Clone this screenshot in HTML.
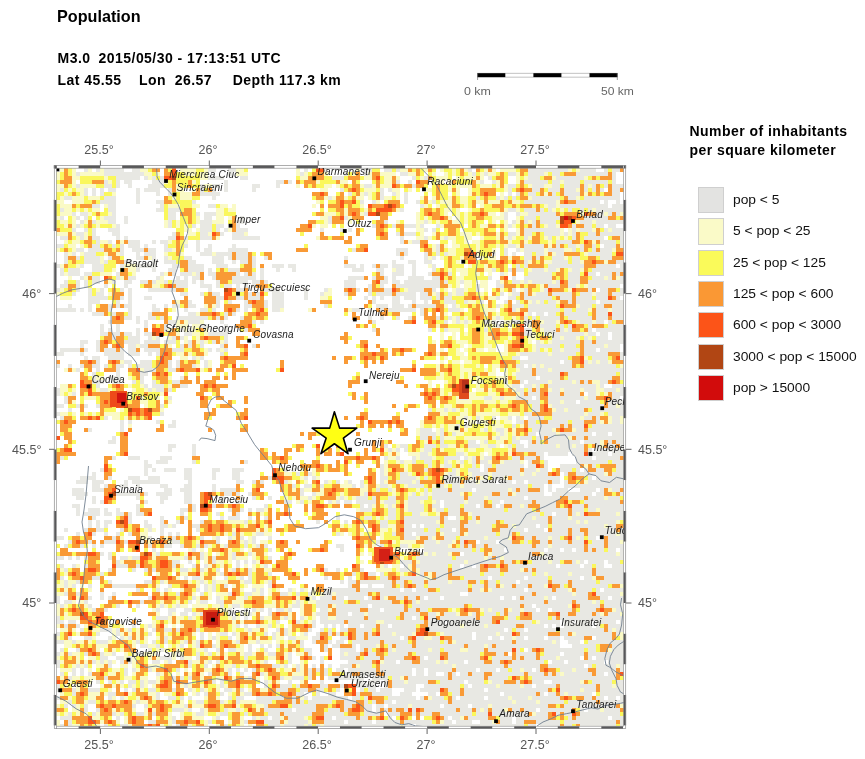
<!DOCTYPE html>
<html><head><meta charset="utf-8"><style>
html,body{margin:0;padding:0;background:#fff;}
body{width:865px;height:759px;position:relative;overflow:hidden;font-family:"Liberation Sans",Arial,sans-serif;}
.t{position:absolute;font-weight:bold;color:#000;white-space:nowrap;}
.tl{position:absolute;width:80px;text-align:center;font-size:13.4px;transform:scaleX(0.935);color:#555;white-space:nowrap;}
.tr{position:absolute;text-align:right;font-size:13.4px;transform:scaleX(0.935);transform-origin:right;color:#555;white-space:nowrap;}
.tll{position:absolute;text-align:left;font-size:13.4px;transform:scaleX(0.935);transform-origin:left;color:#555;white-space:nowrap;}
.lb{position:absolute;left:698px;width:24.3px;height:24.3px;border:0.5px solid #cfcfcf;}
.lt{position:absolute;left:732.5px;font-size:12px;transform:scaleX(1.15);transform-origin:left;color:#111;white-space:nowrap;}
.h{font-size:14px;letter-spacing:0.45px;}
.sk{position:absolute;font-size:11px;transform-origin:left;color:#666;white-space:nowrap;}
.c{position:absolute;font-style:italic;font-size:10px;line-height:12px;letter-spacing:0.2px;color:#1a1a1a;white-space:nowrap;}
svg{position:absolute;left:0;top:0;}
</style></head><body>
<div class="t m" style="left:57px;top:7px;font-size:16.2px">Population</div>
<div class="t h m" style="left:57.6px;top:50px">M3.0</div>
<div class="t h m" style="left:98.6px;top:50px">2015/05/30 - 17:13:51 UTC</div>
<div class="t h m" style="left:57.6px;top:72px">Lat 45.55</div>
<div class="t h m" style="left:139px;top:72px">Lon&nbsp; 26.57</div>
<div class="t h m" style="left:232.8px;top:72px">Depth 117.3 km</div>
<svg width="865" height="759" viewBox="0 0 865 759">
<g id="map"><rect x="56" y="168" width="568" height="558" fill="#e8e8e3"/>
<path fill="#ffffff" d="M76 168h8v4h-8zM92 168h4v4h-4zM124 168h8v4h-8zM160 168h4v4h-4zM176 168h4v4h-4zM216 168h12v4h-12zM248 168h48v4h-48zM300 168h4v4h-4zM308 168h4v4h-4zM328 168h28v4h-28zM360 168h4v4h-4zM380 168h4v4h-4zM436 168h4v4h-4zM472 168h4v4h-4zM496 168h4v4h-4zM596 168h8v4h-8zM160 172h4v4h-4zM208 172h20v4h-20zM232 172h4v4h-4zM248 172h48v4h-48zM328 172h16v4h-16zM360 172h4v4h-4zM396 172h4v4h-4zM424 172h4v4h-4zM436 172h8v4h-8zM616 172h8v4h-8zM140 176h4v4h-4zM224 176h16v4h-16zM248 176h48v4h-48zM400 176h12v4h-12zM452 176h4v4h-4zM484 176h4v4h-4zM508 176h8v4h-8zM616 176h8v4h-8zM76 180h4v4h-4zM120 180h4v4h-4zM132 180h20v4h-20zM200 180h24v4h-24zM228 180h48v4h-48zM292 180h4v4h-4zM348 180h4v4h-4zM360 180h12v4h-12zM400 180h8v4h-8zM412 180h4v4h-4zM428 180h4v4h-4zM444 180h4v4h-4zM484 180h8v4h-8zM508 180h8v4h-8zM616 180h8v4h-8zM120 184h8v4h-8zM132 184h16v4h-16zM220 184h4v4h-4zM228 184h24v4h-24zM260 184h16v4h-16zM280 184h16v4h-16zM300 184h4v4h-4zM332 184h4v4h-4zM428 184h4v4h-4zM88 188h4v4h-4zM96 188h4v4h-4zM104 188h4v4h-4zM116 188h20v4h-20zM140 188h4v4h-4zM160 188h8v4h-8zM184 188h8v4h-8zM216 188h8v4h-8zM228 188h24v4h-24zM256 188h64v4h-64zM328 188h12v4h-12zM384 188h4v4h-4zM400 188h4v4h-4zM412 188h4v4h-4zM420 188h4v4h-4zM460 188h8v4h-8zM604 188h4v4h-4zM88 192h4v4h-4zM96 192h4v4h-4zM116 192h20v4h-20zM140 192h16v4h-16zM160 192h8v4h-8zM220 192h92v4h-92zM328 192h8v4h-8zM344 192h4v4h-4zM384 192h8v4h-8zM400 192h4v4h-4zM408 192h16v4h-16zM428 192h4v4h-4zM448 192h4v4h-4zM460 192h8v4h-8zM496 192h4v4h-4zM504 192h4v4h-4zM512 192h4v4h-4zM620 192h4v4h-4zM116 196h20v4h-20zM140 196h24v4h-24zM200 196h12v4h-12zM216 196h96v4h-96zM364 196h4v4h-4zM400 196h4v4h-4zM408 196h12v4h-12zM428 196h4v4h-4zM620 196h4v4h-4zM64 200h8v4h-8zM116 200h20v4h-20zM140 200h16v4h-16zM196 200h120v4h-120zM324 200h4v4h-4zM364 200h8v4h-8zM380 200h4v4h-4zM400 200h4v4h-4zM408 200h8v4h-8zM600 200h4v4h-4zM608 200h8v4h-8zM620 200h4v4h-4zM100 204h4v4h-4zM116 204h44v4h-44zM200 204h8v4h-8zM228 204h4v4h-4zM236 204h76v4h-76zM316 204h4v4h-4zM324 204h4v4h-4zM364 204h4v4h-4zM404 204h16v4h-16zM432 204h4v4h-4zM476 204h4v4h-4zM608 204h4v4h-4zM100 208h4v4h-4zM116 208h40v4h-40zM196 208h20v4h-20zM236 208h84v4h-84zM324 208h4v4h-4zM404 208h16v4h-16zM460 208h8v4h-8zM76 212h4v4h-4zM116 212h48v4h-48zM176 212h4v4h-4zM200 212h4v4h-4zM236 212h76v4h-76zM392 212h24v4h-24zM448 212h4v4h-4zM496 212h4v4h-4zM508 212h8v4h-8zM64 216h4v4h-4zM80 216h4v4h-4zM92 216h4v4h-4zM116 216h8v4h-8zM128 216h36v4h-36zM176 216h4v4h-4zM200 216h4v4h-4zM212 216h4v4h-4zM224 216h4v4h-4zM236 216h4v4h-4zM244 216h76v4h-76zM364 216h16v4h-16zM388 216h28v4h-28zM452 216h4v4h-4zM508 216h8v4h-8zM76 220h4v4h-4zM116 220h8v4h-8zM128 220h36v4h-36zM224 220h4v4h-4zM244 220h64v4h-64zM344 220h4v4h-4zM352 220h4v4h-4zM360 220h12v4h-12zM388 220h8v4h-8zM404 220h12v4h-12zM484 220h4v4h-4zM496 220h4v4h-4zM508 220h4v4h-4zM120 224h44v4h-44zM196 224h4v4h-4zM224 224h4v4h-4zM240 224h60v4h-60zM316 224h4v4h-4zM328 224h4v4h-4zM336 224h4v4h-4zM344 224h28v4h-28zM424 224h12v4h-12zM464 224h4v4h-4zM604 224h4v4h-4zM616 224h8v4h-8zM76 228h8v4h-8zM96 228h12v4h-12zM120 228h56v4h-56zM192 228h4v4h-4zM220 228h4v4h-4zM248 228h48v4h-48zM312 228h8v4h-8zM324 228h16v4h-16zM344 228h4v4h-4zM352 228h4v4h-4zM364 228h12v4h-12zM388 228h8v4h-8zM404 228h12v4h-12zM428 228h4v4h-4zM440 228h4v4h-4zM460 228h4v4h-4zM496 228h4v4h-4zM508 228h8v4h-8zM564 228h4v4h-4zM96 232h16v4h-16zM120 232h52v4h-52zM184 232h4v4h-4zM224 232h8v4h-8zM248 232h52v4h-52zM304 232h16v4h-16zM324 232h16v4h-16zM344 232h12v4h-12zM360 232h16v4h-16zM388 232h8v4h-8zM424 232h8v4h-8zM56 236h4v4h-4zM100 236h16v4h-16zM120 236h4v4h-4zM128 236h40v4h-40zM220 236h12v4h-12zM260 236h56v4h-56zM344 236h4v4h-4zM352 236h24v4h-24zM388 236h12v4h-12zM404 236h12v4h-12zM472 236h8v4h-8zM604 236h4v4h-4zM56 240h8v4h-8zM112 240h4v4h-4zM140 240h12v4h-12zM156 240h4v4h-4zM188 240h8v4h-8zM200 240h144v4h-144zM352 240h48v4h-48zM428 240h12v4h-12zM448 240h4v4h-4zM468 240h4v4h-4zM76 244h4v4h-4zM124 244h4v4h-4zM140 244h4v4h-4zM148 244h16v4h-16zM188 244h8v4h-8zM200 244h8v4h-8zM212 244h20v4h-20zM236 244h68v4h-68zM308 244h48v4h-48zM368 244h52v4h-52zM448 244h4v4h-4zM600 244h4v4h-4zM84 248h4v4h-4zM124 248h8v4h-8zM156 248h8v4h-8zM184 248h12v4h-12zM200 248h4v4h-4zM212 248h16v4h-16zM248 248h48v4h-48zM308 248h40v4h-40zM368 248h28v4h-28zM408 248h12v4h-12zM496 248h4v4h-4zM508 248h8v4h-8zM56 252h8v4h-8zM76 252h4v4h-4zM124 252h12v4h-12zM140 252h4v4h-4zM156 252h8v4h-8zM184 252h16v4h-16zM256 252h4v4h-4zM272 252h124v4h-124zM408 252h16v4h-16zM496 252h4v4h-4zM508 252h4v4h-4zM516 252h8v4h-8zM56 256h8v4h-8zM104 256h4v4h-4zM124 256h12v4h-12zM156 256h8v4h-8zM192 256h20v4h-20zM224 256h4v4h-4zM256 256h8v4h-8zM272 256h72v4h-72zM348 256h52v4h-52zM404 256h20v4h-20zM436 256h4v4h-4zM476 256h4v4h-4zM496 256h4v4h-4zM56 260h8v4h-8zM132 260h20v4h-20zM156 260h8v4h-8zM196 260h16v4h-16zM224 260h8v4h-8zM236 260h4v4h-4zM256 260h88v4h-88zM348 260h44v4h-44zM396 260h12v4h-12zM416 260h8v4h-8zM432 260h12v4h-12zM460 260h4v4h-4zM84 264h8v4h-8zM116 264h4v4h-4zM156 264h16v4h-16zM204 264h12v4h-12zM228 264h12v4h-12zM256 264h4v4h-4zM264 264h8v4h-8zM284 264h4v4h-4zM296 264h48v4h-48zM356 264h4v4h-4zM364 264h8v4h-8zM388 264h4v4h-4zM404 264h8v4h-8zM416 264h12v4h-12zM436 264h8v4h-8zM464 264h4v4h-4zM508 264h4v4h-4zM616 264h4v4h-4zM56 268h4v4h-4zM80 268h12v4h-12zM116 268h4v4h-4zM140 268h12v4h-12zM156 268h12v4h-12zM176 268h4v4h-4zM204 268h4v4h-4zM212 268h4v4h-4zM256 268h4v4h-4zM264 268h12v4h-12zM280 268h12v4h-12zM296 268h56v4h-56zM364 268h12v4h-12zM384 268h8v4h-8zM404 268h8v4h-8zM416 268h16v4h-16zM56 272h4v4h-4zM80 272h4v4h-4zM112 272h4v4h-4zM136 272h24v4h-24zM176 272h4v4h-4zM204 272h4v4h-4zM240 272h4v4h-4zM256 272h4v4h-4zM264 272h108v4h-108zM384 272h8v4h-8zM404 272h8v4h-8zM416 272h12v4h-12zM456 272h4v4h-4zM484 272h4v4h-4zM492 272h8v4h-8zM508 272h4v4h-4zM516 272h8v4h-8zM596 272h4v4h-4zM56 276h12v4h-12zM72 276h8v4h-8zM100 276h4v4h-4zM136 276h20v4h-20zM164 276h12v4h-12zM180 276h4v4h-4zM188 276h4v4h-4zM204 276h8v4h-8zM256 276h4v4h-4zM264 276h84v4h-84zM368 276h4v4h-4zM388 276h4v4h-4zM396 276h12v4h-12zM424 276h8v4h-8zM492 276h8v4h-8zM508 276h4v4h-4zM516 276h8v4h-8zM56 280h8v4h-8zM80 280h4v4h-4zM100 280h4v4h-4zM116 280h8v4h-8zM132 280h8v4h-8zM188 280h4v4h-4zM196 280h4v4h-4zM204 280h12v4h-12zM248 280h4v4h-4zM268 280h76v4h-76zM356 280h16v4h-16zM388 280h4v4h-4zM400 280h4v4h-4zM476 280h4v4h-4zM488 280h8v4h-8zM56 284h4v4h-4zM80 284h4v4h-4zM92 284h12v4h-12zM108 284h4v4h-4zM116 284h8v4h-8zM128 284h12v4h-12zM188 284h12v4h-12zM212 284h4v4h-4zM232 284h4v4h-4zM240 284h4v4h-4zM248 284h4v4h-4zM272 284h72v4h-72zM356 284h12v4h-12zM384 284h8v4h-8zM460 284h4v4h-4zM488 284h8v4h-8zM620 284h4v4h-4zM80 288h8v4h-8zM104 288h4v4h-4zM124 288h4v4h-4zM132 288h16v4h-16zM188 288h20v4h-20zM212 288h12v4h-12zM248 288h12v4h-12zM280 288h24v4h-24zM308 288h16v4h-16zM332 288h12v4h-12zM360 288h4v4h-4zM436 288h4v4h-4zM448 288h4v4h-4zM480 288h4v4h-4zM488 288h4v4h-4zM516 288h4v4h-4zM596 288h4v4h-4zM76 292h12v4h-12zM104 292h4v4h-4zM124 292h4v4h-4zM132 292h48v4h-48zM188 292h12v4h-12zM220 292h4v4h-4zM268 292h4v4h-4zM284 292h20v4h-20zM308 292h12v4h-12zM332 292h12v4h-12zM356 292h12v4h-12zM416 292h4v4h-4zM488 292h4v4h-4zM504 292h4v4h-4zM56 296h4v4h-4zM72 296h16v4h-16zM124 296h4v4h-4zM132 296h12v4h-12zM152 296h32v4h-32zM188 296h16v4h-16zM264 296h8v4h-8zM284 296h20v4h-20zM308 296h12v4h-12zM332 296h16v4h-16zM352 296h12v4h-12zM368 296h4v4h-4zM376 296h4v4h-4zM384 296h8v4h-8zM400 296h4v4h-4zM416 296h4v4h-4zM500 296h8v4h-8zM620 296h4v4h-4zM56 300h32v4h-32zM100 300h12v4h-12zM120 300h8v4h-8zM132 300h40v4h-40zM192 300h12v4h-12zM220 300h4v4h-4zM232 300h12v4h-12zM268 300h4v4h-4zM284 300h36v4h-36zM332 300h36v4h-36zM376 300h16v4h-16zM400 300h12v4h-12zM416 300h8v4h-8zM428 300h4v4h-4zM484 300h4v4h-4zM496 300h8v4h-8zM512 300h4v4h-4zM596 300h4v4h-4zM56 304h12v4h-12zM72 304h16v4h-16zM92 304h4v4h-4zM132 304h20v4h-20zM156 304h8v4h-8zM168 304h4v4h-4zM196 304h8v4h-8zM220 304h4v4h-4zM240 304h4v4h-4zM268 304h4v4h-4zM284 304h40v4h-40zM332 304h32v4h-32zM372 304h4v4h-4zM388 304h4v4h-4zM404 304h4v4h-4zM448 304h4v4h-4zM76 308h4v4h-4zM84 308h4v4h-4zM92 308h4v4h-4zM112 308h16v4h-16zM132 308h20v4h-20zM160 308h4v4h-4zM176 308h8v4h-8zM188 308h12v4h-12zM216 308h8v4h-8zM240 308h4v4h-4zM248 308h4v4h-4zM268 308h4v4h-4zM284 308h24v4h-24zM316 308h28v4h-28zM360 308h8v4h-8zM372 308h4v4h-4zM416 308h4v4h-4zM464 308h4v4h-4zM496 308h4v4h-4zM56 312h36v4h-36zM132 312h16v4h-16zM168 312h20v4h-20zM236 312h8v4h-8zM268 312h76v4h-76zM348 312h4v4h-4zM356 312h24v4h-24zM400 312h12v4h-12zM416 312h4v4h-4zM428 312h4v4h-4zM436 312h4v4h-4zM448 312h4v4h-4zM532 312h4v4h-4zM544 312h4v4h-4zM56 316h56v4h-56zM132 316h4v4h-4zM140 316h8v4h-8zM172 316h4v4h-4zM228 316h12v4h-12zM268 316h84v4h-84zM360 316h8v4h-8zM372 316h8v4h-8zM384 316h8v4h-8zM400 316h8v4h-8zM416 316h8v4h-8zM56 320h52v4h-52zM124 320h12v4h-12zM140 320h4v4h-4zM148 320h16v4h-16zM204 320h16v4h-16zM224 320h16v4h-16zM256 320h4v4h-4zM264 320h104v4h-104zM376 320h28v4h-28zM416 320h8v4h-8zM448 320h4v4h-4zM496 320h8v4h-8zM604 320h4v4h-4zM56 324h44v4h-44zM104 324h12v4h-12zM120 324h24v4h-24zM148 324h4v4h-4zM168 324h8v4h-8zM188 324h4v4h-4zM208 324h16v4h-16zM228 324h8v4h-8zM256 324h100v4h-100zM368 324h4v4h-4zM376 324h52v4h-52zM508 324h4v4h-4zM524 324h4v4h-4zM56 328h44v4h-44zM104 328h4v4h-4zM112 328h4v4h-4zM120 328h16v4h-16zM140 328h4v4h-4zM148 328h4v4h-4zM208 328h16v4h-16zM228 328h12v4h-12zM260 328h112v4h-112zM380 328h48v4h-48zM436 328h4v4h-4zM464 328h4v4h-4zM592 328h4v4h-4zM56 332h44v4h-44zM132 332h4v4h-4zM140 332h4v4h-4zM180 332h4v4h-4zM228 332h24v4h-24zM260 332h84v4h-84zM348 332h28v4h-28zM380 332h60v4h-60zM444 332h8v4h-8zM456 332h4v4h-4zM596 332h4v4h-4zM608 332h4v4h-4zM56 336h44v4h-44zM140 336h8v4h-8zM160 336h8v4h-8zM188 336h4v4h-4zM228 336h8v4h-8zM248 336h92v4h-92zM352 336h76v4h-76zM432 336h8v4h-8zM444 336h4v4h-4zM456 336h4v4h-4zM608 336h4v4h-4zM56 340h24v4h-24zM88 340h8v4h-8zM140 340h4v4h-4zM160 340h4v4h-4zM180 340h4v4h-4zM228 340h8v4h-8zM240 340h104v4h-104zM348 340h12v4h-12zM368 340h60v4h-60zM436 340h4v4h-4zM532 340h4v4h-4zM56 344h24v4h-24zM84 344h12v4h-12zM108 344h4v4h-4zM124 344h4v4h-4zM172 344h4v4h-4zM204 344h16v4h-16zM228 344h8v4h-8zM248 344h4v4h-4zM260 344h96v4h-96zM368 344h8v4h-8zM380 344h48v4h-48zM436 344h4v4h-4zM464 344h4v4h-4zM496 344h8v4h-8zM620 344h4v4h-4zM56 348h4v4h-4zM88 348h8v4h-8zM124 348h4v4h-4zM140 348h4v4h-4zM212 348h4v4h-4zM228 348h12v4h-12zM248 348h112v4h-112zM368 348h12v4h-12zM388 348h4v4h-4zM416 348h12v4h-12zM436 348h4v4h-4zM444 348h4v4h-4zM460 348h4v4h-4zM484 348h4v4h-4zM496 348h8v4h-8zM596 348h4v4h-4zM620 348h4v4h-4zM64 352h16v4h-16zM84 352h20v4h-20zM124 352h4v4h-4zM140 352h8v4h-8zM152 352h4v4h-4zM208 352h12v4h-12zM228 352h12v4h-12zM248 352h112v4h-112zM388 352h4v4h-4zM404 352h20v4h-20zM464 352h4v4h-4zM56 356h28v4h-28zM88 356h4v4h-4zM100 356h8v4h-8zM124 356h32v4h-32zM172 356h8v4h-8zM188 356h4v4h-4zM204 356h16v4h-16zM248 356h84v4h-84zM336 356h8v4h-8zM356 356h4v4h-4zM388 356h32v4h-32zM436 356h4v4h-4zM448 356h4v4h-4zM520 356h8v4h-8zM60 360h20v4h-20zM100 360h8v4h-8zM132 360h8v4h-8zM172 360h4v4h-4zM200 360h4v4h-4zM212 360h8v4h-8zM236 360h44v4h-44zM284 360h60v4h-60zM348 360h12v4h-12zM368 360h4v4h-4zM376 360h4v4h-4zM384 360h28v4h-28zM416 360h24v4h-24zM444 360h4v4h-4zM460 360h4v4h-4zM560 360h4v4h-4zM60 364h8v4h-8zM72 364h8v4h-8zM100 364h4v4h-4zM124 364h4v4h-4zM172 364h4v4h-4zM200 364h4v4h-4zM212 364h8v4h-8zM236 364h4v4h-4zM244 364h36v4h-36zM284 364h80v4h-80zM368 364h44v4h-44zM416 364h8v4h-8zM484 364h4v4h-4zM524 364h4v4h-4zM56 368h8v4h-8zM80 368h4v4h-4zM92 368h4v4h-4zM100 368h4v4h-4zM120 368h8v4h-8zM212 368h4v4h-4zM224 368h8v4h-8zM248 368h28v4h-28zM284 368h116v4h-116zM416 368h4v4h-4zM496 368h4v4h-4zM56 372h24v4h-24zM88 372h4v4h-4zM104 372h12v4h-12zM120 372h8v4h-8zM148 372h4v4h-4zM172 372h12v4h-12zM188 372h8v4h-8zM200 372h16v4h-16zM220 372h4v4h-4zM228 372h4v4h-4zM236 372h120v4h-120zM360 372h60v4h-60zM496 372h8v4h-8zM56 376h24v4h-24zM104 376h4v4h-4zM120 376h8v4h-8zM144 376h8v4h-8zM172 376h8v4h-8zM188 376h8v4h-8zM200 376h12v4h-12zM220 376h4v4h-4zM228 376h4v4h-4zM236 376h116v4h-116zM360 376h40v4h-40zM404 376h20v4h-20zM536 376h4v4h-4zM56 380h24v4h-24zM104 380h8v4h-8zM120 380h12v4h-12zM144 380h8v4h-8zM192 380h4v4h-4zM200 380h4v4h-4zM216 380h132v4h-132zM360 380h36v4h-36zM404 380h24v4h-24zM432 380h12v4h-12zM472 380h4v4h-4zM524 380h4v4h-4zM56 384h4v4h-4zM76 384h4v4h-4zM100 384h8v4h-8zM148 384h4v4h-4zM188 384h12v4h-12zM228 384h120v4h-120zM352 384h52v4h-52zM408 384h8v4h-8zM432 384h4v4h-4zM440 384h4v4h-4zM520 384h4v4h-4zM604 384h8v4h-8zM76 388h4v4h-4zM124 388h8v4h-8zM176 388h24v4h-24zM220 388h204v4h-204zM472 388h4v4h-4zM76 392h4v4h-4zM168 392h28v4h-28zM204 392h8v4h-8zM220 392h128v4h-128zM356 392h8v4h-8zM368 392h52v4h-52zM584 392h4v4h-4zM56 396h8v4h-8zM76 396h4v4h-4zM112 396h4v4h-4zM160 396h4v4h-4zM172 396h28v4h-28zM212 396h4v4h-4zM224 396h20v4h-20zM248 396h104v4h-104zM356 396h4v4h-4zM368 396h56v4h-56zM532 396h4v4h-4zM620 396h4v4h-4zM56 400h8v4h-8zM76 400h4v4h-4zM84 400h12v4h-12zM160 400h4v4h-4zM172 400h28v4h-28zM208 400h20v4h-20zM236 400h8v4h-8zM248 400h116v4h-116zM368 400h56v4h-56zM436 400h4v4h-4zM576 400h4v4h-4zM64 404h4v4h-4zM88 404h8v4h-8zM140 404h4v4h-4zM168 404h32v4h-32zM208 404h8v4h-8zM232 404h160v4h-160zM396 404h8v4h-8zM420 404h8v4h-8zM436 404h4v4h-4zM56 408h12v4h-12zM72 408h8v4h-8zM84 408h16v4h-16zM116 408h4v4h-4zM164 408h48v4h-48zM216 408h28v4h-28zM248 408h116v4h-116zM368 408h36v4h-36zM408 408h20v4h-20zM76 412h4v4h-4zM164 412h40v4h-40zM216 412h20v4h-20zM248 412h112v4h-112zM368 412h28v4h-28zM400 412h28v4h-28zM56 416h4v4h-4zM76 416h4v4h-4zM108 416h4v4h-4zM152 416h52v4h-52zM212 416h24v4h-24zM248 416h96v4h-96zM348 416h8v4h-8zM368 416h24v4h-24zM400 416h24v4h-24zM496 416h4v4h-4zM512 416h4v4h-4zM524 416h4v4h-4zM76 420h44v4h-44zM124 420h4v4h-4zM132 420h24v4h-24zM164 420h8v4h-8zM176 420h184v4h-184zM364 420h4v4h-4zM404 420h16v4h-16zM464 420h4v4h-4zM476 420h4v4h-4zM512 420h4v4h-4zM56 424h4v4h-4zM72 424h48v4h-48zM124 424h4v4h-4zM132 424h28v4h-28zM164 424h4v4h-4zM176 424h64v4h-64zM248 424h108v4h-108zM364 424h4v4h-4zM376 424h4v4h-4zM384 424h4v4h-4zM392 424h4v4h-4zM404 424h16v4h-16zM56 428h4v4h-4zM72 428h12v4h-12zM92 428h28v4h-28zM124 428h4v4h-4zM132 428h24v4h-24zM164 428h44v4h-44zM212 428h28v4h-28zM248 428h120v4h-120zM372 428h16v4h-16zM392 428h8v4h-8zM408 428h8v4h-8zM432 428h4v4h-4zM56 432h4v4h-4zM72 432h44v4h-44zM128 432h172v4h-172zM304 432h4v4h-4zM320 432h36v4h-36zM360 432h40v4h-40zM408 432h8v4h-8zM536 432h4v4h-4zM592 432h4v4h-4zM608 432h4v4h-4zM60 436h4v4h-4zM72 436h40v4h-40zM116 436h4v4h-4zM128 436h180v4h-180zM312 436h104v4h-104zM56 440h12v4h-12zM76 440h32v4h-32zM116 440h4v4h-4zM128 440h244v4h-244zM376 440h4v4h-4zM392 440h24v4h-24zM476 440h4v4h-4zM520 440h8v4h-8zM580 440h4v4h-4zM56 444h8v4h-8zM72 444h48v4h-48zM128 444h40v4h-40zM176 444h16v4h-16zM196 444h96v4h-96zM304 444h8v4h-8zM320 444h16v4h-16zM340 444h32v4h-32zM376 444h4v4h-4zM388 444h4v4h-4zM500 444h4v4h-4zM524 444h4v4h-4zM72 448h48v4h-48zM128 448h40v4h-40zM172 448h20v4h-20zM196 448h64v4h-64zM268 448h16v4h-16zM292 448h4v4h-4zM304 448h12v4h-12zM320 448h4v4h-4zM332 448h4v4h-4zM340 448h24v4h-24zM368 448h4v4h-4zM400 448h4v4h-4zM592 448h4v4h-4zM76 452h40v4h-40zM128 452h64v4h-64zM196 452h64v4h-64zM268 452h4v4h-4zM276 452h8v4h-8zM288 452h28v4h-28zM320 452h4v4h-4zM332 452h4v4h-4zM344 452h12v4h-12zM360 452h4v4h-4zM368 452h12v4h-12zM400 452h8v4h-8zM484 452h4v4h-4zM544 452h4v4h-4zM568 452h4v4h-4zM608 452h4v4h-4zM68 456h36v4h-36zM116 456h12v4h-12zM140 456h20v4h-20zM172 456h20v4h-20zM200 456h60v4h-60zM292 456h24v4h-24zM320 456h24v4h-24zM380 456h4v4h-4zM400 456h12v4h-12zM460 456h4v4h-4zM544 456h32v4h-32zM592 456h4v4h-4zM60 460h44v4h-44zM108 460h36v4h-36zM148 460h8v4h-8zM168 460h24v4h-24zM200 460h40v4h-40zM248 460h24v4h-24zM288 460h12v4h-12zM304 460h8v4h-8zM320 460h16v4h-16zM340 460h4v4h-4zM352 460h4v4h-4zM364 460h8v4h-8zM380 460h4v4h-4zM524 460h4v4h-4zM548 460h28v4h-28zM56 464h48v4h-48zM112 464h32v4h-32zM152 464h148v4h-148zM332 464h4v4h-4zM348 464h8v4h-8zM360 464h16v4h-16zM480 464h4v4h-4zM524 464h4v4h-4zM548 464h12v4h-12zM56 468h44v4h-44zM116 468h28v4h-28zM148 468h4v4h-4zM156 468h8v4h-8zM176 468h8v4h-8zM192 468h20v4h-20zM220 468h12v4h-12zM244 468h28v4h-28zM288 468h4v4h-4zM296 468h4v4h-4zM308 468h4v4h-4zM348 468h20v4h-20zM376 468h4v4h-4zM480 468h4v4h-4zM548 468h4v4h-4zM580 468h4v4h-4zM56 472h36v4h-36zM96 472h8v4h-8zM112 472h32v4h-32zM148 472h36v4h-36zM192 472h20v4h-20zM216 472h16v4h-16zM240 472h20v4h-20zM264 472h8v4h-8zM320 472h24v4h-24zM352 472h16v4h-16zM376 472h4v4h-4zM560 472h4v4h-4zM56 476h24v4h-24zM96 476h8v4h-8zM112 476h16v4h-16zM140 476h8v4h-8zM160 476h24v4h-24zM192 476h20v4h-20zM216 476h16v4h-16zM240 476h20v4h-20zM308 476h4v4h-4zM320 476h44v4h-44zM376 476h4v4h-4zM560 476h4v4h-4zM592 476h4v4h-4zM56 480h20v4h-20zM88 480h4v4h-4zM104 480h8v4h-8zM116 480h8v4h-8zM128 480h4v4h-4zM160 480h28v4h-28zM192 480h44v4h-44zM244 480h8v4h-8zM264 480h8v4h-8zM292 480h4v4h-4zM308 480h4v4h-4zM320 480h4v4h-4zM340 480h4v4h-4zM352 480h8v4h-8zM376 480h4v4h-4zM496 480h4v4h-4zM512 480h4v4h-4zM524 480h4v4h-4zM560 480h4v4h-4zM56 484h36v4h-36zM100 484h4v4h-4zM116 484h4v4h-4zM128 484h8v4h-8zM140 484h20v4h-20zM168 484h16v4h-16zM192 484h20v4h-20zM216 484h20v4h-20zM240 484h12v4h-12zM264 484h16v4h-16zM300 484h4v4h-4zM356 484h4v4h-4zM544 484h4v4h-4zM552 484h12v4h-12zM56 488h16v4h-16zM84 488h8v4h-8zM116 488h48v4h-48zM172 488h8v4h-8zM192 488h20v4h-20zM216 488h4v4h-4zM244 488h8v4h-8zM260 488h20v4h-20zM472 488h4v4h-4zM544 488h4v4h-4zM552 488h4v4h-4zM568 488h12v4h-12zM596 488h4v4h-4zM56 492h16v4h-16zM88 492h16v4h-16zM148 492h8v4h-8zM172 492h12v4h-12zM192 492h8v4h-8zM240 492h8v4h-8zM268 492h16v4h-16zM304 492h8v4h-8zM544 492h8v4h-8zM592 492h4v4h-4zM56 496h20v4h-20zM84 496h8v4h-8zM96 496h8v4h-8zM116 496h20v4h-20zM144 496h16v4h-16zM168 496h16v4h-16zM192 496h8v4h-8zM212 496h8v4h-8zM224 496h12v4h-12zM244 496h8v4h-8zM264 496h4v4h-4zM272 496h8v4h-8zM524 496h4v4h-4zM56 500h36v4h-36zM96 500h4v4h-4zM116 500h24v4h-24zM148 500h12v4h-12zM164 500h20v4h-20zM192 500h8v4h-8zM212 500h8v4h-8zM224 500h12v4h-12zM240 500h36v4h-36zM292 500h4v4h-4zM324 500h4v4h-4zM340 500h4v4h-4zM352 500h4v4h-4zM440 500h4v4h-4zM500 500h4v4h-4zM56 504h16v4h-16zM80 504h56v4h-56zM144 504h44v4h-44zM196 504h4v4h-4zM244 504h20v4h-20zM272 504h12v4h-12zM292 504h12v4h-12zM308 504h4v4h-4zM340 504h4v4h-4zM364 504h4v4h-4zM440 504h4v4h-4zM476 504h4v4h-4zM496 504h4v4h-4zM56 508h20v4h-20zM80 508h8v4h-8zM100 508h4v4h-4zM108 508h8v4h-8zM120 508h16v4h-16zM152 508h28v4h-28zM196 508h4v4h-4zM212 508h16v4h-16zM244 508h4v4h-4zM252 508h4v4h-4zM272 508h4v4h-4zM280 508h4v4h-4zM288 508h16v4h-16zM308 508h4v4h-4zM324 508h32v4h-32zM56 512h20v4h-20zM80 512h4v4h-4zM100 512h4v4h-4zM112 512h4v4h-4zM132 512h4v4h-4zM152 512h28v4h-28zM184 512h4v4h-4zM192 512h8v4h-8zM212 512h4v4h-4zM224 512h8v4h-8zM240 512h8v4h-8zM272 512h4v4h-4zM292 512h12v4h-12zM308 512h4v4h-4zM328 512h8v4h-8zM340 512h16v4h-16zM552 512h4v4h-4zM56 516h32v4h-32zM96 516h20v4h-20zM132 516h28v4h-28zM164 516h12v4h-12zM192 516h16v4h-16zM212 516h8v4h-8zM224 516h4v4h-4zM240 516h8v4h-8zM252 516h4v4h-4zM260 516h4v4h-4zM272 516h4v4h-4zM280 516h28v4h-28zM324 516h12v4h-12zM340 516h16v4h-16zM448 516h8v4h-8zM56 520h32v4h-32zM92 520h4v4h-4zM100 520h4v4h-4zM112 520h4v4h-4zM132 520h12v4h-12zM148 520h12v4h-12zM168 520h8v4h-8zM184 520h4v4h-4zM192 520h8v4h-8zM272 520h24v4h-24zM300 520h16v4h-16zM320 520h4v4h-4zM328 520h4v4h-4zM340 520h4v4h-4zM348 520h4v4h-4zM56 524h32v4h-32zM92 524h4v4h-4zM100 524h4v4h-4zM108 524h8v4h-8zM140 524h4v4h-4zM152 524h8v4h-8zM176 524h12v4h-12zM272 524h12v4h-12zM304 524h24v4h-24zM364 524h4v4h-4zM412 524h4v4h-4zM420 524h4v4h-4zM536 524h4v4h-4zM56 528h8v4h-8zM68 528h16v4h-16zM108 528h12v4h-12zM156 528h4v4h-4zM164 528h24v4h-24zM192 528h4v4h-4zM272 528h4v4h-4zM296 528h36v4h-36zM364 528h4v4h-4zM452 528h4v4h-4zM524 528h4v4h-4zM544 528h4v4h-4zM56 532h20v4h-20zM80 532h4v4h-4zM96 532h8v4h-8zM108 532h8v4h-8zM124 532h4v4h-4zM148 532h12v4h-12zM164 532h4v4h-4zM172 532h4v4h-4zM180 532h8v4h-8zM192 532h8v4h-8zM272 532h8v4h-8zM284 532h48v4h-48zM344 532h4v4h-4zM412 532h4v4h-4zM64 536h4v4h-4zM92 536h12v4h-12zM124 536h12v4h-12zM152 536h8v4h-8zM204 536h8v4h-8zM220 536h8v4h-8zM244 536h4v4h-4zM256 536h12v4h-12zM272 536h80v4h-80zM376 536h4v4h-4zM596 536h4v4h-4zM56 540h12v4h-12zM96 540h4v4h-4zM220 540h8v4h-8zM256 540h4v4h-4zM272 540h4v4h-4zM288 540h8v4h-8zM300 540h24v4h-24zM332 540h24v4h-24zM476 540h4v4h-4zM496 540h4v4h-4zM60 544h4v4h-4zM88 544h4v4h-4zM96 544h4v4h-4zM104 544h12v4h-12zM124 544h4v4h-4zM140 544h4v4h-4zM172 544h8v4h-8zM268 544h8v4h-8zM288 544h32v4h-32zM328 544h8v4h-8zM344 544h12v4h-12zM376 544h4v4h-4zM56 548h4v4h-4zM68 548h24v4h-24zM96 548h20v4h-20zM124 548h4v4h-4zM140 548h4v4h-4zM148 548h4v4h-4zM156 548h4v4h-4zM164 548h24v4h-24zM196 548h4v4h-4zM204 548h4v4h-4zM244 548h4v4h-4zM272 548h4v4h-4zM284 548h4v4h-4zM292 548h16v4h-16zM328 548h12v4h-12zM344 548h12v4h-12zM364 548h4v4h-4zM400 548h8v4h-8zM420 548h4v4h-4zM504 548h4v4h-4zM544 548h4v4h-4zM560 548h4v4h-4zM572 548h4v4h-4zM616 548h4v4h-4zM104 552h4v4h-4zM116 552h24v4h-24zM212 552h4v4h-4zM268 552h16v4h-16zM296 552h60v4h-60zM364 552h4v4h-4zM460 552h4v4h-4zM64 556h4v4h-4zM72 556h4v4h-4zM80 556h4v4h-4zM100 556h8v4h-8zM116 556h4v4h-4zM248 556h4v4h-4zM272 556h8v4h-8zM292 556h64v4h-64zM360 556h12v4h-12zM56 560h28v4h-28zM100 560h12v4h-12zM180 560h8v4h-8zM192 560h4v4h-4zM200 560h4v4h-4zM232 560h4v4h-4zM240 560h4v4h-4zM248 560h4v4h-4zM272 560h4v4h-4zM288 560h68v4h-68zM364 560h4v4h-4zM584 560h4v4h-4zM604 560h4v4h-4zM64 564h8v4h-8zM80 564h4v4h-4zM100 564h12v4h-12zM184 564h8v4h-8zM200 564h4v4h-4zM232 564h4v4h-4zM240 564h4v4h-4zM248 564h4v4h-4zM268 564h4v4h-4zM288 564h28v4h-28zM324 564h28v4h-28zM360 564h16v4h-16zM388 564h4v4h-4zM400 564h4v4h-4zM460 564h4v4h-4zM472 564h4v4h-4zM556 564h4v4h-4zM580 564h4v4h-4zM604 564h8v4h-8zM80 568h4v4h-4zM100 568h8v4h-8zM116 568h12v4h-12zM136 568h8v4h-8zM220 568h4v4h-4zM292 568h12v4h-12zM308 568h4v4h-4zM328 568h8v4h-8zM340 568h4v4h-4zM348 568h4v4h-4zM364 568h12v4h-12zM116 572h28v4h-28zM152 572h4v4h-4zM172 572h4v4h-4zM272 572h12v4h-12zM300 572h4v4h-4zM308 572h12v4h-12zM376 572h4v4h-4zM64 576h4v4h-4zM104 576h48v4h-48zM180 576h4v4h-4zM188 576h4v4h-4zM216 576h8v4h-8zM244 576h4v4h-4zM280 576h8v4h-8zM300 576h24v4h-24zM328 576h4v4h-4zM344 576h4v4h-4zM352 576h4v4h-4zM488 576h4v4h-4zM524 576h4v4h-4zM580 576h4v4h-4zM92 580h8v4h-8zM112 580h32v4h-32zM276 580h16v4h-16zM296 580h44v4h-44zM344 580h4v4h-4zM516 580h4v4h-4zM76 584h4v4h-4zM84 584h4v4h-4zM92 584h8v4h-8zM160 584h8v4h-8zM200 584h4v4h-4zM228 584h4v4h-4zM248 584h4v4h-4zM264 584h4v4h-4zM284 584h16v4h-16zM308 584h8v4h-8zM324 584h24v4h-24zM360 584h8v4h-8zM372 584h12v4h-12zM76 588h4v4h-4zM92 588h8v4h-8zM104 588h32v4h-32zM144 588h8v4h-8zM160 588h4v4h-4zM172 588h8v4h-8zM200 588h4v4h-4zM228 588h4v4h-4zM244 588h8v4h-8zM264 588h4v4h-4zM280 588h8v4h-8zM296 588h4v4h-4zM308 588h4v4h-4zM400 588h4v4h-4zM412 588h4v4h-4zM524 588h4v4h-4zM600 588h4v4h-4zM88 592h12v4h-12zM104 592h8v4h-8zM116 592h12v4h-12zM148 592h4v4h-4zM196 592h4v4h-4zM212 592h4v4h-4zM264 592h4v4h-4zM460 592h8v4h-8zM60 596h8v4h-8zM92 596h8v4h-8zM104 596h4v4h-4zM116 596h32v4h-32zM212 596h4v4h-4zM316 596h4v4h-4zM344 596h4v4h-4zM364 596h4v4h-4zM424 596h4v4h-4zM440 596h4v4h-4zM500 596h4v4h-4zM512 596h4v4h-4zM552 596h4v4h-4zM608 596h4v4h-4zM60 600h4v4h-4zM76 600h4v4h-4zM88 600h20v4h-20zM192 600h4v4h-4zM208 600h8v4h-8zM92 604h8v4h-8zM120 604h8v4h-8zM132 604h4v4h-4zM140 604h8v4h-8zM188 604h4v4h-4zM368 604h4v4h-4zM532 604h4v4h-4zM108 608h24v4h-24zM136 608h16v4h-16zM160 608h8v4h-8zM176 608h8v4h-8zM232 608h12v4h-12zM248 608h4v4h-4zM264 608h4v4h-4zM272 608h4v4h-4zM292 608h8v4h-8zM316 608h4v4h-4zM380 608h4v4h-4zM536 608h4v4h-4zM548 608h4v4h-4zM104 612h44v4h-44zM160 612h8v4h-8zM176 612h4v4h-4zM188 612h4v4h-4zM204 612h4v4h-4zM232 612h4v4h-4zM260 612h8v4h-8zM296 612h4v4h-4zM348 612h4v4h-4zM112 616h40v4h-40zM240 616h4v4h-4zM248 616h4v4h-4zM296 616h4v4h-4zM316 616h4v4h-4zM412 616h4v4h-4zM64 620h4v4h-4zM76 620h4v4h-4zM108 620h8v4h-8zM120 620h12v4h-12zM136 620h16v4h-16zM280 620h8v4h-8zM316 620h4v4h-4zM444 620h4v4h-4zM560 620h4v4h-4zM572 620h4v4h-4zM592 620h4v4h-4zM616 620h4v4h-4zM80 624h4v4h-4zM124 624h8v4h-8zM136 624h4v4h-4zM168 624h4v4h-4zM176 624h4v4h-4zM240 624h4v4h-4zM248 624h8v4h-8zM284 624h4v4h-4zM316 624h8v4h-8zM328 624h4v4h-4zM336 624h4v4h-4zM344 624h4v4h-4zM360 624h4v4h-4zM388 624h4v4h-4zM544 624h4v4h-4zM552 624h4v4h-4zM560 624h4v4h-4zM592 624h4v4h-4zM56 628h4v4h-4zM76 628h4v4h-4zM148 628h4v4h-4zM268 628h8v4h-8zM312 628h8v4h-8zM336 628h4v4h-4zM504 628h4v4h-4zM524 628h4v4h-4zM100 632h12v4h-12zM152 632h4v4h-4zM196 632h4v4h-4zM204 632h4v4h-4zM212 632h4v4h-4zM228 632h4v4h-4zM268 632h4v4h-4zM296 632h4v4h-4zM308 632h8v4h-8zM472 632h4v4h-4zM72 636h12v4h-12zM96 636h12v4h-12zM116 636h4v4h-4zM148 636h8v4h-8zM196 636h4v4h-4zM204 636h4v4h-4zM232 636h4v4h-4zM284 636h4v4h-4zM308 636h4v4h-4zM332 636h8v4h-8zM400 636h4v4h-4zM472 636h4v4h-4zM488 636h4v4h-4zM500 636h4v4h-4zM524 636h4v4h-4zM544 636h4v4h-4zM560 636h4v4h-4zM592 636h4v4h-4zM148 640h4v4h-4zM212 640h4v4h-4zM272 640h4v4h-4zM304 640h8v4h-8zM332 640h4v4h-4zM344 640h4v4h-4zM560 640h8v4h-8zM580 640h4v4h-4zM56 644h8v4h-8zM136 644h4v4h-4zM164 644h4v4h-4zM184 644h4v4h-4zM244 644h4v4h-4zM252 644h8v4h-8zM264 644h4v4h-4zM272 644h4v4h-4zM304 644h16v4h-16zM328 644h4v4h-4zM356 644h4v4h-4zM560 644h12v4h-12zM56 648h4v4h-4zM68 648h8v4h-8zM100 648h4v4h-4zM136 648h12v4h-12zM208 648h8v4h-8zM224 648h4v4h-4zM244 648h4v4h-4zM252 648h4v4h-4zM268 648h8v4h-8zM312 648h8v4h-8zM332 648h8v4h-8zM356 648h4v4h-4zM524 648h4v4h-4zM116 652h8v4h-8zM156 652h16v4h-16zM292 652h4v4h-4zM312 652h16v4h-16zM332 652h8v4h-8zM508 652h4v4h-4zM560 652h4v4h-4zM84 656h4v4h-4zM108 656h8v4h-8zM176 656h4v4h-4zM192 656h4v4h-4zM292 656h8v4h-8zM316 656h4v4h-4zM332 656h8v4h-8zM424 656h4v4h-4zM580 656h4v4h-4zM592 656h4v4h-4zM116 660h4v4h-4zM148 660h4v4h-4zM160 660h4v4h-4zM172 660h4v4h-4zM212 660h4v4h-4zM268 660h8v4h-8zM292 660h8v4h-8zM308 660h12v4h-12zM324 660h24v4h-24zM396 660h4v4h-4zM464 660h4v4h-4zM548 660h4v4h-4zM564 660h4v4h-4zM604 660h4v4h-4zM92 664h4v4h-4zM112 664h8v4h-8zM128 664h4v4h-4zM208 664h4v4h-4zM288 664h4v4h-4zM308 664h4v4h-4zM316 664h4v4h-4zM324 664h4v4h-4zM332 664h8v4h-8zM584 664h4v4h-4zM56 668h4v4h-4zM76 668h4v4h-4zM84 668h4v4h-4zM92 668h4v4h-4zM128 668h4v4h-4zM180 668h4v4h-4zM188 668h4v4h-4zM232 668h4v4h-4zM240 668h4v4h-4zM248 668h4v4h-4zM332 668h4v4h-4zM344 668h4v4h-4zM412 668h4v4h-4zM424 668h4v4h-4zM476 668h4v4h-4zM496 668h4v4h-4zM532 668h4v4h-4zM56 672h4v4h-4zM68 672h4v4h-4zM76 672h4v4h-4zM84 672h4v4h-4zM128 672h4v4h-4zM148 672h8v4h-8zM172 672h4v4h-4zM180 672h4v4h-4zM204 672h4v4h-4zM232 672h4v4h-4zM244 672h8v4h-8zM412 672h4v4h-4zM424 672h4v4h-4zM436 672h8v4h-8zM456 672h4v4h-4zM604 672h4v4h-4zM148 676h8v4h-8zM260 676h4v4h-4zM316 676h4v4h-4zM324 676h4v4h-4zM364 676h8v4h-8zM92 680h4v4h-4zM104 680h4v4h-4zM124 680h4v4h-4zM188 680h4v4h-4zM216 680h4v4h-4zM260 680h4v4h-4zM280 680h8v4h-8zM292 680h8v4h-8zM308 680h12v4h-12zM324 680h32v4h-32zM364 680h4v4h-4zM380 680h4v4h-4zM464 680h4v4h-4zM544 680h8v4h-8zM72 684h4v4h-4zM88 684h12v4h-12zM148 684h4v4h-4zM172 684h4v4h-4zM256 684h8v4h-8zM376 684h8v4h-8zM416 684h8v4h-8zM468 684h4v4h-4zM532 684h4v4h-4zM112 688h4v4h-4zM120 688h4v4h-4zM128 688h4v4h-4zM184 688h4v4h-4zM220 688h4v4h-4zM244 688h4v4h-4zM340 688h4v4h-4zM356 688h4v4h-4zM376 688h4v4h-4zM392 688h12v4h-12zM416 688h4v4h-4zM484 688h4v4h-4zM56 692h4v4h-4zM160 692h4v4h-4zM188 692h4v4h-4zM200 692h4v4h-4zM224 692h4v4h-4zM304 692h8v4h-8zM320 692h8v4h-8zM336 692h8v4h-8zM392 692h8v4h-8zM412 692h16v4h-16zM436 692h4v4h-4zM500 692h4v4h-4zM544 692h4v4h-4zM592 692h4v4h-4zM104 696h4v4h-4zM116 696h4v4h-4zM160 696h8v4h-8zM184 696h4v4h-4zM192 696h12v4h-12zM220 696h8v4h-8zM244 696h12v4h-12zM308 696h4v4h-4zM348 696h4v4h-4zM416 696h4v4h-4zM456 696h4v4h-4zM484 696h4v4h-4zM604 696h4v4h-4zM616 696h4v4h-4zM56 700h4v4h-4zM184 700h4v4h-4zM392 700h4v4h-4zM68 704h4v4h-4zM88 704h8v4h-8zM136 704h8v4h-8zM372 704h4v4h-4zM384 704h4v4h-4zM440 704h4v4h-4zM468 704h4v4h-4zM584 704h4v4h-4zM68 708h4v4h-4zM88 708h8v4h-8zM136 708h8v4h-8zM192 708h8v4h-8zM292 708h4v4h-4zM372 708h4v4h-4zM536 708h4v4h-4zM584 708h4v4h-4zM172 712h8v4h-8zM384 712h4v4h-4zM56 716h4v4h-4zM112 716h4v4h-4zM120 716h4v4h-4zM152 716h4v4h-4zM176 716h4v4h-4zM204 716h8v4h-8zM220 716h8v4h-8zM244 716h8v4h-8zM268 716h4v4h-4zM332 716h4v4h-4zM392 716h4v4h-4zM412 716h4v4h-4zM420 716h4v4h-4zM448 716h4v4h-4zM512 716h4v4h-4zM608 716h4v4h-4zM60 720h4v4h-4zM120 720h4v4h-4zM144 720h4v4h-4zM224 720h4v4h-4zM344 720h4v4h-4zM372 720h4v4h-4zM452 720h4v4h-4zM472 720h8v4h-8zM512 720h4v4h-4zM100 724h4v2h-4zM172 724h4v2h-4zM208 724h8v2h-8zM244 724h4v2h-4zM252 724h4v2h-4zM412 724h4v2h-4zM536 724h4v2h-4z"/>
<path fill="#fafac6" d="M60 168h4v4h-4zM72 168h4v4h-4zM88 168h4v4h-4zM100 168h4v4h-4zM140 168h8v4h-8zM180 168h16v4h-16zM204 168h4v4h-4zM236 168h8v4h-8zM296 168h4v4h-4zM356 168h4v4h-4zM400 168h8v4h-8zM424 168h4v4h-4zM440 168h4v4h-4zM452 168h4v4h-4zM464 168h4v4h-4zM484 168h4v4h-4zM492 168h4v4h-4zM500 168h16v4h-16zM568 168h4v4h-4zM576 168h4v4h-4zM56 172h4v4h-4zM72 172h4v4h-4zM80 172h24v4h-24zM144 172h8v4h-8zM156 172h4v4h-4zM184 172h12v4h-12zM200 172h8v4h-8zM236 172h12v4h-12zM296 172h4v4h-4zM304 172h4v4h-4zM324 172h4v4h-4zM352 172h4v4h-4zM368 172h4v4h-4zM380 172h16v4h-16zM408 172h8v4h-8zM432 172h4v4h-4zM444 172h4v4h-4zM452 172h4v4h-4zM468 172h4v4h-4zM480 172h4v4h-4zM488 172h8v4h-8zM516 172h4v4h-4zM544 172h4v4h-4zM56 176h4v4h-4zM72 176h8v4h-8zM104 176h4v4h-4zM148 176h4v4h-4zM200 176h8v4h-8zM300 176h8v4h-8zM364 176h8v4h-8zM384 176h8v4h-8zM396 176h4v4h-4zM420 176h4v4h-4zM436 176h12v4h-12zM456 176h4v4h-4zM464 176h12v4h-12zM480 176h4v4h-4zM516 176h4v4h-4zM524 176h4v4h-4zM552 176h4v4h-4zM584 176h4v4h-4zM72 180h4v4h-4zM108 180h4v4h-4zM164 180h4v4h-4zM192 180h4v4h-4zM316 180h4v4h-4zM340 180h8v4h-8zM384 180h8v4h-8zM436 180h8v4h-8zM448 180h4v4h-4zM476 180h4v4h-4zM496 180h4v4h-4zM516 180h4v4h-4zM560 180h4v4h-4zM56 184h8v4h-8zM72 184h4v4h-4zM80 184h16v4h-16zM176 184h4v4h-4zM204 184h8v4h-8zM296 184h4v4h-4zM324 184h8v4h-8zM336 184h4v4h-4zM360 184h4v4h-4zM372 184h4v4h-4zM380 184h12v4h-12zM448 184h4v4h-4zM456 184h16v4h-16zM480 184h12v4h-12zM496 184h4v4h-4zM504 184h4v4h-4zM528 184h4v4h-4zM544 184h8v4h-8zM588 184h4v4h-4zM56 188h4v4h-4zM68 188h4v4h-4zM76 188h8v4h-8zM176 188h8v4h-8zM192 188h4v4h-4zM320 188h8v4h-8zM364 188h12v4h-12zM392 188h8v4h-8zM408 188h4v4h-4zM424 188h8v4h-8zM448 188h4v4h-4zM456 188h4v4h-4zM468 188h4v4h-4zM504 188h4v4h-4zM576 188h4v4h-4zM64 192h4v4h-4zM80 192h4v4h-4zM112 192h4v4h-4zM180 192h12v4h-12zM360 192h4v4h-4zM368 192h4v4h-4zM396 192h4v4h-4zM456 192h4v4h-4zM468 192h4v4h-4zM500 192h4v4h-4zM544 192h4v4h-4zM584 192h4v4h-4zM60 196h4v4h-4zM72 196h12v4h-12zM88 196h12v4h-12zM172 196h4v4h-4zM180 196h12v4h-12zM324 196h4v4h-4zM332 196h4v4h-4zM344 196h4v4h-4zM356 196h8v4h-8zM368 196h4v4h-4zM384 196h8v4h-8zM396 196h4v4h-4zM420 196h4v4h-4zM432 196h4v4h-4zM448 196h4v4h-4zM460 196h8v4h-8zM500 196h4v4h-4zM528 196h4v4h-4zM576 196h4v4h-4zM56 200h8v4h-8zM72 200h12v4h-12zM316 200h4v4h-4zM376 200h4v4h-4zM428 200h4v4h-4zM440 200h12v4h-12zM460 200h8v4h-8zM476 200h8v4h-8zM488 200h12v4h-12zM512 200h8v4h-8zM556 200h4v4h-4zM60 204h12v4h-12zM104 204h4v4h-4zM168 204h12v4h-12zM192 204h8v4h-8zM220 204h8v4h-8zM232 204h4v4h-4zM312 204h4v4h-4zM360 204h4v4h-4zM424 204h4v4h-4zM436 204h4v4h-4zM448 204h4v4h-4zM464 204h4v4h-4zM480 204h4v4h-4zM544 204h4v4h-4zM556 204h4v4h-4zM64 208h8v4h-8zM76 208h4v4h-4zM84 208h4v4h-4zM92 208h8v4h-8zM216 208h8v4h-8zM228 208h8v4h-8zM344 208h4v4h-4zM364 208h4v4h-4zM396 208h4v4h-4zM444 208h8v4h-8zM456 208h4v4h-4zM468 208h4v4h-4zM504 208h4v4h-4zM516 208h4v4h-4zM552 208h4v4h-4zM560 208h4v4h-4zM592 208h4v4h-4zM60 212h12v4h-12zM88 212h4v4h-4zM108 212h4v4h-4zM216 212h8v4h-8zM324 212h12v4h-12zM344 212h4v4h-4zM360 212h4v4h-4zM416 212h4v4h-4zM444 212h4v4h-4zM456 212h4v4h-4zM464 212h4v4h-4zM488 212h8v4h-8zM500 212h4v4h-4zM520 212h8v4h-8zM580 212h4v4h-4zM604 212h4v4h-4zM620 212h4v4h-4zM56 216h4v4h-4zM72 216h4v4h-4zM100 216h4v4h-4zM196 216h4v4h-4zM216 216h8v4h-8zM228 216h4v4h-4zM320 216h8v4h-8zM348 216h4v4h-4zM416 216h4v4h-4zM424 216h4v4h-4zM448 216h4v4h-4zM456 216h4v4h-4zM464 216h4v4h-4zM492 216h12v4h-12zM516 216h4v4h-4zM60 220h8v4h-8zM72 220h4v4h-4zM84 220h4v4h-4zM96 220h12v4h-12zM164 220h4v4h-4zM176 220h4v4h-4zM196 220h4v4h-4zM212 220h12v4h-12zM324 220h4v4h-4zM348 220h4v4h-4zM396 220h4v4h-4zM416 220h8v4h-8zM428 220h4v4h-4zM436 220h4v4h-4zM452 220h8v4h-8zM464 220h4v4h-4zM492 220h4v4h-4zM504 220h4v4h-4zM516 220h4v4h-4zM528 220h4v4h-4zM576 220h4v4h-4zM592 220h4v4h-4zM64 224h4v4h-4zM72 224h4v4h-4zM80 224h4v4h-4zM96 224h4v4h-4zM112 224h4v4h-4zM164 224h4v4h-4zM176 224h4v4h-4zM184 224h4v4h-4zM312 224h4v4h-4zM320 224h8v4h-8zM416 224h4v4h-4zM440 224h4v4h-4zM480 224h8v4h-8zM504 224h4v4h-4zM512 224h4v4h-4zM544 224h4v4h-4zM556 224h4v4h-4zM184 228h8v4h-8zM196 228h4v4h-4zM228 228h4v4h-4zM416 228h8v4h-8zM504 228h4v4h-4zM516 228h4v4h-4zM560 228h4v4h-4zM568 228h4v4h-4zM576 228h4v4h-4zM592 228h4v4h-4zM608 228h4v4h-4zM56 232h12v4h-12zM72 232h4v4h-4zM84 232h4v4h-4zM188 232h8v4h-8zM208 232h4v4h-4zM244 232h4v4h-4zM420 232h4v4h-4zM432 232h4v4h-4zM460 232h12v4h-12zM476 232h4v4h-4zM496 232h4v4h-4zM516 232h4v4h-4zM560 232h4v4h-4zM568 232h4v4h-4zM76 236h4v4h-4zM84 236h4v4h-4zM216 236h4v4h-4zM316 236h4v4h-4zM416 236h8v4h-8zM428 236h4v4h-4zM440 236h4v4h-4zM448 236h8v4h-8zM464 236h8v4h-8zM480 236h4v4h-4zM496 236h4v4h-4zM504 236h4v4h-4zM512 236h4v4h-4zM528 236h4v4h-4zM544 236h4v4h-4zM556 236h4v4h-4zM564 236h4v4h-4zM64 240h4v4h-4zM72 240h8v4h-8zM100 240h8v4h-8zM120 240h4v4h-4zM168 240h4v4h-4zM184 240h4v4h-4zM408 240h4v4h-4zM452 240h4v4h-4zM464 240h4v4h-4zM472 240h8v4h-8zM508 240h4v4h-4zM524 240h4v4h-4zM548 240h4v4h-4zM592 240h4v4h-4zM68 244h8v4h-8zM80 244h4v4h-4zM432 244h4v4h-4zM444 244h4v4h-4zM452 244h8v4h-8zM476 244h4v4h-4zM496 244h4v4h-4zM504 244h4v4h-4zM516 244h4v4h-4zM548 244h4v4h-4zM576 244h4v4h-4zM56 248h4v4h-4zM72 248h4v4h-4zM172 248h4v4h-4zM432 248h4v4h-4zM448 248h8v4h-8zM476 248h4v4h-4zM492 248h4v4h-4zM520 248h4v4h-4zM544 248h4v4h-4zM564 248h8v4h-8zM612 248h4v4h-4zM68 252h4v4h-4zM80 252h4v4h-4zM104 252h4v4h-4zM116 252h4v4h-4zM164 252h4v4h-4zM180 252h4v4h-4zM212 252h4v4h-4zM448 252h8v4h-8zM476 252h4v4h-4zM544 252h4v4h-4zM552 252h4v4h-4zM584 252h4v4h-4zM100 256h4v4h-4zM148 256h4v4h-4zM168 256h4v4h-4zM428 256h4v4h-4zM440 256h4v4h-4zM460 256h4v4h-4zM480 256h4v4h-4zM488 256h8v4h-8zM508 256h4v4h-4zM564 256h4v4h-4zM100 260h4v4h-4zM456 260h4v4h-4zM528 260h4v4h-4zM544 260h8v4h-8zM580 260h4v4h-4zM604 260h4v4h-4zM60 264h4v4h-4zM76 264h4v4h-4zM124 264h12v4h-12zM428 264h4v4h-4zM468 264h4v4h-4zM484 264h4v4h-4zM112 268h4v4h-4zM128 268h8v4h-8zM392 268h4v4h-4zM448 268h4v4h-4zM456 268h12v4h-12zM484 268h8v4h-8zM528 268h4v4h-4zM544 268h4v4h-4zM556 268h4v4h-4zM568 268h4v4h-4zM580 268h4v4h-4zM64 272h4v4h-4zM100 272h12v4h-12zM132 272h4v4h-4zM164 272h4v4h-4zM192 272h4v4h-4zM460 272h8v4h-8zM476 272h4v4h-4zM488 272h4v4h-4zM504 272h4v4h-4zM68 276h4v4h-4zM84 276h4v4h-4zM120 276h4v4h-4zM160 276h4v4h-4zM456 276h8v4h-8zM604 276h4v4h-4zM616 276h4v4h-4zM108 280h4v4h-4zM156 280h8v4h-8zM456 280h4v4h-4zM464 280h8v4h-8zM480 280h8v4h-8zM500 280h4v4h-4zM520 280h4v4h-4zM528 280h4v4h-4zM552 280h4v4h-4zM152 284h8v4h-8zM448 284h4v4h-4zM456 284h4v4h-4zM464 284h8v4h-8zM480 284h8v4h-8zM540 284h4v4h-4zM576 284h4v4h-4zM584 284h4v4h-4zM60 288h4v4h-4zM96 288h4v4h-4zM328 288h4v4h-4zM404 288h4v4h-4zM444 288h4v4h-4zM452 288h4v4h-4zM464 288h4v4h-4zM484 288h4v4h-4zM500 288h4v4h-4zM520 288h4v4h-4zM540 288h4v4h-4zM568 288h4v4h-4zM56 292h4v4h-4zM108 292h4v4h-4zM324 292h8v4h-8zM432 292h4v4h-4zM452 292h4v4h-4zM480 292h4v4h-4zM508 292h4v4h-4zM532 292h4v4h-4zM592 292h4v4h-4zM60 296h12v4h-12zM320 296h8v4h-8zM488 296h8v4h-8zM176 300h4v4h-4zM468 300h8v4h-8zM528 300h4v4h-4zM536 300h4v4h-4zM556 300h4v4h-4zM204 304h4v4h-4zM212 304h4v4h-4zM444 304h4v4h-4zM456 304h4v4h-4zM484 304h4v4h-4zM500 304h4v4h-4zM576 304h4v4h-4zM172 308h4v4h-4zM280 308h4v4h-4zM308 308h4v4h-4zM348 308h4v4h-4zM460 308h4v4h-4zM484 308h12v4h-12zM516 308h4v4h-4zM588 308h4v4h-4zM608 308h4v4h-4zM196 312h4v4h-4zM444 312h4v4h-4zM484 312h4v4h-4zM496 312h4v4h-4zM524 312h4v4h-4zM452 316h4v4h-4zM464 316h4v4h-4zM492 316h4v4h-4zM500 316h4v4h-4zM512 316h4v4h-4zM176 320h4v4h-4zM184 320h4v4h-4zM200 320h4v4h-4zM452 320h4v4h-4zM460 320h4v4h-4zM468 320h4v4h-4zM488 320h4v4h-4zM504 320h8v4h-8zM540 320h4v4h-4zM556 320h4v4h-4zM576 320h4v4h-4zM592 320h4v4h-4zM176 324h12v4h-12zM192 324h8v4h-8zM436 324h4v4h-4zM464 324h4v4h-4zM484 324h4v4h-4zM492 324h4v4h-4zM500 324h4v4h-4zM528 324h4v4h-4zM168 328h4v4h-4zM184 328h4v4h-4zM192 328h4v4h-4zM204 328h4v4h-4zM448 328h12v4h-12zM508 328h4v4h-4zM540 328h4v4h-4zM564 328h4v4h-4zM176 332h4v4h-4zM192 332h8v4h-8zM204 332h4v4h-4zM440 332h4v4h-4zM452 332h4v4h-4zM464 332h4v4h-4zM484 332h4v4h-4zM532 332h4v4h-4zM548 332h4v4h-4zM584 332h4v4h-4zM152 336h4v4h-4zM168 336h4v4h-4zM184 336h4v4h-4zM196 336h4v4h-4zM440 336h4v4h-4zM452 336h4v4h-4zM484 336h8v4h-8zM508 336h4v4h-4zM528 336h8v4h-8zM560 336h4v4h-4zM576 336h4v4h-4zM588 336h4v4h-4zM184 340h4v4h-4zM196 340h4v4h-4zM204 340h4v4h-4zM220 340h4v4h-4zM432 340h4v4h-4zM456 340h12v4h-12zM484 340h4v4h-4zM504 340h4v4h-4zM528 340h4v4h-4zM540 340h4v4h-4zM548 340h4v4h-4zM136 344h4v4h-4zM168 344h4v4h-4zM460 344h4v4h-4zM468 344h4v4h-4zM484 344h8v4h-8zM504 344h4v4h-4zM532 344h4v4h-4zM604 344h4v4h-4zM204 348h4v4h-4zM220 348h4v4h-4zM440 348h4v4h-4zM456 348h4v4h-4zM464 348h4v4h-4zM476 348h8v4h-8zM488 348h8v4h-8zM504 348h4v4h-4zM532 348h4v4h-4zM544 348h4v4h-4zM560 348h4v4h-4zM176 352h8v4h-8zM188 352h4v4h-4zM204 352h4v4h-4zM436 352h4v4h-4zM456 352h8v4h-8zM500 352h8v4h-8zM516 352h4v4h-4zM548 352h4v4h-4zM180 356h8v4h-8zM196 356h4v4h-4zM444 356h4v4h-4zM460 356h8v4h-8zM584 356h4v4h-4zM120 360h4v4h-4zM208 360h4v4h-4zM440 360h4v4h-4zM452 360h8v4h-8zM464 360h8v4h-8zM588 360h4v4h-4zM596 360h4v4h-4zM608 360h4v4h-4zM196 364h4v4h-4zM208 364h4v4h-4zM436 364h4v4h-4zM460 364h4v4h-4zM476 364h4v4h-4zM492 364h8v4h-8zM532 364h4v4h-4zM540 364h4v4h-4zM620 364h4v4h-4zM64 368h4v4h-4zM72 368h4v4h-4zM140 368h4v4h-4zM200 368h4v4h-4zM436 368h4v4h-4zM460 368h12v4h-12zM484 368h4v4h-4zM492 368h4v4h-4zM504 368h4v4h-4zM516 368h4v4h-4zM548 368h4v4h-4zM440 372h4v4h-4zM460 372h4v4h-4zM468 372h4v4h-4zM488 372h8v4h-8zM504 372h4v4h-4zM512 372h4v4h-4zM96 376h8v4h-8zM128 376h4v4h-4zM168 376h4v4h-4zM436 376h8v4h-8zM460 376h4v4h-4zM468 376h4v4h-4zM476 376h4v4h-4zM496 376h12v4h-12zM428 380h4v4h-4zM444 380h4v4h-4zM460 380h4v4h-4zM476 380h8v4h-8zM548 380h4v4h-4zM572 380h4v4h-4zM592 380h8v4h-8zM60 384h8v4h-8zM128 384h4v4h-4zM140 384h4v4h-4zM168 384h4v4h-4zM428 384h4v4h-4zM476 384h4v4h-4zM504 384h8v4h-8zM532 384h4v4h-4zM596 384h4v4h-4zM60 388h8v4h-8zM72 388h4v4h-4zM96 388h4v4h-4zM108 388h4v4h-4zM132 388h4v4h-4zM144 388h4v4h-4zM152 388h4v4h-4zM440 388h4v4h-4zM476 388h8v4h-8zM488 388h4v4h-4zM512 388h4v4h-4zM548 388h4v4h-4zM560 388h4v4h-4zM580 388h4v4h-4zM596 388h8v4h-8zM616 388h4v4h-4zM60 392h4v4h-4zM68 392h4v4h-4zM128 392h4v4h-4zM160 392h4v4h-4zM440 392h4v4h-4zM448 392h4v4h-4zM468 392h8v4h-8zM488 392h8v4h-8zM516 392h4v4h-4zM596 392h4v4h-4zM604 392h4v4h-4zM84 396h12v4h-12zM128 396h4v4h-4zM140 396h4v4h-4zM156 396h4v4h-4zM456 396h4v4h-4zM468 396h16v4h-16zM492 396h8v4h-8zM504 396h12v4h-12zM584 396h4v4h-4zM72 400h4v4h-4zM140 400h8v4h-8zM168 400h4v4h-4zM456 400h16v4h-16zM484 400h12v4h-12zM500 400h8v4h-8zM560 400h4v4h-4zM144 404h4v4h-4zM444 404h8v4h-8zM548 404h4v4h-4zM616 404h4v4h-4zM120 408h4v4h-4zM160 408h4v4h-4zM436 408h8v4h-8zM448 408h4v4h-4zM456 408h4v4h-4zM464 408h4v4h-4zM492 408h4v4h-4zM552 408h4v4h-4zM564 408h4v4h-4zM60 412h8v4h-8zM72 412h4v4h-4zM84 412h4v4h-4zM92 412h4v4h-4zM104 412h16v4h-16zM440 412h8v4h-8zM460 412h8v4h-8zM476 412h24v4h-24zM508 412h12v4h-12zM584 412h4v4h-4zM600 412h4v4h-4zM112 416h8v4h-8zM124 416h4v4h-4zM456 416h8v4h-8zM468 416h4v4h-4zM480 416h4v4h-4zM500 416h8v4h-8zM520 416h4v4h-4zM580 416h4v4h-4zM608 416h4v4h-4zM620 416h4v4h-4zM420 420h4v4h-4zM468 420h8v4h-8zM480 420h8v4h-8zM496 420h4v4h-4zM504 420h8v4h-8zM600 420h4v4h-4zM608 420h4v4h-4zM620 420h4v4h-4zM128 424h4v4h-4zM420 424h4v4h-4zM432 424h4v4h-4zM440 424h4v4h-4zM448 424h8v4h-8zM468 424h4v4h-4zM484 424h4v4h-4zM492 424h12v4h-12zM520 424h4v4h-4zM416 428h4v4h-4zM436 428h4v4h-4zM448 428h12v4h-12zM464 428h4v4h-4zM480 428h4v4h-4zM492 428h4v4h-4zM504 428h4v4h-4zM512 428h4v4h-4zM552 428h4v4h-4zM572 428h4v4h-4zM416 432h4v4h-4zM436 432h4v4h-4zM456 432h8v4h-8zM496 432h4v4h-4zM504 432h4v4h-4zM512 432h4v4h-4zM556 432h4v4h-4zM444 436h12v4h-12zM464 436h24v4h-24zM492 436h4v4h-4zM500 436h8v4h-8zM516 436h4v4h-4zM568 436h4v4h-4zM424 440h4v4h-4zM480 440h4v4h-4zM496 440h8v4h-8zM600 440h4v4h-4zM396 444h4v4h-4zM448 444h8v4h-8zM480 444h8v4h-8zM496 444h4v4h-4zM504 444h4v4h-4zM556 444h4v4h-4zM572 444h4v4h-4zM600 444h4v4h-4zM384 448h4v4h-4zM392 448h4v4h-4zM420 448h4v4h-4zM440 448h4v4h-4zM456 448h8v4h-8zM468 448h8v4h-8zM484 448h8v4h-8zM508 448h4v4h-4zM388 452h4v4h-4zM396 452h4v4h-4zM408 452h12v4h-12zM428 452h4v4h-4zM464 452h4v4h-4zM480 452h4v4h-4zM488 452h4v4h-4zM508 452h4v4h-4zM388 456h8v4h-8zM416 456h4v4h-4zM432 456h4v4h-4zM468 456h4v4h-4zM480 456h4v4h-4zM384 460h4v4h-4zM396 460h4v4h-4zM404 460h8v4h-8zM448 460h4v4h-4zM456 460h4v4h-4zM468 460h4v4h-4zM488 460h4v4h-4zM500 460h4v4h-4zM520 460h4v4h-4zM384 464h4v4h-4zM404 464h4v4h-4zM440 464h4v4h-4zM460 464h4v4h-4zM584 464h4v4h-4zM300 468h4v4h-4zM312 468h4v4h-4zM384 468h4v4h-4zM404 468h4v4h-4zM456 468h4v4h-4zM536 468h4v4h-4zM284 472h8v4h-8zM312 472h4v4h-4zM384 472h4v4h-4zM408 472h4v4h-4zM444 472h4v4h-4zM456 472h4v4h-4zM468 472h4v4h-4zM488 472h4v4h-4zM520 472h4v4h-4zM532 472h4v4h-4zM604 472h4v4h-4zM300 476h4v4h-4zM316 476h4v4h-4zM416 476h4v4h-4zM468 476h4v4h-4zM480 476h4v4h-4zM504 476h4v4h-4zM288 480h4v4h-4zM304 480h4v4h-4zM328 480h4v4h-4zM344 480h4v4h-4zM384 480h4v4h-4zM412 480h4v4h-4zM476 480h4v4h-4zM584 480h4v4h-4zM340 484h12v4h-12zM364 484h4v4h-4zM376 484h4v4h-4zM388 484h4v4h-4zM404 484h4v4h-4zM432 484h4v4h-4zM444 484h4v4h-4zM460 484h4v4h-4zM292 488h4v4h-4zM304 488h8v4h-8zM320 488h4v4h-4zM360 488h8v4h-8zM392 488h4v4h-4zM416 488h4v4h-4zM508 488h4v4h-4zM608 488h4v4h-4zM316 492h8v4h-8zM340 492h4v4h-4zM360 492h4v4h-4zM392 492h4v4h-4zM408 492h4v4h-4zM420 492h4v4h-4zM428 492h4v4h-4zM460 492h4v4h-4zM512 492h4v4h-4zM284 496h4v4h-4zM292 496h4v4h-4zM300 496h8v4h-8zM312 496h4v4h-4zM336 496h4v4h-4zM344 496h4v4h-4zM352 496h4v4h-4zM484 496h4v4h-4zM604 496h4v4h-4zM296 500h4v4h-4zM308 500h4v4h-4zM332 500h4v4h-4zM380 500h4v4h-4zM404 500h4v4h-4zM420 500h4v4h-4zM432 500h4v4h-4zM464 500h4v4h-4zM372 504h4v4h-4zM384 504h4v4h-4zM392 504h4v4h-4zM404 504h4v4h-4zM520 504h4v4h-4zM264 508h4v4h-4zM356 508h4v4h-4zM404 508h4v4h-4zM432 508h4v4h-4zM596 508h4v4h-4zM260 512h4v4h-4zM420 512h8v4h-8zM436 512h4v4h-4zM468 512h4v4h-4zM576 512h4v4h-4zM616 512h4v4h-4zM376 516h4v4h-4zM384 516h4v4h-4zM532 516h4v4h-4zM568 516h4v4h-4zM228 520h16v4h-16zM252 520h4v4h-4zM436 520h4v4h-4zM476 520h4v4h-4zM576 520h4v4h-4zM584 520h4v4h-4zM616 520h4v4h-4zM168 524h4v4h-4zM244 524h4v4h-4zM264 524h4v4h-4zM340 524h4v4h-4zM348 524h4v4h-4zM360 524h4v4h-4zM388 524h8v4h-8zM512 524h4v4h-4zM604 524h4v4h-4zM144 528h4v4h-4zM152 528h4v4h-4zM232 528h4v4h-4zM256 528h4v4h-4zM264 528h4v4h-4zM368 528h4v4h-4zM380 528h8v4h-8zM392 528h4v4h-4zM140 532h8v4h-8zM224 532h4v4h-4zM240 532h4v4h-4zM252 532h4v4h-4zM264 532h8v4h-8zM340 532h4v4h-4zM348 532h4v4h-4zM360 532h4v4h-4zM380 532h4v4h-4zM440 532h4v4h-4zM464 532h4v4h-4zM616 532h4v4h-4zM120 536h4v4h-4zM140 536h8v4h-8zM164 536h4v4h-4zM212 536h4v4h-4zM232 536h4v4h-4zM248 536h4v4h-4zM380 536h4v4h-4zM416 536h4v4h-4zM432 536h4v4h-4zM484 536h4v4h-4zM508 536h4v4h-4zM548 536h4v4h-4zM576 536h4v4h-4zM148 540h4v4h-4zM168 540h4v4h-4zM196 540h4v4h-4zM240 540h4v4h-4zM248 540h4v4h-4zM260 540h8v4h-8zM392 540h4v4h-4zM400 540h16v4h-16zM436 540h4v4h-4zM452 540h4v4h-4zM620 540h4v4h-4zM208 544h4v4h-4zM220 544h4v4h-4zM252 544h4v4h-4zM364 544h4v4h-4zM372 544h4v4h-4zM408 544h4v4h-4zM420 544h4v4h-4zM448 544h4v4h-4zM548 544h4v4h-4zM160 548h4v4h-4zM188 548h4v4h-4zM200 548h4v4h-4zM228 548h4v4h-4zM240 548h4v4h-4zM248 548h4v4h-4zM376 548h8v4h-8zM392 548h8v4h-8zM412 548h4v4h-4zM152 552h4v4h-4zM184 552h4v4h-4zM204 552h4v4h-4zM216 552h4v4h-4zM228 552h4v4h-4zM252 552h4v4h-4zM264 552h4v4h-4zM360 552h4v4h-4zM368 552h4v4h-4zM404 552h4v4h-4zM424 552h4v4h-4zM432 552h4v4h-4zM448 552h4v4h-4zM488 552h4v4h-4zM540 552h4v4h-4zM616 552h4v4h-4zM128 556h4v4h-4zM152 556h4v4h-4zM168 556h16v4h-16zM192 556h4v4h-4zM204 556h4v4h-4zM228 556h4v4h-4zM236 556h12v4h-12zM252 556h4v4h-4zM400 556h4v4h-4zM484 556h4v4h-4zM500 556h4v4h-4zM120 560h4v4h-4zM204 560h4v4h-4zM216 560h8v4h-8zM228 560h4v4h-4zM256 560h4v4h-4zM360 560h4v4h-4zM416 560h4v4h-4zM464 560h4v4h-4zM548 560h4v4h-4zM576 560h4v4h-4zM76 564h4v4h-4zM180 564h4v4h-4zM208 564h4v4h-4zM220 564h4v4h-4zM244 564h4v4h-4zM252 564h4v4h-4zM260 564h4v4h-4zM380 564h4v4h-4zM392 564h8v4h-8zM408 564h4v4h-4zM60 568h4v4h-4zM172 568h4v4h-4zM188 568h4v4h-4zM204 568h4v4h-4zM228 568h4v4h-4zM252 568h4v4h-4zM264 568h8v4h-8zM376 568h16v4h-16zM396 568h4v4h-4zM408 568h4v4h-4zM416 568h4v4h-4zM520 568h4v4h-4zM64 572h4v4h-4zM156 572h4v4h-4zM180 572h8v4h-8zM200 572h4v4h-4zM216 572h4v4h-4zM400 572h4v4h-4zM416 572h4v4h-4zM428 572h4v4h-4zM544 572h4v4h-4zM568 572h4v4h-4zM176 576h4v4h-4zM200 576h4v4h-4zM212 576h4v4h-4zM236 576h4v4h-4zM424 576h8v4h-8zM592 576h4v4h-4zM60 580h4v4h-4zM68 580h8v4h-8zM164 580h4v4h-4zM188 580h4v4h-4zM196 580h4v4h-4zM204 580h4v4h-4zM216 580h12v4h-12zM240 580h4v4h-4zM264 580h4v4h-4zM448 580h4v4h-4zM56 584h8v4h-8zM68 584h4v4h-4zM80 584h4v4h-4zM156 584h4v4h-4zM196 584h4v4h-4zM208 584h4v4h-4zM232 584h4v4h-4zM244 584h4v4h-4zM252 584h12v4h-12zM500 584h4v4h-4zM544 584h4v4h-4zM620 584h4v4h-4zM64 588h4v4h-4zM88 588h4v4h-4zM168 588h4v4h-4zM180 588h4v4h-4zM208 588h4v4h-4zM240 588h4v4h-4zM256 588h4v4h-4zM268 588h4v4h-4zM276 588h4v4h-4zM292 588h4v4h-4zM304 588h4v4h-4zM312 588h4v4h-4zM480 588h4v4h-4zM488 588h4v4h-4zM568 588h4v4h-4zM56 592h8v4h-8zM160 592h4v4h-4zM192 592h4v4h-4zM208 592h4v4h-4zM216 592h12v4h-12zM252 592h8v4h-8zM268 592h4v4h-4zM288 592h4v4h-4zM312 592h4v4h-4zM320 592h4v4h-4zM332 592h4v4h-4zM572 592h4v4h-4zM620 592h4v4h-4zM76 596h4v4h-4zM196 596h4v4h-4zM208 596h4v4h-4zM220 596h4v4h-4zM236 596h8v4h-8zM264 596h4v4h-4zM296 596h4v4h-4zM308 596h4v4h-4zM384 596h4v4h-4zM544 596h4v4h-4zM72 600h4v4h-4zM80 600h4v4h-4zM160 600h4v4h-4zM176 600h4v4h-4zM196 600h4v4h-4zM232 600h12v4h-12zM272 600h4v4h-4zM292 600h4v4h-4zM300 600h4v4h-4zM308 600h8v4h-8zM416 600h4v4h-4zM592 600h4v4h-4zM56 604h4v4h-4zM64 604h4v4h-4zM84 604h4v4h-4zM156 604h4v4h-4zM164 604h4v4h-4zM172 604h4v4h-4zM180 604h8v4h-8zM192 604h16v4h-16zM212 604h8v4h-8zM228 604h4v4h-4zM240 604h4v4h-4zM264 604h12v4h-12zM288 604h4v4h-4zM300 604h4v4h-4zM332 604h4v4h-4zM568 604h4v4h-4zM56 608h4v4h-4zM88 608h4v4h-4zM152 608h4v4h-4zM220 608h8v4h-8zM256 608h4v4h-4zM284 608h4v4h-4zM300 608h4v4h-4zM328 608h4v4h-4zM452 608h4v4h-4zM480 608h4v4h-4zM488 608h4v4h-4zM508 608h4v4h-4zM520 608h4v4h-4zM612 608h4v4h-4zM56 612h4v4h-4zM64 612h4v4h-4zM156 612h4v4h-4zM172 612h4v4h-4zM196 612h4v4h-4zM244 612h4v4h-4zM252 612h4v4h-4zM288 612h4v4h-4zM300 612h4v4h-4zM312 612h4v4h-4zM364 612h4v4h-4zM436 612h4v4h-4zM456 612h4v4h-4zM468 612h4v4h-4zM600 612h4v4h-4zM620 612h4v4h-4zM64 616h16v4h-16zM168 616h4v4h-4zM176 616h8v4h-8zM192 616h4v4h-4zM228 616h4v4h-4zM236 616h4v4h-4zM264 616h8v4h-8zM280 616h4v4h-4zM288 616h4v4h-4zM304 616h4v4h-4zM312 616h4v4h-4zM328 616h8v4h-8zM152 620h4v4h-4zM168 620h4v4h-4zM176 620h4v4h-4zM208 620h4v4h-4zM232 620h4v4h-4zM240 620h4v4h-4zM268 620h4v4h-4zM300 620h4v4h-4zM308 620h4v4h-4zM376 620h8v4h-8zM536 620h4v4h-4zM56 624h4v4h-4zM84 624h4v4h-4zM108 624h4v4h-4zM120 624h4v4h-4zM144 624h4v4h-4zM152 624h4v4h-4zM164 624h4v4h-4zM172 624h4v4h-4zM180 624h4v4h-4zM232 624h4v4h-4zM260 624h8v4h-8zM276 624h4v4h-4zM288 624h4v4h-4zM460 624h4v4h-4zM484 624h4v4h-4zM60 628h8v4h-8zM72 628h4v4h-4zM92 628h8v4h-8zM112 628h4v4h-4zM124 628h4v4h-4zM136 628h4v4h-4zM144 628h4v4h-4zM232 628h4v4h-4zM244 628h4v4h-4zM252 628h8v4h-8zM264 628h4v4h-4zM288 628h4v4h-4zM612 628h4v4h-4zM76 632h4v4h-4zM112 632h4v4h-4zM120 632h4v4h-4zM128 632h4v4h-4zM136 632h4v4h-4zM164 632h4v4h-4zM192 632h4v4h-4zM208 632h4v4h-4zM216 632h4v4h-4zM236 632h4v4h-4zM248 632h4v4h-4zM276 632h4v4h-4zM288 632h4v4h-4zM300 632h4v4h-4zM392 632h4v4h-4zM412 632h4v4h-4zM440 632h4v4h-4zM496 632h4v4h-4zM572 632h4v4h-4zM620 632h4v4h-4zM56 636h4v4h-4zM92 636h4v4h-4zM112 636h4v4h-4zM124 636h4v4h-4zM136 636h4v4h-4zM144 636h4v4h-4zM156 636h4v4h-4zM168 636h4v4h-4zM208 636h4v4h-4zM216 636h4v4h-4zM236 636h4v4h-4zM256 636h4v4h-4zM276 636h8v4h-8zM296 636h12v4h-12zM424 636h8v4h-8zM512 636h4v4h-4zM620 636h4v4h-4zM64 640h8v4h-8zM76 640h8v4h-8zM88 640h4v4h-4zM108 640h4v4h-4zM132 640h4v4h-4zM144 640h4v4h-4zM180 640h4v4h-4zM192 640h4v4h-4zM216 640h4v4h-4zM232 640h4v4h-4zM248 640h8v4h-8zM260 640h12v4h-12zM276 640h4v4h-4zM284 640h4v4h-4zM292 640h4v4h-4zM452 640h4v4h-4zM552 640h4v4h-4zM64 644h8v4h-8zM96 644h12v4h-12zM132 644h4v4h-4zM148 644h8v4h-8zM168 644h4v4h-4zM176 644h4v4h-4zM192 644h4v4h-4zM216 644h4v4h-4zM240 644h4v4h-4zM284 644h4v4h-4zM376 644h4v4h-4zM484 644h4v4h-4zM96 648h4v4h-4zM112 648h4v4h-4zM120 648h4v4h-4zM156 648h4v4h-4zM164 648h4v4h-4zM176 648h4v4h-4zM196 648h8v4h-8zM236 648h8v4h-8zM256 648h4v4h-4zM292 648h4v4h-4zM392 648h4v4h-4zM428 648h4v4h-4zM460 648h8v4h-8zM608 648h4v4h-4zM60 652h4v4h-4zM72 652h8v4h-8zM104 652h8v4h-8zM124 652h4v4h-4zM132 652h4v4h-4zM144 652h12v4h-12zM172 652h4v4h-4zM180 652h4v4h-4zM204 652h4v4h-4zM216 652h4v4h-4zM224 652h4v4h-4zM240 652h4v4h-4zM252 652h4v4h-4zM264 652h4v4h-4zM284 652h4v4h-4zM296 652h8v4h-8zM344 652h4v4h-4zM56 656h4v4h-4zM76 656h4v4h-4zM88 656h8v4h-8zM124 656h4v4h-4zM132 656h4v4h-4zM148 656h4v4h-4zM156 656h4v4h-4zM172 656h4v4h-4zM184 656h8v4h-8zM224 656h4v4h-4zM268 656h8v4h-8zM284 656h4v4h-4zM556 656h4v4h-4zM60 660h4v4h-4zM76 660h4v4h-4zM84 660h4v4h-4zM96 660h4v4h-4zM104 660h4v4h-4zM112 660h4v4h-4zM132 660h4v4h-4zM164 660h4v4h-4zM192 660h8v4h-8zM204 660h4v4h-4zM252 660h4v4h-4zM260 660h4v4h-4zM300 660h4v4h-4zM380 660h4v4h-4zM436 660h4v4h-4zM444 660h4v4h-4zM72 664h4v4h-4zM80 664h4v4h-4zM96 664h8v4h-8zM120 664h8v4h-8zM132 664h4v4h-4zM148 664h12v4h-12zM212 664h4v4h-4zM224 664h8v4h-8zM240 664h8v4h-8zM280 664h4v4h-4zM292 664h4v4h-4zM300 664h4v4h-4zM356 664h4v4h-4zM452 664h4v4h-4zM616 664h4v4h-4zM60 668h12v4h-12zM88 668h4v4h-4zM112 668h8v4h-8zM136 668h4v4h-4zM152 668h4v4h-4zM184 668h4v4h-4zM204 668h8v4h-8zM224 668h4v4h-4zM276 668h4v4h-4zM284 668h8v4h-8zM300 668h4v4h-4zM520 668h4v4h-4zM572 668h4v4h-4zM108 672h8v4h-8zM132 672h4v4h-4zM160 672h4v4h-4zM176 672h4v4h-4zM188 672h4v4h-4zM200 672h4v4h-4zM264 672h4v4h-4zM292 672h12v4h-12zM560 672h4v4h-4zM60 676h4v4h-4zM72 676h8v4h-8zM84 676h12v4h-12zM124 676h8v4h-8zM140 676h8v4h-8zM156 676h4v4h-4zM200 676h4v4h-4zM216 676h8v4h-8zM232 676h4v4h-4zM244 676h4v4h-4zM256 676h4v4h-4zM264 676h4v4h-4zM284 676h8v4h-8zM400 676h4v4h-4zM68 680h4v4h-4zM88 680h4v4h-4zM116 680h4v4h-4zM144 680h4v4h-4zM156 680h4v4h-4zM172 680h4v4h-4zM268 680h4v4h-4zM276 680h4v4h-4zM300 680h4v4h-4zM404 680h4v4h-4zM488 680h4v4h-4zM580 680h4v4h-4zM64 684h4v4h-4zM76 684h4v4h-4zM100 684h4v4h-4zM112 684h4v4h-4zM120 684h4v4h-4zM132 684h4v4h-4zM144 684h4v4h-4zM152 684h4v4h-4zM180 684h4v4h-4zM188 684h4v4h-4zM200 684h4v4h-4zM216 684h4v4h-4zM224 684h4v4h-4zM244 684h4v4h-4zM496 684h4v4h-4zM520 684h4v4h-4zM612 684h4v4h-4zM76 688h4v4h-4zM108 688h4v4h-4zM140 688h4v4h-4zM192 688h4v4h-4zM204 688h4v4h-4zM216 688h4v4h-4zM232 688h4v4h-4zM248 688h4v4h-4zM260 688h8v4h-8zM580 688h4v4h-4zM60 692h4v4h-4zM88 692h12v4h-12zM104 692h4v4h-4zM128 692h4v4h-4zM148 692h8v4h-8zM164 692h8v4h-8zM192 692h4v4h-4zM228 692h4v4h-4zM240 692h4v4h-4zM564 692h4v4h-4zM68 696h4v4h-4zM88 696h8v4h-8zM112 696h4v4h-4zM124 696h4v4h-4zM136 696h4v4h-4zM152 696h4v4h-4zM204 696h4v4h-4zM216 696h4v4h-4zM300 696h4v4h-4zM428 696h4v4h-4zM508 696h4v4h-4zM528 696h4v4h-4zM60 700h8v4h-8zM84 700h4v4h-4zM132 700h4v4h-4zM140 700h8v4h-8zM168 700h4v4h-4zM180 700h4v4h-4zM192 700h4v4h-4zM224 700h4v4h-4zM240 700h16v4h-16zM512 700h4v4h-4zM536 700h4v4h-4zM56 704h4v4h-4zM76 704h4v4h-4zM172 704h12v4h-12zM192 704h12v4h-12zM236 704h4v4h-4zM256 704h8v4h-8zM408 704h4v4h-4zM488 704h4v4h-4zM620 704h4v4h-4zM72 708h8v4h-8zM112 708h4v4h-4zM132 708h4v4h-4zM144 708h4v4h-4zM152 708h4v4h-4zM184 708h4v4h-4zM204 708h4v4h-4zM228 708h8v4h-8zM240 708h4v4h-4zM256 708h4v4h-4zM480 708h4v4h-4zM504 708h4v4h-4zM600 708h4v4h-4zM56 712h4v4h-4zM64 712h4v4h-4zM76 712h4v4h-4zM84 712h4v4h-4zM96 712h4v4h-4zM116 712h4v4h-4zM144 712h4v4h-4zM168 712h4v4h-4zM180 712h4v4h-4zM192 712h4v4h-4zM204 712h4v4h-4zM216 712h4v4h-4zM532 712h4v4h-4zM92 716h8v4h-8zM124 716h4v4h-4zM168 716h4v4h-4zM180 716h4v4h-4zM192 716h12v4h-12zM212 716h4v4h-4zM240 716h4v4h-4zM256 716h4v4h-4zM280 716h4v4h-4zM304 716h4v4h-4zM460 716h4v4h-4zM56 720h4v4h-4zM100 720h4v4h-4zM116 720h4v4h-4zM124 720h4v4h-4zM168 720h4v4h-4zM204 720h4v4h-4zM228 720h4v4h-4zM240 720h4v4h-4zM284 720h4v4h-4zM308 720h4v4h-4zM440 720h4v4h-4zM492 720h4v4h-4zM56 724h4v2h-4zM72 724h8v2h-8zM96 724h4v2h-4zM128 724h4v2h-4zM160 724h4v2h-4zM168 724h4v2h-4zM188 724h4v2h-4zM204 724h4v2h-4zM216 724h4v2h-4zM240 724h4v2h-4zM248 724h4v2h-4zM280 724h4v2h-4zM304 724h4v2h-4zM320 724h4v2h-4zM400 724h4v2h-4z"/>
<path fill="#faf75c" d="M68 168h4v4h-4zM148 168h4v4h-4zM168 168h4v4h-4zM196 168h8v4h-8zM244 168h4v4h-4zM312 168h4v4h-4zM372 168h8v4h-8zM392 168h4v4h-4zM412 168h4v4h-4zM420 168h4v4h-4zM432 168h4v4h-4zM444 168h8v4h-8zM456 168h4v4h-4zM480 168h4v4h-4zM516 168h4v4h-4zM572 168h4v4h-4zM608 168h4v4h-4zM60 172h4v4h-4zM68 172h4v4h-4zM152 172h4v4h-4zM176 172h8v4h-8zM196 172h4v4h-4zM308 172h4v4h-4zM348 172h4v4h-4zM420 172h4v4h-4zM428 172h4v4h-4zM448 172h4v4h-4zM456 172h4v4h-4zM464 172h4v4h-4zM476 172h4v4h-4zM496 172h4v4h-4zM504 172h4v4h-4zM524 172h4v4h-4zM548 172h4v4h-4zM560 172h4v4h-4zM60 176h4v4h-4zM80 176h24v4h-24zM108 176h8v4h-8zM156 176h4v4h-4zM176 176h24v4h-24zM296 176h4v4h-4zM324 176h8v4h-8zM344 176h4v4h-4zM360 176h4v4h-4zM380 176h4v4h-4zM416 176h4v4h-4zM432 176h4v4h-4zM448 176h4v4h-4zM460 176h4v4h-4zM492 176h4v4h-4zM504 176h4v4h-4zM520 176h4v4h-4zM540 176h4v4h-4zM588 176h4v4h-4zM596 176h4v4h-4zM56 180h4v4h-4zM80 180h12v4h-12zM112 180h4v4h-4zM168 180h4v4h-4zM176 180h12v4h-12zM196 180h4v4h-4zM300 180h4v4h-4zM320 180h16v4h-16zM356 180h4v4h-4zM372 180h4v4h-4zM380 180h4v4h-4zM432 180h4v4h-4zM456 180h16v4h-16zM504 180h4v4h-4zM548 180h4v4h-4zM580 180h4v4h-4zM608 180h4v4h-4zM68 184h4v4h-4zM96 184h8v4h-8zM112 184h4v4h-4zM164 184h8v4h-8zM180 184h8v4h-8zM192 184h8v4h-8zM308 184h4v4h-4zM316 184h8v4h-8zM340 184h4v4h-4zM348 184h4v4h-4zM400 184h4v4h-4zM424 184h4v4h-4zM432 184h4v4h-4zM440 184h8v4h-8zM452 184h4v4h-4zM476 184h4v4h-4zM492 184h4v4h-4zM516 184h4v4h-4zM524 184h4v4h-4zM560 184h4v4h-4zM600 184h4v4h-4zM64 188h4v4h-4zM72 188h4v4h-4zM204 188h4v4h-4zM344 188h4v4h-4zM360 188h4v4h-4zM376 188h4v4h-4zM404 188h4v4h-4zM416 188h4v4h-4zM432 188h4v4h-4zM440 188h8v4h-8zM472 188h8v4h-8zM496 188h8v4h-8zM512 188h4v4h-4zM544 188h4v4h-4zM588 188h4v4h-4zM56 192h8v4h-8zM68 192h4v4h-4zM76 192h4v4h-4zM104 192h8v4h-8zM172 192h8v4h-8zM336 192h4v4h-4zM352 192h4v4h-4zM372 192h4v4h-4zM424 192h4v4h-4zM432 192h4v4h-4zM440 192h8v4h-8zM452 192h4v4h-4zM476 192h4v4h-4zM524 192h4v4h-4zM536 192h4v4h-4zM556 192h4v4h-4zM592 192h4v4h-4zM600 192h4v4h-4zM56 196h4v4h-4zM84 196h4v4h-4zM100 196h4v4h-4zM168 196h4v4h-4zM176 196h4v4h-4zM192 196h8v4h-8zM312 196h4v4h-4zM348 196h4v4h-4zM372 196h4v4h-4zM392 196h4v4h-4zM440 196h8v4h-8zM456 196h4v4h-4zM468 196h8v4h-8zM480 196h4v4h-4zM488 196h8v4h-8zM508 196h4v4h-4zM516 196h4v4h-4zM560 196h4v4h-4zM580 196h4v4h-4zM84 200h8v4h-8zM96 200h4v4h-4zM172 200h20v4h-20zM320 200h4v4h-4zM328 200h8v4h-8zM356 200h4v4h-4zM384 200h4v4h-4zM420 200h4v4h-4zM436 200h4v4h-4zM456 200h4v4h-4zM468 200h4v4h-4zM504 200h4v4h-4zM520 200h4v4h-4zM56 204h4v4h-4zM76 204h4v4h-4zM164 204h4v4h-4zM180 204h12v4h-12zM216 204h4v4h-4zM344 204h4v4h-4zM352 204h8v4h-8zM400 204h4v4h-4zM428 204h4v4h-4zM440 204h8v4h-8zM460 204h4v4h-4zM468 204h4v4h-4zM484 204h8v4h-8zM504 204h8v4h-8zM516 204h4v4h-4zM532 204h4v4h-4zM540 204h4v4h-4zM56 208h4v4h-4zM72 208h4v4h-4zM80 208h4v4h-4zM88 208h4v4h-4zM104 208h4v4h-4zM164 208h4v4h-4zM180 208h4v4h-4zM192 208h4v4h-4zM224 208h4v4h-4zM320 208h4v4h-4zM328 208h8v4h-8zM360 208h4v4h-4zM372 208h4v4h-4zM420 208h4v4h-4zM432 208h4v4h-4zM440 208h4v4h-4zM452 208h4v4h-4zM472 208h8v4h-8zM484 208h16v4h-16zM520 208h4v4h-4zM544 208h4v4h-4zM556 208h4v4h-4zM564 208h4v4h-4zM572 208h8v4h-8zM584 208h4v4h-4zM56 212h4v4h-4zM92 212h4v4h-4zM100 212h8v4h-8zM164 212h4v4h-4zM192 212h4v4h-4zM224 212h12v4h-12zM312 212h4v4h-4zM336 212h4v4h-4zM388 212h4v4h-4zM420 212h4v4h-4zM440 212h4v4h-4zM452 212h4v4h-4zM460 212h4v4h-4zM468 212h4v4h-4zM560 212h4v4h-4zM68 216h4v4h-4zM88 216h4v4h-4zM96 216h4v4h-4zM164 216h4v4h-4zM180 216h8v4h-8zM192 216h4v4h-4zM420 216h4v4h-4zM428 216h4v4h-4zM460 216h4v4h-4zM468 216h8v4h-8zM484 216h8v4h-8zM520 216h4v4h-4zM536 216h4v4h-4zM616 216h4v4h-4zM56 220h4v4h-4zM68 220h4v4h-4zM172 220h4v4h-4zM180 220h8v4h-8zM192 220h4v4h-4zM228 220h4v4h-4zM316 220h8v4h-8zM356 220h4v4h-4zM372 220h4v4h-4zM400 220h4v4h-4zM432 220h4v4h-4zM440 220h8v4h-8zM460 220h4v4h-4zM468 220h4v4h-4zM476 220h8v4h-8zM488 220h4v4h-4zM500 220h4v4h-4zM556 220h4v4h-4zM572 220h4v4h-4zM56 224h8v4h-8zM84 224h4v4h-4zM92 224h4v4h-4zM100 224h12v4h-12zM172 224h4v4h-4zM180 224h4v4h-4zM188 224h4v4h-4zM212 224h4v4h-4zM332 224h4v4h-4zM340 224h4v4h-4zM388 224h4v4h-4zM460 224h4v4h-4zM468 224h4v4h-4zM476 224h4v4h-4zM496 224h4v4h-4zM516 224h4v4h-4zM524 224h4v4h-4zM540 224h4v4h-4zM592 224h4v4h-4zM60 228h12v4h-12zM88 228h4v4h-4zM176 228h8v4h-8zM212 228h4v4h-4zM360 228h4v4h-4zM384 228h4v4h-4zM396 228h4v4h-4zM436 228h4v4h-4zM444 228h4v4h-4zM456 228h4v4h-4zM464 228h20v4h-20zM488 228h8v4h-8zM500 228h4v4h-4zM600 228h4v4h-4zM88 232h4v4h-4zM180 232h4v4h-4zM196 232h4v4h-4zM300 232h4v4h-4zM340 232h4v4h-4zM416 232h4v4h-4zM440 232h8v4h-8zM456 232h4v4h-4zM472 232h4v4h-4zM480 232h4v4h-4zM504 232h4v4h-4zM532 232h4v4h-4zM540 232h4v4h-4zM580 232h8v4h-8zM72 236h4v4h-4zM188 236h12v4h-12zM328 236h4v4h-4zM376 236h4v4h-4zM432 236h4v4h-4zM456 236h8v4h-8zM484 236h12v4h-12zM516 236h8v4h-8zM540 236h4v4h-4zM552 236h4v4h-4zM560 236h4v4h-4zM568 236h4v4h-4zM580 236h4v4h-4zM608 236h4v4h-4zM68 240h4v4h-4zM80 240h4v4h-4zM92 240h4v4h-4zM172 240h4v4h-4zM180 240h4v4h-4zM440 240h8v4h-8zM456 240h8v4h-8zM480 240h4v4h-4zM496 240h4v4h-4zM512 240h8v4h-8zM528 240h4v4h-4zM540 240h8v4h-8zM552 240h4v4h-4zM580 240h4v4h-4zM616 240h4v4h-4zM64 244h4v4h-4zM84 244h4v4h-4zM100 244h4v4h-4zM108 244h4v4h-4zM116 244h4v4h-4zM168 244h8v4h-8zM180 244h4v4h-4zM304 244h4v4h-4zM356 244h4v4h-4zM428 244h4v4h-4zM460 244h16v4h-16zM480 244h4v4h-4zM488 244h8v4h-8zM500 244h4v4h-4zM564 244h4v4h-4zM596 244h4v4h-4zM60 248h4v4h-4zM68 248h4v4h-4zM112 248h4v4h-4zM180 248h4v4h-4zM348 248h4v4h-4zM420 248h4v4h-4zM444 248h4v4h-4zM456 248h8v4h-8zM472 248h4v4h-4zM480 248h12v4h-12zM500 248h4v4h-4zM576 248h4v4h-4zM588 248h4v4h-4zM96 252h8v4h-8zM168 252h8v4h-8zM252 252h4v4h-4zM260 252h4v4h-4zM432 252h4v4h-4zM440 252h4v4h-4zM456 252h8v4h-8zM480 252h8v4h-8zM500 252h4v4h-4zM532 252h4v4h-4zM580 252h4v4h-4zM612 252h4v4h-4zM80 256h4v4h-4zM120 256h4v4h-4zM172 256h12v4h-12zM444 256h4v4h-4zM452 256h8v4h-8zM484 256h4v4h-4zM520 256h4v4h-4zM544 256h8v4h-8zM568 256h4v4h-4zM580 256h8v4h-8zM596 256h4v4h-4zM68 260h4v4h-4zM76 260h8v4h-8zM108 260h8v4h-8zM176 260h4v4h-4zM444 260h4v4h-4zM452 260h4v4h-4zM464 260h4v4h-4zM476 260h4v4h-4zM488 260h8v4h-8zM508 260h4v4h-4zM536 260h4v4h-4zM568 260h4v4h-4zM68 264h8v4h-8zM104 264h12v4h-12zM240 264h4v4h-4zM444 264h4v4h-4zM452 264h12v4h-12zM472 264h12v4h-12zM492 264h4v4h-4zM504 264h4v4h-4zM512 264h4v4h-4zM520 264h4v4h-4zM544 264h4v4h-4zM64 268h4v4h-4zM104 268h8v4h-8zM120 268h4v4h-4zM180 268h4v4h-4zM216 268h4v4h-4zM224 268h4v4h-4zM252 268h4v4h-4zM436 268h4v4h-4zM444 268h4v4h-4zM452 268h4v4h-4zM468 268h8v4h-8zM496 268h4v4h-4zM504 268h4v4h-4zM524 268h4v4h-4zM564 268h4v4h-4zM588 268h4v4h-4zM92 272h8v4h-8zM128 272h4v4h-4zM372 272h4v4h-4zM452 272h4v4h-4zM468 272h8v4h-8zM480 272h4v4h-4zM524 272h4v4h-4zM552 272h4v4h-4zM564 272h4v4h-4zM580 272h4v4h-4zM112 276h4v4h-4zM444 276h4v4h-4zM452 276h4v4h-4zM464 276h24v4h-24zM556 276h4v4h-4zM564 276h4v4h-4zM588 276h4v4h-4zM68 280h8v4h-8zM88 280h4v4h-4zM168 280h4v4h-4zM228 280h4v4h-4zM448 280h8v4h-8zM472 280h4v4h-4zM508 280h4v4h-4zM88 284h4v4h-4zM112 284h4v4h-4zM140 284h4v4h-4zM160 284h4v4h-4zM220 284h4v4h-4zM268 284h4v4h-4zM376 284h4v4h-4zM452 284h4v4h-4zM472 284h4v4h-4zM516 284h4v4h-4zM524 284h4v4h-4zM536 284h4v4h-4zM580 284h4v4h-4zM64 288h4v4h-4zM72 288h4v4h-4zM92 288h4v4h-4zM108 288h4v4h-4zM116 288h4v4h-4zM184 288h4v4h-4zM400 288h4v4h-4zM440 288h4v4h-4zM468 288h8v4h-8zM492 288h4v4h-4zM504 288h4v4h-4zM532 288h8v4h-8zM564 288h4v4h-4zM616 288h4v4h-4zM60 292h12v4h-12zM92 292h4v4h-4zM204 292h4v4h-4zM232 292h4v4h-4zM240 292h4v4h-4zM264 292h4v4h-4zM372 292h4v4h-4zM444 292h4v4h-4zM464 292h4v4h-4zM476 292h4v4h-4zM484 292h4v4h-4zM496 292h4v4h-4zM576 292h4v4h-4zM108 296h4v4h-4zM328 296h4v4h-4zM348 296h4v4h-4zM432 296h4v4h-4zM452 296h12v4h-12zM480 296h4v4h-4zM516 296h4v4h-4zM552 296h4v4h-4zM592 296h4v4h-4zM112 300h4v4h-4zM224 300h4v4h-4zM440 300h4v4h-4zM456 300h8v4h-8zM476 300h4v4h-4zM492 300h4v4h-4zM520 300h4v4h-4zM544 300h4v4h-4zM96 304h4v4h-4zM180 304h4v4h-4zM328 304h4v4h-4zM368 304h4v4h-4zM460 304h8v4h-8zM472 304h4v4h-4zM480 304h4v4h-4zM492 304h4v4h-4zM504 304h4v4h-4zM524 304h4v4h-4zM556 304h4v4h-4zM592 304h4v4h-4zM168 308h4v4h-4zM208 308h4v4h-4zM252 308h4v4h-4zM264 308h4v4h-4zM428 308h4v4h-4zM444 308h4v4h-4zM468 308h4v4h-4zM480 308h4v4h-4zM500 308h4v4h-4zM560 308h4v4h-4zM572 308h4v4h-4zM108 312h4v4h-4zM124 312h4v4h-4zM220 312h4v4h-4zM244 312h4v4h-4zM344 312h4v4h-4zM388 312h4v4h-4zM412 312h4v4h-4zM452 312h8v4h-8zM464 312h8v4h-8zM492 312h4v4h-4zM500 312h8v4h-8zM556 312h4v4h-4zM588 312h4v4h-4zM156 316h4v4h-4zM168 316h4v4h-4zM208 316h4v4h-4zM252 316h4v4h-4zM264 316h4v4h-4zM392 316h4v4h-4zM444 316h4v4h-4zM460 316h4v4h-4zM468 316h4v4h-4zM484 316h4v4h-4zM504 316h8v4h-8zM516 316h4v4h-4zM528 316h4v4h-4zM536 316h4v4h-4zM564 316h4v4h-4zM424 320h4v4h-4zM436 320h8v4h-8zM472 320h4v4h-4zM480 320h4v4h-4zM520 320h4v4h-4zM572 320h4v4h-4zM612 320h4v4h-4zM156 324h4v4h-4zM252 324h4v4h-4zM360 324h4v4h-4zM372 324h4v4h-4zM448 324h16v4h-16zM468 324h16v4h-16zM488 324h4v4h-4zM504 324h4v4h-4zM512 324h4v4h-4zM556 324h4v4h-4zM564 324h4v4h-4zM584 324h4v4h-4zM604 324h4v4h-4zM176 328h4v4h-4zM196 328h4v4h-4zM240 328h4v4h-4zM432 328h4v4h-4zM440 328h4v4h-4zM460 328h4v4h-4zM468 328h4v4h-4zM480 328h4v4h-4zM488 328h4v4h-4zM500 328h8v4h-8zM532 328h4v4h-4zM580 328h4v4h-4zM164 332h4v4h-4zM200 332h4v4h-4zM460 332h4v4h-4zM468 332h4v4h-4zM480 332h4v4h-4zM508 332h4v4h-4zM536 332h8v4h-8zM100 336h4v4h-4zM124 336h4v4h-4zM192 336h4v4h-4zM220 336h4v4h-4zM244 336h4v4h-4zM348 336h4v4h-4zM428 336h4v4h-4zM448 336h4v4h-4zM460 336h12v4h-12zM480 336h4v4h-4zM500 336h8v4h-8zM512 336h4v4h-4zM524 336h4v4h-4zM536 336h4v4h-4zM548 336h4v4h-4zM580 336h4v4h-4zM592 336h4v4h-4zM112 340h4v4h-4zM176 340h4v4h-4zM208 340h4v4h-4zM428 340h4v4h-4zM440 340h4v4h-4zM452 340h4v4h-4zM468 340h4v4h-4zM480 340h4v4h-4zM488 340h16v4h-16zM508 340h4v4h-4zM524 340h4v4h-4zM544 340h4v4h-4zM160 344h4v4h-4zM176 344h4v4h-4zM196 344h4v4h-4zM356 344h4v4h-4zM452 344h8v4h-8zM472 344h12v4h-12zM492 344h4v4h-4zM524 344h8v4h-8zM560 344h4v4h-4zM576 344h4v4h-4zM184 348h8v4h-8zM200 348h4v4h-4zM240 348h4v4h-4zM360 348h4v4h-4zM384 348h4v4h-4zM412 348h4v4h-4zM448 348h8v4h-8zM468 348h4v4h-4zM520 348h4v4h-4zM528 348h4v4h-4zM540 348h4v4h-4zM548 348h4v4h-4zM172 352h4v4h-4zM192 352h4v4h-4zM224 352h4v4h-4zM396 352h4v4h-4zM448 352h8v4h-8zM468 352h32v4h-32zM508 352h8v4h-8zM576 352h4v4h-4zM156 356h4v4h-4zM352 356h4v4h-4zM376 356h4v4h-4zM424 356h12v4h-12zM440 356h4v4h-4zM452 356h8v4h-8zM468 356h4v4h-4zM476 356h4v4h-4zM496 356h16v4h-16zM568 356h4v4h-4zM588 356h4v4h-4zM608 356h4v4h-4zM152 360h4v4h-4zM184 360h4v4h-4zM196 360h4v4h-4zM220 360h4v4h-4zM360 360h4v4h-4zM412 360h4v4h-4zM448 360h4v4h-4zM472 360h8v4h-8zM492 360h8v4h-8zM516 360h4v4h-4zM108 364h4v4h-4zM132 364h4v4h-4zM152 364h4v4h-4zM228 364h4v4h-4zM240 364h4v4h-4zM424 364h12v4h-12zM444 364h4v4h-4zM452 364h8v4h-8zM464 364h12v4h-12zM480 364h4v4h-4zM488 364h4v4h-4zM508 364h4v4h-4zM576 364h4v4h-4zM616 364h4v4h-4zM84 368h4v4h-4zM164 368h4v4h-4zM204 368h4v4h-4zM276 368h4v4h-4zM452 368h8v4h-8zM472 368h12v4h-12zM488 368h4v4h-4zM500 368h4v4h-4zM508 368h8v4h-8zM84 372h4v4h-4zM96 372h8v4h-8zM128 372h4v4h-4zM168 372h4v4h-4zM184 372h4v4h-4zM196 372h4v4h-4zM216 372h4v4h-4zM224 372h4v4h-4zM356 372h4v4h-4zM436 372h4v4h-4zM444 372h4v4h-4zM452 372h8v4h-8zM464 372h4v4h-4zM476 372h4v4h-4zM508 372h4v4h-4zM616 372h4v4h-4zM88 376h4v4h-4zM132 376h4v4h-4zM152 376h4v4h-4zM352 376h4v4h-4zM400 376h4v4h-4zM424 376h12v4h-12zM444 376h8v4h-8zM456 376h4v4h-4zM464 376h4v4h-4zM472 376h4v4h-4zM480 376h16v4h-16zM512 376h4v4h-4zM564 376h4v4h-4zM136 380h4v4h-4zM156 380h4v4h-4zM168 380h4v4h-4zM448 380h4v4h-4zM456 380h4v4h-4zM468 380h4v4h-4zM484 380h8v4h-8zM496 380h8v4h-8zM508 380h4v4h-4zM620 380h4v4h-4zM72 384h4v4h-4zM92 384h4v4h-4zM108 384h4v4h-4zM124 384h4v4h-4zM132 384h8v4h-8zM164 384h4v4h-4zM416 384h4v4h-4zM436 384h4v4h-4zM444 384h4v4h-4zM468 384h8v4h-8zM480 384h4v4h-4zM488 384h4v4h-4zM496 384h8v4h-8zM540 384h4v4h-4zM68 388h4v4h-4zM92 388h4v4h-4zM112 388h4v4h-4zM136 388h8v4h-8zM172 388h4v4h-4zM208 388h4v4h-4zM428 388h4v4h-4zM444 388h8v4h-8zM468 388h4v4h-4zM492 388h4v4h-4zM504 388h4v4h-4zM524 388h4v4h-4zM64 392h4v4h-4zM84 392h4v4h-4zM112 392h4v4h-4zM124 392h4v4h-4zM132 392h12v4h-12zM148 392h12v4h-12zM212 392h4v4h-4zM348 392h4v4h-4zM444 392h4v4h-4zM460 392h8v4h-8zM476 392h12v4h-12zM496 392h4v4h-4zM600 392h4v4h-4zM80 396h4v4h-4zM96 396h4v4h-4zM124 396h4v4h-4zM132 396h4v4h-4zM144 396h12v4h-12zM164 396h4v4h-4zM208 396h4v4h-4zM360 396h4v4h-4zM436 396h4v4h-4zM452 396h4v4h-4zM80 400h4v4h-4zM96 400h4v4h-4zM112 400h4v4h-4zM128 400h4v4h-4zM148 400h8v4h-8zM232 400h4v4h-4zM448 400h8v4h-8zM472 400h12v4h-12zM496 400h4v4h-4zM508 400h4v4h-4zM540 400h4v4h-4zM600 400h4v4h-4zM68 404h8v4h-8zM112 404h4v4h-4zM148 404h8v4h-8zM164 404h4v4h-4zM216 404h4v4h-4zM404 404h4v4h-4zM416 404h4v4h-4zM428 404h4v4h-4zM440 404h4v4h-4zM452 404h4v4h-4zM464 404h8v4h-8zM476 404h4v4h-4zM488 404h8v4h-8zM500 404h8v4h-8zM520 404h4v4h-4zM528 404h4v4h-4zM104 408h12v4h-12zM124 408h4v4h-4zM364 408h4v4h-4zM432 408h4v4h-4zM460 408h4v4h-4zM468 408h4v4h-4zM476 408h4v4h-4zM484 408h8v4h-8zM496 408h4v4h-4zM508 408h4v4h-4zM520 408h4v4h-4zM528 408h4v4h-4zM588 408h4v4h-4zM68 412h4v4h-4zM80 412h4v4h-4zM88 412h4v4h-4zM96 412h4v4h-4zM120 412h8v4h-8zM152 412h8v4h-8zM236 412h4v4h-4zM396 412h4v4h-4zM448 412h12v4h-12zM468 412h4v4h-4zM500 412h8v4h-8zM520 412h4v4h-4zM604 412h4v4h-4zM72 416h4v4h-4zM100 416h4v4h-4zM120 416h4v4h-4zM132 416h4v4h-4zM140 416h4v4h-4zM208 416h4v4h-4zM436 416h8v4h-8zM448 416h4v4h-4zM472 416h4v4h-4zM484 416h8v4h-8zM544 416h8v4h-8zM56 420h4v4h-4zM160 420h4v4h-4zM436 420h8v4h-8zM456 420h8v4h-8zM492 420h4v4h-4zM500 420h4v4h-4zM536 420h4v4h-4zM568 420h4v4h-4zM240 424h4v4h-4zM356 424h4v4h-4zM424 424h8v4h-8zM436 424h4v4h-4zM444 424h4v4h-4zM460 424h4v4h-4zM472 424h12v4h-12zM488 424h4v4h-4zM504 424h8v4h-8zM516 424h4v4h-4zM588 424h4v4h-4zM68 428h4v4h-4zM368 428h4v4h-4zM388 428h4v4h-4zM400 428h4v4h-4zM444 428h4v4h-4zM468 428h12v4h-12zM488 428h4v4h-4zM528 428h4v4h-4zM60 432h4v4h-4zM116 432h4v4h-4zM316 432h4v4h-4zM448 432h4v4h-4zM464 432h8v4h-8zM476 432h12v4h-12zM492 432h4v4h-4zM508 432h4v4h-4zM520 432h4v4h-4zM416 436h4v4h-4zM436 436h4v4h-4zM456 436h8v4h-8zM508 436h4v4h-4zM532 436h4v4h-4zM72 440h4v4h-4zM384 440h4v4h-4zM420 440h4v4h-4zM432 440h4v4h-4zM444 440h12v4h-12zM464 440h4v4h-4zM488 440h8v4h-8zM508 440h4v4h-4zM540 440h4v4h-4zM68 444h4v4h-4zM292 444h4v4h-4zM312 444h4v4h-4zM392 444h4v4h-4zM408 444h4v4h-4zM420 444h4v4h-4zM436 444h4v4h-4zM460 444h4v4h-4zM512 444h4v4h-4zM588 444h4v4h-4zM56 448h4v4h-4zM264 448h4v4h-4zM300 448h4v4h-4zM324 448h4v4h-4zM336 448h4v4h-4zM376 448h4v4h-4zM408 448h4v4h-4zM416 448h4v4h-4zM432 448h4v4h-4zM444 448h12v4h-12zM464 448h4v4h-4zM476 448h8v4h-8zM492 448h16v4h-16zM116 452h4v4h-4zM356 452h4v4h-4zM384 452h4v4h-4zM432 452h4v4h-4zM448 452h8v4h-8zM468 452h12v4h-12zM492 452h4v4h-4zM500 452h4v4h-4zM524 452h4v4h-4zM64 456h4v4h-4zM268 456h4v4h-4zM288 456h4v4h-4zM316 456h4v4h-4zM436 456h8v4h-8zM508 456h4v4h-4zM196 460h4v4h-4zM276 460h4v4h-4zM300 460h4v4h-4zM348 460h4v4h-4zM372 460h4v4h-4zM388 460h8v4h-8zM416 460h8v4h-8zM432 460h4v4h-4zM440 460h4v4h-4zM452 460h4v4h-4zM464 460h4v4h-4zM540 460h4v4h-4zM608 460h4v4h-4zM108 464h4v4h-4zM324 464h4v4h-4zM340 464h4v4h-4zM356 464h4v4h-4zM400 464h4v4h-4zM408 464h4v4h-4zM424 464h4v4h-4zM432 464h4v4h-4zM452 464h4v4h-4zM464 464h8v4h-8zM476 464h4v4h-4zM492 464h4v4h-4zM596 464h4v4h-4zM112 468h4v4h-4zM280 468h4v4h-4zM324 468h4v4h-4zM340 468h4v4h-4zM372 468h4v4h-4zM388 468h4v4h-4zM408 468h4v4h-4zM448 468h4v4h-4zM460 468h8v4h-8zM552 468h4v4h-4zM572 468h4v4h-4zM612 468h4v4h-4zM260 472h4v4h-4zM292 472h4v4h-4zM300 472h4v4h-4zM316 472h4v4h-4zM348 472h4v4h-4zM396 472h4v4h-4zM412 472h4v4h-4zM424 472h4v4h-4zM464 472h4v4h-4zM292 476h8v4h-8zM388 476h4v4h-4zM396 476h4v4h-4zM420 476h4v4h-4zM428 476h4v4h-4zM440 476h4v4h-4zM460 476h4v4h-4zM488 476h4v4h-4zM564 476h4v4h-4zM584 476h4v4h-4zM112 480h4v4h-4zM272 480h4v4h-4zM300 480h4v4h-4zM332 480h4v4h-4zM364 480h4v4h-4zM576 480h4v4h-4zM252 484h4v4h-4zM284 484h4v4h-4zM296 484h4v4h-4zM312 484h4v4h-4zM324 484h8v4h-8zM392 484h4v4h-4zM400 484h4v4h-4zM424 484h4v4h-4zM436 484h4v4h-4zM448 484h4v4h-4zM528 484h4v4h-4zM240 488h4v4h-4zM284 488h4v4h-4zM344 488h4v4h-4zM372 488h4v4h-4zM380 488h8v4h-8zM408 488h8v4h-8zM420 488h4v4h-4zM428 488h4v4h-4zM216 492h4v4h-4zM264 492h4v4h-4zM284 492h4v4h-4zM336 492h4v4h-4zM344 492h4v4h-4zM388 492h4v4h-4zM396 492h4v4h-4zM404 492h4v4h-4zM416 492h4v4h-4zM468 492h4v4h-4zM612 492h4v4h-4zM140 496h4v4h-4zM256 496h4v4h-4zM280 496h4v4h-4zM288 496h4v4h-4zM316 496h4v4h-4zM348 496h4v4h-4zM368 496h4v4h-4zM380 496h8v4h-8zM404 496h4v4h-4zM428 496h4v4h-4zM620 496h4v4h-4zM112 500h4v4h-4zM208 500h4v4h-4zM304 500h4v4h-4zM320 500h4v4h-4zM396 500h4v4h-4zM424 500h8v4h-8zM488 500h4v4h-4zM568 500h4v4h-4zM580 500h4v4h-4zM140 504h4v4h-4zM224 504h4v4h-4zM240 504h4v4h-4zM268 504h4v4h-4zM288 504h4v4h-4zM328 504h4v4h-4zM352 504h8v4h-8zM380 504h4v4h-4zM424 504h4v4h-4zM460 504h4v4h-4zM560 504h4v4h-4zM276 508h4v4h-4zM372 508h4v4h-4zM384 508h4v4h-4zM396 508h4v4h-4zM424 508h4v4h-4zM444 508h4v4h-4zM504 508h4v4h-4zM532 508h4v4h-4zM584 508h4v4h-4zM188 512h4v4h-4zM208 512h4v4h-4zM220 512h4v4h-4zM252 512h4v4h-4zM264 512h4v4h-4zM304 512h4v4h-4zM312 512h4v4h-4zM336 512h4v4h-4zM364 512h8v4h-8zM384 512h4v4h-4zM396 512h4v4h-4zM404 512h8v4h-8zM428 512h8v4h-8zM540 512h4v4h-4zM116 516h4v4h-4zM176 516h4v4h-4zM188 516h4v4h-4zM208 516h4v4h-4zM308 516h4v4h-4zM360 516h4v4h-4zM372 516h4v4h-4zM380 516h4v4h-4zM396 516h4v4h-4zM460 516h4v4h-4zM468 516h4v4h-4zM212 520h4v4h-4zM224 520h4v4h-4zM248 520h4v4h-4zM260 520h4v4h-4zM296 520h4v4h-4zM332 520h8v4h-8zM364 520h4v4h-4zM376 520h4v4h-4zM388 520h8v4h-8zM500 520h4v4h-4zM620 520h4v4h-4zM128 524h4v4h-4zM232 524h4v4h-4zM240 524h4v4h-4zM260 524h4v4h-4zM284 524h4v4h-4zM328 524h4v4h-4zM344 524h4v4h-4zM352 524h4v4h-4zM440 524h4v4h-4zM492 524h4v4h-4zM548 524h4v4h-4zM104 528h4v4h-4zM128 528h4v4h-4zM140 528h4v4h-4zM200 528h4v4h-4zM268 528h4v4h-4zM284 528h4v4h-4zM336 528h4v4h-4zM348 528h8v4h-8zM360 528h4v4h-4zM388 528h4v4h-4zM424 528h4v4h-4zM436 528h4v4h-4zM120 532h4v4h-4zM216 532h4v4h-4zM228 532h4v4h-4zM244 532h8v4h-8zM280 532h4v4h-4zM332 532h4v4h-4zM352 532h4v4h-4zM364 532h8v4h-8zM376 532h4v4h-4zM384 532h8v4h-8zM496 532h4v4h-4zM516 532h4v4h-4zM68 536h4v4h-4zM80 536h4v4h-4zM180 536h4v4h-4zM196 536h4v4h-4zM384 536h16v4h-16zM456 536h4v4h-4zM560 536h4v4h-4zM584 536h4v4h-4zM180 540h4v4h-4zM192 540h4v4h-4zM268 540h4v4h-4zM328 540h4v4h-4zM364 540h4v4h-4zM372 540h4v4h-4zM396 540h4v4h-4zM520 540h4v4h-4zM528 540h4v4h-4zM588 540h4v4h-4zM56 544h4v4h-4zM68 544h4v4h-4zM84 544h4v4h-4zM156 544h4v4h-4zM192 544h4v4h-4zM212 544h4v4h-4zM240 544h4v4h-4zM248 544h4v4h-4zM384 544h4v4h-4zM392 544h8v4h-8zM412 544h8v4h-8zM456 544h4v4h-4zM92 548h4v4h-4zM120 548h4v4h-4zM128 548h4v4h-4zM144 548h4v4h-4zM208 548h4v4h-4zM232 548h8v4h-8zM264 548h4v4h-4zM276 548h4v4h-4zM288 548h4v4h-4zM308 548h4v4h-4zM360 548h4v4h-4zM368 548h8v4h-8zM384 548h4v4h-4zM472 548h4v4h-4zM480 548h4v4h-4zM604 548h4v4h-4zM56 552h4v4h-4zM72 552h4v4h-4zM112 552h4v4h-4zM160 552h12v4h-12zM180 552h4v4h-4zM208 552h4v4h-4zM220 552h4v4h-4zM244 552h4v4h-4zM372 552h4v4h-4zM384 552h4v4h-4zM400 552h4v4h-4zM256 556h4v4h-4zM264 556h4v4h-4zM280 556h4v4h-4zM288 556h4v4h-4zM356 556h4v4h-4zM404 556h4v4h-4zM412 556h4v4h-4zM452 556h4v4h-4zM84 560h4v4h-4zM96 560h4v4h-4zM136 560h4v4h-4zM148 560h8v4h-8zM196 560h4v4h-4zM224 560h4v4h-4zM356 560h4v4h-4zM368 560h4v4h-4zM396 560h4v4h-4zM516 560h4v4h-4zM528 560h4v4h-4zM560 560h4v4h-4zM620 560h4v4h-4zM56 564h4v4h-4zM152 564h4v4h-4zM216 564h4v4h-4zM228 564h4v4h-4zM256 564h4v4h-4zM272 564h4v4h-4zM448 564h4v4h-4zM496 564h4v4h-4zM592 564h4v4h-4zM68 568h4v4h-4zM128 568h4v4h-4zM176 568h4v4h-4zM192 568h4v4h-4zM212 568h4v4h-4zM240 568h4v4h-4zM288 568h4v4h-4zM312 568h4v4h-4zM344 568h4v4h-4zM392 568h4v4h-4zM60 572h4v4h-4zM80 572h4v4h-4zM96 572h4v4h-4zM104 572h4v4h-4zM144 572h4v4h-4zM168 572h4v4h-4zM204 572h4v4h-4zM252 572h4v4h-4zM264 572h4v4h-4zM296 572h4v4h-4zM320 572h4v4h-4zM340 572h4v4h-4zM356 572h4v4h-4zM384 572h4v4h-4zM396 572h4v4h-4zM404 572h4v4h-4zM480 572h4v4h-4zM500 572h4v4h-4zM532 572h4v4h-4zM68 576h4v4h-4zM228 576h8v4h-8zM252 576h4v4h-4zM268 576h4v4h-4zM276 576h4v4h-4zM340 576h4v4h-4zM356 576h4v4h-4zM376 576h4v4h-4zM460 576h4v4h-4zM548 576h4v4h-4zM56 580h4v4h-4zM88 580h4v4h-4zM104 580h4v4h-4zM156 580h4v4h-4zM192 580h4v4h-4zM208 580h4v4h-4zM252 580h4v4h-4zM260 580h4v4h-4zM292 580h4v4h-4zM408 580h4v4h-4zM480 580h4v4h-4zM496 580h4v4h-4zM596 580h4v4h-4zM100 584h4v4h-4zM148 584h4v4h-4zM172 584h8v4h-8zM216 584h4v4h-4zM240 584h4v4h-4zM300 584h4v4h-4zM396 584h4v4h-4zM424 584h4v4h-4zM468 584h4v4h-4zM564 584h4v4h-4zM608 584h4v4h-4zM56 588h4v4h-4zM72 588h4v4h-4zM84 588h4v4h-4zM140 588h4v4h-4zM152 588h4v4h-4zM192 588h4v4h-4zM216 588h4v4h-4zM272 588h4v4h-4zM436 588h4v4h-4zM592 588h4v4h-4zM128 592h4v4h-4zM168 592h8v4h-8zM204 592h4v4h-4zM240 592h4v4h-4zM292 592h4v4h-4zM300 592h8v4h-8zM316 592h4v4h-4zM372 592h4v4h-4zM176 596h4v4h-4zM188 596h4v4h-4zM224 596h4v4h-4zM248 596h4v4h-4zM268 596h4v4h-4zM124 600h4v4h-4zM156 600h4v4h-4zM172 600h4v4h-4zM184 600h4v4h-4zM264 600h8v4h-8zM280 600h4v4h-4zM288 600h4v4h-4zM304 600h4v4h-4zM344 600h4v4h-4zM356 600h4v4h-4zM400 600h4v4h-4zM600 600h4v4h-4zM68 604h4v4h-4zM76 604h4v4h-4zM100 604h4v4h-4zM112 604h4v4h-4zM148 604h4v4h-4zM168 604h4v4h-4zM208 604h4v4h-4zM224 604h4v4h-4zM244 604h8v4h-8zM280 604h4v4h-4zM312 604h4v4h-4zM408 604h4v4h-4zM468 604h4v4h-4zM64 608h4v4h-4zM84 608h4v4h-4zM132 608h4v4h-4zM192 608h4v4h-4zM204 608h4v4h-4zM216 608h4v4h-4zM312 608h4v4h-4zM428 608h4v4h-4zM448 608h4v4h-4zM456 608h4v4h-4zM576 608h4v4h-4zM68 612h4v4h-4zM88 612h4v4h-4zM224 612h4v4h-4zM236 612h4v4h-4zM480 612h4v4h-4zM496 612h4v4h-4zM60 616h4v4h-4zM92 616h4v4h-4zM108 616h4v4h-4zM152 616h4v4h-4zM184 616h4v4h-4zM196 616h4v4h-4zM220 616h8v4h-8zM252 616h4v4h-4zM308 616h4v4h-4zM396 616h4v4h-4zM420 616h4v4h-4zM504 616h4v4h-4zM516 616h4v4h-4zM548 616h4v4h-4zM156 620h4v4h-4zM164 620h4v4h-4zM196 620h8v4h-8zM264 620h4v4h-4zM272 620h4v4h-4zM288 620h4v4h-4zM304 620h4v4h-4zM532 620h4v4h-4zM96 624h4v4h-4zM112 624h8v4h-8zM140 624h4v4h-4zM196 624h4v4h-4zM228 624h4v4h-4zM272 624h4v4h-4zM280 624h4v4h-4zM416 624h4v4h-4zM600 624h4v4h-4zM84 628h4v4h-4zM132 628h4v4h-4zM200 628h4v4h-4zM220 628h4v4h-4zM228 628h4v4h-4zM236 628h8v4h-8zM296 628h4v4h-4zM324 628h4v4h-4zM332 628h4v4h-4zM372 628h4v4h-4zM512 628h4v4h-4zM556 628h4v4h-4zM60 632h4v4h-4zM72 632h4v4h-4zM92 632h4v4h-4zM144 632h4v4h-4zM156 632h4v4h-4zM168 632h4v4h-4zM176 632h4v4h-4zM256 632h8v4h-8zM292 632h4v4h-4zM344 632h4v4h-4zM436 632h4v4h-4zM60 636h4v4h-4zM184 636h4v4h-4zM192 636h4v4h-4zM220 636h8v4h-8zM248 636h4v4h-4zM268 636h4v4h-4zM328 636h4v4h-4zM616 636h4v4h-4zM92 640h4v4h-4zM112 640h4v4h-4zM128 640h4v4h-4zM140 640h4v4h-4zM156 640h4v4h-4zM168 640h4v4h-4zM176 640h4v4h-4zM204 640h4v4h-4zM280 640h4v4h-4zM288 640h4v4h-4zM348 640h4v4h-4zM408 640h4v4h-4zM440 640h4v4h-4zM584 640h4v4h-4zM72 644h4v4h-4zM80 644h4v4h-4zM88 644h4v4h-4zM120 644h4v4h-4zM160 644h4v4h-4zM172 644h4v4h-4zM188 644h4v4h-4zM236 644h4v4h-4zM296 644h4v4h-4zM384 644h4v4h-4zM596 644h4v4h-4zM64 648h4v4h-4zM104 648h4v4h-4zM116 648h4v4h-4zM152 648h4v4h-4zM168 648h4v4h-4zM180 648h4v4h-4zM192 648h4v4h-4zM260 648h4v4h-4zM276 648h4v4h-4zM284 648h4v4h-4zM300 648h4v4h-4zM372 648h4v4h-4zM440 648h4v4h-4zM520 648h4v4h-4zM584 648h4v4h-4zM596 648h4v4h-4zM80 652h4v4h-4zM128 652h4v4h-4zM192 652h4v4h-4zM200 652h4v4h-4zM212 652h4v4h-4zM228 652h8v4h-8zM384 652h4v4h-4zM412 652h4v4h-4zM480 652h4v4h-4zM540 652h4v4h-4zM60 656h4v4h-4zM68 656h4v4h-4zM80 656h4v4h-4zM96 656h4v4h-4zM136 656h4v4h-4zM144 656h4v4h-4zM208 656h4v4h-4zM240 656h4v4h-4zM248 656h8v4h-8zM264 656h4v4h-4zM324 656h4v4h-4zM360 656h4v4h-4zM488 656h4v4h-4zM144 660h4v4h-4zM220 660h4v4h-4zM228 660h4v4h-4zM244 660h4v4h-4zM256 660h4v4h-4zM276 660h4v4h-4zM284 660h4v4h-4zM304 660h4v4h-4zM544 660h4v4h-4zM60 664h4v4h-4zM68 664h4v4h-4zM88 664h4v4h-4zM136 664h4v4h-4zM160 664h4v4h-4zM180 664h4v4h-4zM192 664h4v4h-4zM200 664h4v4h-4zM220 664h4v4h-4zM236 664h4v4h-4zM372 664h4v4h-4zM592 664h4v4h-4zM96 668h4v4h-4zM108 668h4v4h-4zM120 668h4v4h-4zM172 668h4v4h-4zM192 668h4v4h-4zM260 668h4v4h-4zM280 668h4v4h-4zM328 668h4v4h-4zM508 668h4v4h-4zM556 668h4v4h-4zM64 672h4v4h-4zM104 672h4v4h-4zM120 672h4v4h-4zM144 672h4v4h-4zM168 672h4v4h-4zM220 672h4v4h-4zM236 672h4v4h-4zM280 672h8v4h-8zM316 672h4v4h-4zM328 672h4v4h-4zM340 672h4v4h-4zM80 676h4v4h-4zM120 676h4v4h-4zM132 676h4v4h-4zM160 676h4v4h-4zM184 676h4v4h-4zM212 676h4v4h-4zM268 676h4v4h-4zM304 676h4v4h-4zM388 676h4v4h-4zM508 676h4v4h-4zM520 676h4v4h-4zM528 676h4v4h-4zM620 676h4v4h-4zM72 680h4v4h-4zM100 680h4v4h-4zM112 680h4v4h-4zM136 680h4v4h-4zM192 680h4v4h-4zM200 680h4v4h-4zM224 680h4v4h-4zM256 680h4v4h-4zM436 680h4v4h-4zM484 680h4v4h-4zM588 680h4v4h-4zM612 680h4v4h-4zM60 684h4v4h-4zM68 684h4v4h-4zM84 684h4v4h-4zM124 684h4v4h-4zM136 684h4v4h-4zM208 684h8v4h-8zM240 684h4v4h-4zM248 684h4v4h-4zM268 684h4v4h-4zM292 684h4v4h-4zM460 684h4v4h-4zM100 688h8v4h-8zM144 688h4v4h-4zM156 688h4v4h-4zM196 688h4v4h-4zM208 688h4v4h-4zM296 688h4v4h-4zM324 688h4v4h-4zM332 688h4v4h-4zM348 688h4v4h-4zM364 688h4v4h-4zM552 688h4v4h-4zM64 692h8v4h-8zM132 692h4v4h-4zM172 692h4v4h-4zM184 692h4v4h-4zM216 692h4v4h-4zM232 692h4v4h-4zM276 692h4v4h-4zM312 692h4v4h-4zM448 692h4v4h-4zM596 692h4v4h-4zM72 696h4v4h-4zM84 696h4v4h-4zM128 696h8v4h-8zM176 696h4v4h-4zM232 696h4v4h-4zM360 696h4v4h-4zM384 696h4v4h-4zM444 696h4v4h-4zM572 696h4v4h-4zM72 700h4v4h-4zM96 700h4v4h-4zM104 700h4v4h-4zM116 700h4v4h-4zM152 700h4v4h-4zM164 700h4v4h-4zM172 700h4v4h-4zM188 700h4v4h-4zM204 700h4v4h-4zM228 700h4v4h-4zM272 700h4v4h-4zM304 700h4v4h-4zM332 700h4v4h-4zM368 700h4v4h-4zM564 700h4v4h-4zM60 704h4v4h-4zM80 704h4v4h-4zM148 704h4v4h-4zM220 704h4v4h-4zM240 704h4v4h-4zM252 704h4v4h-4zM288 704h4v4h-4zM328 704h4v4h-4zM556 704h4v4h-4zM64 708h4v4h-4zM120 708h4v4h-4zM168 708h4v4h-4zM220 708h4v4h-4zM244 708h4v4h-4zM324 708h4v4h-4zM576 708h4v4h-4zM60 712h4v4h-4zM72 712h4v4h-4zM88 712h4v4h-4zM124 712h4v4h-4zM132 712h4v4h-4zM184 712h8v4h-8zM208 712h8v4h-8zM228 712h4v4h-4zM240 712h4v4h-4zM248 712h4v4h-4zM264 712h4v4h-4zM344 712h4v4h-4zM360 712h4v4h-4zM472 712h4v4h-4zM620 712h4v4h-4zM100 716h4v4h-4zM108 716h4v4h-4zM144 716h4v4h-4zM156 716h4v4h-4zM164 716h4v4h-4zM228 716h4v4h-4zM308 716h4v4h-4zM372 716h4v4h-4zM384 716h4v4h-4zM396 716h4v4h-4zM408 716h4v4h-4zM424 716h8v4h-8zM496 716h4v4h-4zM556 716h4v4h-4zM564 716h4v4h-4zM72 720h4v4h-4zM200 720h4v4h-4zM212 720h4v4h-4zM432 720h4v4h-4zM560 720h4v4h-4zM84 724h4v2h-4zM92 724h4v2h-4zM108 724h4v2h-4zM116 724h4v2h-4zM164 724h4v2h-4zM192 724h4v2h-4zM228 724h4v2h-4zM236 724h4v2h-4zM264 724h4v2h-4zM312 724h4v2h-4zM524 724h4v2h-4zM572 724h4v2h-4zM616 724h4v2h-4z"/>
<path fill="#f99a36" d="M64 168h4v4h-4zM152 168h8v4h-8zM164 168h4v4h-4zM408 168h4v4h-4zM416 168h4v4h-4zM428 168h4v4h-4zM460 168h4v4h-4zM476 168h4v4h-4zM488 168h4v4h-4zM520 168h8v4h-8zM620 168h4v4h-4zM64 172h4v4h-4zM164 172h8v4h-8zM312 172h12v4h-12zM356 172h4v4h-4zM372 172h8v4h-8zM416 172h4v4h-4zM460 172h4v4h-4zM500 172h4v4h-4zM520 172h4v4h-4zM564 172h12v4h-12zM608 172h4v4h-4zM64 176h8v4h-8zM308 176h16v4h-16zM348 176h12v4h-12zM372 176h4v4h-4zM392 176h4v4h-4zM428 176h4v4h-4zM476 176h4v4h-4zM496 176h8v4h-8zM544 176h8v4h-8zM592 176h4v4h-4zM600 176h12v4h-12zM60 180h12v4h-12zM92 180h12v4h-12zM172 180h4v4h-4zM188 180h4v4h-4zM284 180h4v4h-4zM296 180h4v4h-4zM304 180h12v4h-12zM336 180h4v4h-4zM352 180h4v4h-4zM376 180h4v4h-4zM392 180h4v4h-4zM420 180h8v4h-8zM452 180h4v4h-4zM472 180h4v4h-4zM500 180h4v4h-4zM520 180h4v4h-4zM64 184h4v4h-4zM172 184h4v4h-4zM188 184h4v4h-4zM304 184h4v4h-4zM312 184h4v4h-4zM344 184h4v4h-4zM352 184h8v4h-8zM376 184h4v4h-4zM396 184h4v4h-4zM404 184h8v4h-8zM416 184h8v4h-8zM436 184h4v4h-4zM472 184h4v4h-4zM500 184h4v4h-4zM520 184h4v4h-4zM580 184h4v4h-4zM596 184h4v4h-4zM608 184h4v4h-4zM172 188h4v4h-4zM196 188h4v4h-4zM208 188h4v4h-4zM348 188h4v4h-4zM356 188h4v4h-4zM436 188h4v4h-4zM452 188h4v4h-4zM480 188h16v4h-16zM516 188h4v4h-4zM524 188h8v4h-8zM540 188h4v4h-4zM560 188h4v4h-4zM580 188h4v4h-4zM596 188h4v4h-4zM608 188h4v4h-4zM620 188h4v4h-4zM72 192h4v4h-4zM192 192h8v4h-8zM312 192h8v4h-8zM324 192h4v4h-4zM340 192h4v4h-4zM356 192h4v4h-4zM376 192h4v4h-4zM436 192h4v4h-4zM472 192h4v4h-4zM480 192h4v4h-4zM488 192h8v4h-8zM520 192h4v4h-4zM540 192h4v4h-4zM548 192h4v4h-4zM560 192h4v4h-4zM580 192h4v4h-4zM588 192h4v4h-4zM596 192h4v4h-4zM604 192h8v4h-8zM164 196h4v4h-4zM316 196h8v4h-8zM336 196h8v4h-8zM352 196h4v4h-4zM376 196h4v4h-4zM424 196h4v4h-4zM436 196h4v4h-4zM452 196h4v4h-4zM484 196h4v4h-4zM520 196h8v4h-8zM564 196h4v4h-4zM92 200h4v4h-4zM164 200h8v4h-8zM336 200h4v4h-4zM344 200h8v4h-8zM388 200h12v4h-12zM424 200h4v4h-4zM452 200h4v4h-4zM472 200h4v4h-4zM484 200h4v4h-4zM500 200h4v4h-4zM508 200h4v4h-4zM560 200h4v4h-4zM568 200h8v4h-8zM72 204h4v4h-4zM80 204h12v4h-12zM320 204h4v4h-4zM328 204h12v4h-12zM348 204h4v4h-4zM372 204h12v4h-12zM396 204h4v4h-4zM452 204h8v4h-8zM472 204h4v4h-4zM492 204h12v4h-12zM512 204h4v4h-4zM520 204h12v4h-12zM536 204h4v4h-4zM184 208h8v4h-8zM336 208h8v4h-8zM348 208h12v4h-12zM368 208h4v4h-4zM392 208h4v4h-4zM424 208h8v4h-8zM436 208h4v4h-4zM480 208h4v4h-4zM500 208h4v4h-4zM536 208h4v4h-4zM96 212h4v4h-4zM180 212h12v4h-12zM316 212h8v4h-8zM340 212h4v4h-4zM348 212h4v4h-4zM356 212h4v4h-4zM380 212h8v4h-8zM424 212h4v4h-4zM432 212h8v4h-8zM472 212h8v4h-8zM484 212h4v4h-4zM556 212h4v4h-4zM564 212h16v4h-16zM588 212h8v4h-8zM612 212h4v4h-4zM188 216h4v4h-4zM232 216h4v4h-4zM332 216h8v4h-8zM352 216h12v4h-12zM380 216h8v4h-8zM432 216h8v4h-8zM444 216h4v4h-4zM476 216h8v4h-8zM576 216h8v4h-8zM608 216h8v4h-8zM620 216h4v4h-4zM88 220h4v4h-4zM188 220h4v4h-4zM232 220h4v4h-4zM308 220h8v4h-8zM332 220h12v4h-12zM376 220h8v4h-8zM448 220h4v4h-4zM472 220h4v4h-4zM520 220h4v4h-4zM536 220h4v4h-4zM68 224h4v4h-4zM88 224h4v4h-4zM232 224h4v4h-4zM300 224h8v4h-8zM376 224h4v4h-4zM384 224h4v4h-4zM396 224h8v4h-8zM444 224h16v4h-16zM472 224h4v4h-4zM488 224h8v4h-8zM500 224h4v4h-4zM520 224h4v4h-4zM528 224h4v4h-4zM536 224h4v4h-4zM568 224h4v4h-4zM576 224h8v4h-8zM56 228h4v4h-4zM232 228h4v4h-4zM296 228h16v4h-16zM356 228h4v4h-4zM376 228h8v4h-8zM400 228h4v4h-4zM448 228h8v4h-8zM484 228h4v4h-4zM520 228h4v4h-4zM596 228h4v4h-4zM68 232h4v4h-4zM176 232h4v4h-4zM216 232h4v4h-4zM320 232h4v4h-4zM356 232h4v4h-4zM376 232h4v4h-4zM384 232h4v4h-4zM400 232h4v4h-4zM436 232h4v4h-4zM448 232h8v4h-8zM484 232h12v4h-12zM500 232h4v4h-4zM520 232h4v4h-4zM536 232h4v4h-4zM576 232h4v4h-4zM596 232h4v4h-4zM68 236h4v4h-4zM88 236h4v4h-4zM180 236h4v4h-4zM212 236h4v4h-4zM320 236h8v4h-8zM332 236h12v4h-12zM348 236h4v4h-4zM380 236h8v4h-8zM436 236h4v4h-4zM500 236h4v4h-4zM532 236h8v4h-8zM576 236h4v4h-4zM612 236h8v4h-8zM84 240h8v4h-8zM116 240h4v4h-4zM124 240h4v4h-4zM176 240h4v4h-4zM344 240h8v4h-8zM404 240h4v4h-4zM420 240h8v4h-8zM484 240h12v4h-12zM500 240h8v4h-8zM520 240h4v4h-4zM532 240h8v4h-8zM572 240h8v4h-8zM588 240h4v4h-4zM596 240h4v4h-4zM88 244h4v4h-4zM104 244h4v4h-4zM176 244h4v4h-4zM360 244h8v4h-8zM420 244h4v4h-4zM440 244h4v4h-4zM484 244h4v4h-4zM520 244h4v4h-4zM544 244h4v4h-4zM552 244h4v4h-4zM560 244h4v4h-4zM584 244h8v4h-8zM616 244h4v4h-4zM64 248h4v4h-4zM104 248h8v4h-8zM116 248h4v4h-4zM144 248h4v4h-4zM176 248h4v4h-4zM296 248h12v4h-12zM356 248h8v4h-8zM424 248h8v4h-8zM440 248h4v4h-4zM464 248h8v4h-8zM584 248h4v4h-4zM596 248h4v4h-4zM616 248h8v4h-8zM108 252h8v4h-8zM176 252h4v4h-4zM232 252h4v4h-4zM248 252h4v4h-4zM264 252h8v4h-8zM400 252h4v4h-4zM428 252h4v4h-4zM488 252h4v4h-4zM548 252h4v4h-4zM564 252h16v4h-16zM68 256h8v4h-8zM112 256h8v4h-8zM144 256h4v4h-4zM232 256h4v4h-4zM248 256h4v4h-4zM268 256h4v4h-4zM448 256h4v4h-4zM464 256h12v4h-12zM500 256h8v4h-8zM512 256h8v4h-8zM532 256h4v4h-4zM540 256h4v4h-4zM588 256h8v4h-8zM612 256h12v4h-12zM72 260h4v4h-4zM116 260h8v4h-8zM180 260h8v4h-8zM248 260h4v4h-4zM344 260h4v4h-4zM448 260h4v4h-4zM480 260h8v4h-8zM496 260h4v4h-4zM504 260h4v4h-4zM516 260h8v4h-8zM532 260h4v4h-4zM540 260h4v4h-4zM584 260h8v4h-8zM596 260h8v4h-8zM608 260h8v4h-8zM64 264h4v4h-4zM180 264h8v4h-8zM244 264h8v4h-8zM260 264h4v4h-4zM376 264h4v4h-4zM448 264h4v4h-4zM488 264h4v4h-4zM496 264h8v4h-8zM528 264h16v4h-16zM584 264h12v4h-12zM124 268h4v4h-4zM184 268h4v4h-4zM220 268h4v4h-4zM240 268h12v4h-12zM440 268h4v4h-4zM476 268h8v4h-8zM500 268h4v4h-4zM512 268h4v4h-4zM560 268h4v4h-4zM584 268h4v4h-4zM120 272h8v4h-8zM168 272h4v4h-4zM200 272h4v4h-4zM216 272h20v4h-20zM248 272h4v4h-4zM376 272h4v4h-4zM432 272h8v4h-8zM444 272h4v4h-4zM512 272h4v4h-4zM556 272h8v4h-8zM612 272h4v4h-4zM620 272h4v4h-4zM88 276h4v4h-4zM108 276h4v4h-4zM124 276h4v4h-4zM200 276h4v4h-4zM216 276h16v4h-16zM364 276h4v4h-4zM376 276h8v4h-8zM448 276h4v4h-4zM500 276h4v4h-4zM552 276h4v4h-4zM560 276h4v4h-4zM580 276h8v4h-8zM612 276h4v4h-4zM104 280h4v4h-4zM148 280h4v4h-4zM220 280h8v4h-8zM260 280h4v4h-4zM372 280h4v4h-4zM440 280h4v4h-4zM504 280h4v4h-4zM564 280h4v4h-4zM580 280h8v4h-8zM68 284h8v4h-8zM144 284h8v4h-8zM164 284h4v4h-4zM172 284h4v4h-4zM256 284h12v4h-12zM372 284h4v4h-4zM392 284h4v4h-4zM440 284h8v4h-8zM504 284h12v4h-12zM520 284h4v4h-4zM528 284h8v4h-8zM544 284h4v4h-4zM560 284h8v4h-8zM68 288h4v4h-4zM112 288h4v4h-4zM176 288h8v4h-8zM232 288h4v4h-4zM244 288h4v4h-4zM260 288h4v4h-4zM344 288h4v4h-4zM352 288h4v4h-4zM364 288h4v4h-4zM372 288h12v4h-12zM396 288h4v4h-4zM424 288h8v4h-8zM496 288h4v4h-4zM508 288h4v4h-4zM528 288h4v4h-4zM552 288h12v4h-12zM576 288h12v4h-12zM592 288h4v4h-4zM608 288h8v4h-8zM112 292h12v4h-12zM208 292h4v4h-4zM244 292h4v4h-4zM252 292h4v4h-4zM348 292h8v4h-8zM392 292h4v4h-4zM428 292h4v4h-4zM440 292h4v4h-4zM468 292h8v4h-8zM492 292h4v4h-4zM520 292h4v4h-4zM528 292h4v4h-4zM548 292h4v4h-4zM572 292h4v4h-4zM608 292h4v4h-4zM112 296h8v4h-8zM184 296h4v4h-4zM204 296h12v4h-12zM228 296h8v4h-8zM244 296h4v4h-4zM260 296h4v4h-4zM440 296h4v4h-4zM464 296h8v4h-8zM476 296h4v4h-4zM484 296h4v4h-4zM520 296h4v4h-4zM556 296h4v4h-4zM572 296h4v4h-4zM612 296h4v4h-4zM172 300h4v4h-4zM180 300h8v4h-8zM204 300h12v4h-12zM248 300h4v4h-4zM256 300h8v4h-8zM320 300h12v4h-12zM368 300h4v4h-4zM432 300h8v4h-8zM488 300h4v4h-4zM508 300h4v4h-4zM524 300h4v4h-4zM560 300h8v4h-8zM572 300h4v4h-4zM100 304h8v4h-8zM112 304h4v4h-4zM120 304h4v4h-4zM184 304h4v4h-4zM208 304h4v4h-4zM224 304h16v4h-16zM252 304h12v4h-12zM364 304h4v4h-4zM412 304h4v4h-4zM436 304h8v4h-8zM468 304h4v4h-4zM476 304h4v4h-4zM488 304h4v4h-4zM508 304h4v4h-4zM564 304h12v4h-12zM604 304h8v4h-8zM96 308h12v4h-12zM164 308h4v4h-4zM224 308h4v4h-4zM232 308h4v4h-4zM256 308h4v4h-4zM312 308h4v4h-4zM344 308h4v4h-4zM376 308h4v4h-4zM384 308h4v4h-4zM424 308h4v4h-4zM432 308h4v4h-4zM440 308h4v4h-4zM472 308h8v4h-8zM504 308h4v4h-4zM520 308h8v4h-8zM592 308h4v4h-4zM104 312h4v4h-4zM116 312h8v4h-8zM152 312h16v4h-16zM200 312h12v4h-12zM216 312h4v4h-4zM228 312h4v4h-4zM248 312h8v4h-8zM260 312h8v4h-8zM352 312h4v4h-4zM380 312h8v4h-8zM392 312h8v4h-8zM424 312h4v4h-4zM432 312h4v4h-4zM440 312h4v4h-4zM460 312h4v4h-4zM472 312h12v4h-12zM488 312h4v4h-4zM508 312h12v4h-12zM560 312h4v4h-4zM592 312h4v4h-4zM112 316h4v4h-4zM120 316h4v4h-4zM164 316h4v4h-4zM212 316h4v4h-4zM220 316h4v4h-4zM244 316h8v4h-8zM256 316h8v4h-8zM352 316h8v4h-8zM412 316h4v4h-4zM424 316h12v4h-12zM440 316h4v4h-4zM472 316h4v4h-4zM480 316h4v4h-4zM488 316h4v4h-4zM520 316h4v4h-4zM560 316h4v4h-4zM592 316h4v4h-4zM608 316h4v4h-4zM112 320h12v4h-12zM164 320h4v4h-4zM180 320h4v4h-4zM240 320h12v4h-12zM368 320h4v4h-4zM404 320h8v4h-8zM428 320h4v4h-4zM476 320h4v4h-4zM532 320h8v4h-8zM560 320h4v4h-4zM568 320h4v4h-4zM616 320h8v4h-8zM152 324h4v4h-4zM160 324h4v4h-4zM236 324h12v4h-12zM356 324h4v4h-4zM364 324h4v4h-4zM428 324h8v4h-8zM440 324h8v4h-8zM516 324h4v4h-4zM532 324h8v4h-8zM576 324h8v4h-8zM592 324h12v4h-12zM144 328h4v4h-4zM160 328h4v4h-4zM172 328h4v4h-4zM200 328h4v4h-4zM248 328h12v4h-12zM376 328h4v4h-4zM472 328h8v4h-8zM492 328h8v4h-8zM512 328h8v4h-8zM536 328h4v4h-4zM556 328h4v4h-4zM572 328h8v4h-8zM584 328h4v4h-4zM108 332h4v4h-4zM120 332h4v4h-4zM168 332h8v4h-8zM252 332h8v4h-8zM344 332h4v4h-4zM376 332h4v4h-4zM472 332h8v4h-8zM488 332h8v4h-8zM500 332h8v4h-8zM104 336h8v4h-8zM116 336h8v4h-8zM176 336h4v4h-4zM200 336h4v4h-4zM208 336h12v4h-12zM236 336h8v4h-8zM340 336h8v4h-8zM472 336h8v4h-8zM492 336h8v4h-8zM516 336h4v4h-4zM540 336h8v4h-8zM100 340h4v4h-4zM108 340h4v4h-4zM116 340h8v4h-8zM192 340h4v4h-4zM216 340h4v4h-4zM236 340h4v4h-4zM344 340h4v4h-4zM360 340h8v4h-8zM444 340h8v4h-8zM472 340h8v4h-8zM512 340h8v4h-8zM580 340h4v4h-4zM592 340h4v4h-4zM100 344h8v4h-8zM112 344h4v4h-4zM120 344h4v4h-4zM148 344h12v4h-12zM164 344h4v4h-4zM184 344h4v4h-4zM192 344h4v4h-4zM224 344h4v4h-4zM236 344h8v4h-8zM256 344h4v4h-4zM360 344h4v4h-4zM376 344h4v4h-4zM428 344h8v4h-8zM440 344h8v4h-8zM508 344h4v4h-4zM580 344h4v4h-4zM80 348h4v4h-4zM100 348h4v4h-4zM116 348h4v4h-4zM136 348h4v4h-4zM160 348h12v4h-12zM192 348h8v4h-8zM244 348h4v4h-4zM364 348h4v4h-4zM380 348h4v4h-4zM392 348h8v4h-8zM404 348h8v4h-8zM428 348h8v4h-8zM472 348h4v4h-4zM508 348h12v4h-12zM524 348h4v4h-4zM580 348h4v4h-4zM160 352h4v4h-4zM168 352h4v4h-4zM184 352h4v4h-4zM196 352h8v4h-8zM240 352h4v4h-4zM360 352h12v4h-12zM376 352h12v4h-12zM392 352h4v4h-4zM400 352h4v4h-4zM424 352h4v4h-4zM432 352h4v4h-4zM440 352h8v4h-8zM580 352h4v4h-4zM608 352h12v4h-12zM164 356h8v4h-8zM220 356h4v4h-4zM228 356h20v4h-20zM332 356h4v4h-4zM344 356h8v4h-8zM360 356h4v4h-4zM368 356h8v4h-8zM384 356h4v4h-4zM420 356h4v4h-4zM472 356h4v4h-4zM480 356h16v4h-16zM572 356h8v4h-8zM612 356h4v4h-4zM56 360h4v4h-4zM80 360h8v4h-8zM92 360h4v4h-4zM108 360h4v4h-4zM116 360h4v4h-4zM156 360h4v4h-4zM164 360h4v4h-4zM180 360h4v4h-4zM188 360h8v4h-8zM224 360h12v4h-12zM280 360h4v4h-4zM344 360h4v4h-4zM364 360h4v4h-4zM372 360h4v4h-4zM380 360h4v4h-4zM480 360h12v4h-12zM504 360h12v4h-12zM572 360h8v4h-8zM612 360h12v4h-12zM84 364h8v4h-8zM112 364h4v4h-4zM156 364h12v4h-12zM180 364h12v4h-12zM220 364h8v4h-8zM280 364h4v4h-4zM364 364h4v4h-4zM412 364h4v4h-4zM440 364h4v4h-4zM448 364h4v4h-4zM500 364h8v4h-8zM512 364h4v4h-4zM572 364h4v4h-4zM580 364h4v4h-4zM68 368h4v4h-4zM88 368h4v4h-4zM104 368h12v4h-12zM128 368h8v4h-8zM156 368h8v4h-8zM176 368h4v4h-4zM184 368h12v4h-12zM208 368h4v4h-4zM216 368h8v4h-8zM232 368h16v4h-16zM400 368h12v4h-12zM420 368h16v4h-16zM440 368h8v4h-8zM532 368h4v4h-4zM80 372h4v4h-4zM132 372h8v4h-8zM152 372h4v4h-4zM160 372h4v4h-4zM232 372h4v4h-4zM420 372h16v4h-16zM448 372h4v4h-4zM472 372h4v4h-4zM480 372h8v4h-8zM532 372h4v4h-4zM564 372h4v4h-4zM80 376h8v4h-8zM136 376h4v4h-4zM156 376h12v4h-12zM184 376h4v4h-4zM196 376h4v4h-4zM212 376h8v4h-8zM224 376h4v4h-4zM232 376h4v4h-4zM356 376h4v4h-4zM452 376h4v4h-4zM508 376h4v4h-4zM560 376h4v4h-4zM612 376h8v4h-8zM84 380h8v4h-8zM160 380h8v4h-8zM180 380h12v4h-12zM196 380h4v4h-4zM204 380h12v4h-12zM348 380h12v4h-12zM396 380h8v4h-8zM452 380h4v4h-4zM464 380h4v4h-4zM492 380h4v4h-4zM512 380h8v4h-8zM580 380h4v4h-4zM588 380h4v4h-4zM608 380h4v4h-4zM616 380h4v4h-4zM68 384h4v4h-4zM112 384h4v4h-4zM120 384h4v4h-4zM172 384h8v4h-8zM200 384h4v4h-4zM208 384h4v4h-4zM216 384h12v4h-12zM348 384h4v4h-4zM404 384h4v4h-4zM420 384h8v4h-8zM448 384h4v4h-4zM464 384h4v4h-4zM484 384h4v4h-4zM492 384h4v4h-4zM544 384h4v4h-4zM80 388h8v4h-8zM116 388h8v4h-8zM164 388h4v4h-4zM200 388h8v4h-8zM212 388h8v4h-8zM424 388h4v4h-4zM432 388h8v4h-8zM460 388h8v4h-8zM484 388h4v4h-4zM496 388h8v4h-8zM508 388h4v4h-4zM532 388h4v4h-4zM540 388h8v4h-8zM80 392h4v4h-4zM92 392h20v4h-20zM116 392h8v4h-8zM144 392h4v4h-4zM196 392h8v4h-8zM216 392h4v4h-4zM352 392h4v4h-4zM364 392h4v4h-4zM420 392h4v4h-4zM428 392h4v4h-4zM436 392h4v4h-4zM452 392h8v4h-8zM504 392h12v4h-12zM524 392h4v4h-4zM540 392h4v4h-4zM560 392h4v4h-4zM580 392h4v4h-4zM608 392h4v4h-4zM68 396h8v4h-8zM100 396h12v4h-12zM116 396h8v4h-8zM204 396h4v4h-4zM216 396h8v4h-8zM244 396h4v4h-4zM352 396h4v4h-4zM364 396h4v4h-4zM424 396h4v4h-4zM432 396h4v4h-4zM440 396h4v4h-4zM448 396h4v4h-4zM540 396h8v4h-8zM596 396h8v4h-8zM608 396h4v4h-4zM68 400h4v4h-4zM100 400h4v4h-4zM108 400h4v4h-4zM124 400h4v4h-4zM132 400h8v4h-8zM156 400h4v4h-4zM164 400h4v4h-4zM200 400h8v4h-8zM228 400h4v4h-4zM244 400h4v4h-4zM364 400h4v4h-4zM424 400h12v4h-12zM440 400h8v4h-8zM512 400h16v4h-16zM544 400h4v4h-4zM604 400h4v4h-4zM80 404h4v4h-4zM100 404h12v4h-12zM128 404h12v4h-12zM156 404h4v4h-4zM200 404h8v4h-8zM220 404h12v4h-12zM392 404h4v4h-4zM408 404h8v4h-8zM432 404h4v4h-4zM456 404h8v4h-8zM472 404h4v4h-4zM480 404h8v4h-8zM496 404h4v4h-4zM508 404h4v4h-4zM516 404h4v4h-4zM524 404h4v4h-4zM540 404h4v4h-4zM604 404h4v4h-4zM80 408h4v4h-4zM100 408h4v4h-4zM140 408h4v4h-4zM152 408h8v4h-8zM212 408h4v4h-4zM244 408h4v4h-4zM404 408h4v4h-4zM472 408h4v4h-4zM480 408h4v4h-4zM500 408h8v4h-8zM512 408h8v4h-8zM524 408h4v4h-4zM540 408h4v4h-4zM548 408h4v4h-4zM584 408h4v4h-4zM100 412h4v4h-4zM132 412h4v4h-4zM140 412h4v4h-4zM204 412h12v4h-12zM240 412h8v4h-8zM360 412h8v4h-8zM428 412h12v4h-12zM472 412h4v4h-4zM532 412h20v4h-20zM64 416h8v4h-8zM80 416h8v4h-8zM92 416h4v4h-4zM128 416h4v4h-4zM136 416h4v4h-4zM144 416h4v4h-4zM204 416h4v4h-4zM236 416h8v4h-8zM344 416h4v4h-4zM356 416h4v4h-4zM364 416h4v4h-4zM392 416h8v4h-8zM424 416h4v4h-4zM432 416h4v4h-4zM444 416h4v4h-4zM452 416h4v4h-4zM592 416h4v4h-4zM600 416h8v4h-8zM60 420h4v4h-4zM68 420h8v4h-8zM360 420h4v4h-4zM372 420h16v4h-16zM392 420h4v4h-4zM400 420h4v4h-4zM424 420h12v4h-12zM444 420h12v4h-12zM488 420h4v4h-4zM524 420h4v4h-4zM540 420h8v4h-8zM584 420h12v4h-12zM604 420h4v4h-4zM60 424h12v4h-12zM160 424h4v4h-4zM244 424h4v4h-4zM360 424h4v4h-4zM368 424h8v4h-8zM380 424h4v4h-4zM388 424h4v4h-4zM396 424h8v4h-8zM524 424h4v4h-4zM560 424h4v4h-4zM568 424h4v4h-4zM60 428h8v4h-8zM84 428h4v4h-4zM128 428h4v4h-4zM156 428h8v4h-8zM208 428h4v4h-4zM240 428h8v4h-8zM404 428h4v4h-4zM460 428h4v4h-4zM508 428h4v4h-4zM516 428h8v4h-8zM556 428h4v4h-4zM564 428h8v4h-8zM584 428h4v4h-4zM64 432h8v4h-8zM120 432h4v4h-4zM300 432h4v4h-4zM308 432h8v4h-8zM356 432h4v4h-4zM400 432h8v4h-8zM444 432h4v4h-4zM472 432h4v4h-4zM488 432h4v4h-4zM516 432h4v4h-4zM524 432h4v4h-4zM64 436h8v4h-8zM120 436h8v4h-8zM308 436h4v4h-4zM428 436h4v4h-4zM488 436h4v4h-4zM544 436h4v4h-4zM572 436h4v4h-4zM584 436h4v4h-4zM68 440h4v4h-4zM120 440h8v4h-8zM372 440h4v4h-4zM380 440h4v4h-4zM388 440h4v4h-4zM416 440h4v4h-4zM436 440h4v4h-4zM456 440h8v4h-8zM504 440h4v4h-4zM532 440h4v4h-4zM544 440h4v4h-4zM604 440h4v4h-4zM612 440h4v4h-4zM64 444h4v4h-4zM120 444h8v4h-8zM296 444h8v4h-8zM336 444h4v4h-4zM372 444h4v4h-4zM380 444h4v4h-4zM412 444h8v4h-8zM456 444h4v4h-4zM464 444h4v4h-4zM584 444h4v4h-4zM592 444h4v4h-4zM604 444h4v4h-4zM616 444h4v4h-4zM60 448h4v4h-4zM120 448h8v4h-8zM260 448h4v4h-4zM284 448h8v4h-8zM296 448h4v4h-4zM316 448h4v4h-4zM328 448h4v4h-4zM364 448h4v4h-4zM372 448h4v4h-4zM412 448h4v4h-4zM436 448h4v4h-4zM512 448h4v4h-4zM584 448h4v4h-4zM56 452h20v4h-20zM120 452h4v4h-4zM260 452h8v4h-8zM272 452h4v4h-4zM284 452h4v4h-4zM316 452h4v4h-4zM324 452h8v4h-8zM336 452h4v4h-4zM364 452h4v4h-4zM380 452h4v4h-4zM392 452h4v4h-4zM436 452h12v4h-12zM496 452h4v4h-4zM504 452h4v4h-4zM516 452h8v4h-8zM528 452h8v4h-8zM56 456h4v4h-4zM104 456h8v4h-8zM192 456h8v4h-8zM260 456h8v4h-8zM272 456h8v4h-8zM284 456h4v4h-4zM344 456h12v4h-12zM360 456h12v4h-12zM376 456h4v4h-4zM476 456h4v4h-4zM492 456h4v4h-4zM500 456h8v4h-8zM520 456h4v4h-4zM536 456h4v4h-4zM620 456h4v4h-4zM56 460h4v4h-4zM104 460h4v4h-4zM240 460h4v4h-4zM272 460h4v4h-4zM280 460h8v4h-8zM312 460h8v4h-8zM336 460h4v4h-4zM356 460h8v4h-8zM376 460h4v4h-4zM436 460h4v4h-4zM476 460h4v4h-4zM492 460h8v4h-8zM532 460h8v4h-8zM300 464h16v4h-16zM320 464h4v4h-4zM328 464h4v4h-4zM336 464h4v4h-4zM344 464h4v4h-4zM376 464h4v4h-4zM388 464h12v4h-12zM412 464h12v4h-12zM436 464h4v4h-4zM456 464h4v4h-4zM540 464h4v4h-4zM580 464h4v4h-4zM588 464h4v4h-4zM600 464h16v4h-16zM108 468h4v4h-4zM276 468h4v4h-4zM304 468h4v4h-4zM316 468h8v4h-8zM328 468h12v4h-12zM344 468h4v4h-4zM368 468h4v4h-4zM396 468h8v4h-8zM412 468h12v4h-12zM428 468h4v4h-4zM444 468h4v4h-4zM488 468h8v4h-8zM520 468h4v4h-4zM556 468h4v4h-4zM588 468h8v4h-8zM604 468h8v4h-8zM104 472h8v4h-8zM276 472h8v4h-8zM304 472h4v4h-4zM344 472h4v4h-4zM368 472h8v4h-8zM388 472h8v4h-8zM420 472h4v4h-4zM428 472h4v4h-4zM440 472h4v4h-4zM460 472h4v4h-4zM548 472h4v4h-4zM556 472h4v4h-4zM568 472h8v4h-8zM608 472h4v4h-4zM104 476h4v4h-4zM260 476h8v4h-8zM284 476h8v4h-8zM364 476h4v4h-4zM372 476h4v4h-4zM392 476h4v4h-4zM432 476h4v4h-4zM464 476h4v4h-4zM476 476h4v4h-4zM508 476h4v4h-4zM568 476h4v4h-4zM576 476h8v4h-8zM256 480h4v4h-4zM276 480h4v4h-4zM296 480h4v4h-4zM312 480h4v4h-4zM372 480h4v4h-4zM388 480h8v4h-8zM420 480h16v4h-16zM440 480h4v4h-4zM460 480h4v4h-4zM548 480h4v4h-4zM568 480h8v4h-8zM580 480h4v4h-4zM108 484h8v4h-8zM236 484h4v4h-4zM256 484h8v4h-8zM280 484h4v4h-4zM288 484h4v4h-4zM316 484h4v4h-4zM332 484h8v4h-8zM368 484h8v4h-8zM396 484h4v4h-4zM428 484h4v4h-4zM104 488h8v4h-8zM236 488h4v4h-4zM252 488h4v4h-4zM280 488h4v4h-4zM288 488h4v4h-4zM296 488h4v4h-4zM312 488h8v4h-8zM324 488h8v4h-8zM336 488h8v4h-8zM348 488h12v4h-12zM368 488h4v4h-4zM396 488h4v4h-4zM404 488h4v4h-4zM448 488h4v4h-4zM516 488h4v4h-4zM528 488h12v4h-12zM604 488h4v4h-4zM620 488h4v4h-4zM104 492h4v4h-4zM140 492h4v4h-4zM200 492h4v4h-4zM212 492h4v4h-4zM220 492h4v4h-4zM232 492h4v4h-4zM252 492h12v4h-12zM288 492h12v4h-12zM324 492h4v4h-4zM332 492h4v4h-4zM348 492h12v4h-12zM372 492h16v4h-16zM400 492h4v4h-4zM464 492h4v4h-4zM492 492h8v4h-8zM508 492h4v4h-4zM604 492h8v4h-8zM616 492h4v4h-4zM112 496h4v4h-4zM200 496h4v4h-4zM236 496h4v4h-4zM260 496h4v4h-4zM296 496h4v4h-4zM320 496h16v4h-16zM376 496h4v4h-4zM396 496h8v4h-8zM464 496h4v4h-4zM560 496h8v4h-8zM584 496h4v4h-4zM108 500h4v4h-4zM140 500h4v4h-4zM200 500h4v4h-4zM276 500h8v4h-8zM312 500h8v4h-8zM376 500h4v4h-4zM400 500h4v4h-4zM484 500h4v4h-4zM532 500h4v4h-4zM556 500h8v4h-8zM572 500h8v4h-8zM620 500h4v4h-4zM188 504h4v4h-4zM216 504h8v4h-8zM228 504h4v4h-4zM236 504h4v4h-4zM284 504h4v4h-4zM304 504h4v4h-4zM312 504h4v4h-4zM324 504h4v4h-4zM332 504h8v4h-8zM344 504h8v4h-8zM376 504h4v4h-4zM396 504h4v4h-4zM428 504h4v4h-4zM484 504h8v4h-8zM504 504h8v4h-8zM528 504h12v4h-12zM556 504h4v4h-4zM564 504h4v4h-4zM584 504h4v4h-4zM140 508h12v4h-12zM188 508h4v4h-4zM208 508h4v4h-4zM232 508h8v4h-8zM268 508h4v4h-4zM284 508h4v4h-4zM304 508h4v4h-4zM312 508h12v4h-12zM376 508h8v4h-8zM400 508h4v4h-4zM428 508h4v4h-4zM460 508h4v4h-4zM536 508h4v4h-4zM568 508h4v4h-4zM124 512h4v4h-4zM144 512h4v4h-4zM200 512h8v4h-8zM232 512h4v4h-4zM248 512h4v4h-4zM256 512h4v4h-4zM268 512h4v4h-4zM276 512h8v4h-8zM288 512h4v4h-4zM316 512h12v4h-12zM356 512h8v4h-8zM372 512h4v4h-4zM380 512h4v4h-4zM400 512h4v4h-4zM440 512h8v4h-8zM460 512h8v4h-8zM568 512h4v4h-4zM588 512h12v4h-12zM88 516h4v4h-4zM120 516h4v4h-4zM180 516h4v4h-4zM256 516h4v4h-4zM268 516h4v4h-4zM276 516h4v4h-4zM312 516h12v4h-12zM356 516h4v4h-4zM400 516h4v4h-4zM440 516h4v4h-4zM464 516h4v4h-4zM476 516h4v4h-4zM548 516h4v4h-4zM164 520h4v4h-4zM180 520h4v4h-4zM188 520h4v4h-4zM204 520h8v4h-8zM216 520h8v4h-8zM256 520h4v4h-4zM264 520h4v4h-4zM324 520h4v4h-4zM352 520h4v4h-4zM360 520h4v4h-4zM368 520h8v4h-8zM396 520h4v4h-4zM440 520h4v4h-4zM460 520h8v4h-8zM496 520h4v4h-4zM548 520h4v4h-4zM116 524h8v4h-8zM132 524h8v4h-8zM188 524h4v4h-4zM200 524h8v4h-8zM212 524h8v4h-8zM224 524h8v4h-8zM236 524h4v4h-4zM248 524h8v4h-8zM268 524h4v4h-4zM288 524h16v4h-16zM332 524h8v4h-8zM356 524h4v4h-4zM368 524h4v4h-4zM376 524h4v4h-4zM396 524h8v4h-8zM460 524h4v4h-4zM496 524h12v4h-12zM616 524h8v4h-8zM88 528h8v4h-8zM124 528h4v4h-4zM132 528h4v4h-4zM188 528h4v4h-4zM204 528h4v4h-4zM212 528h8v4h-8zM224 528h8v4h-8zM240 528h16v4h-16zM260 528h4v4h-4zM276 528h8v4h-8zM288 528h8v4h-8zM332 528h4v4h-4zM340 528h8v4h-8zM356 528h4v4h-4zM376 528h4v4h-4zM396 528h4v4h-4zM460 528h8v4h-8zM492 528h8v4h-8zM548 528h4v4h-4zM568 528h4v4h-4zM580 528h8v4h-8zM616 528h4v4h-4zM84 532h4v4h-4zM132 532h8v4h-8zM188 532h4v4h-4zM200 532h16v4h-16zM220 532h4v4h-4zM236 532h4v4h-4zM356 532h4v4h-4zM372 532h4v4h-4zM396 532h8v4h-8zM436 532h4v4h-4zM460 532h4v4h-4zM512 532h4v4h-4zM568 532h4v4h-4zM584 532h4v4h-4zM72 536h8v4h-8zM84 536h8v4h-8zM104 536h8v4h-8zM116 536h4v4h-4zM136 536h4v4h-4zM160 536h4v4h-4zM168 536h4v4h-4zM176 536h4v4h-4zM184 536h4v4h-4zM192 536h4v4h-4zM236 536h4v4h-4zM352 536h4v4h-4zM360 536h16v4h-16zM400 536h4v4h-4zM420 536h8v4h-8zM436 536h8v4h-8zM516 536h8v4h-8zM532 536h4v4h-4zM564 536h4v4h-4zM604 536h4v4h-4zM72 540h4v4h-4zM80 540h8v4h-8zM92 540h4v4h-4zM100 540h4v4h-4zM120 540h4v4h-4zM144 540h4v4h-4zM152 540h8v4h-8zM164 540h4v4h-4zM184 540h8v4h-8zM204 540h12v4h-12zM228 540h4v4h-4zM236 540h4v4h-4zM276 540h4v4h-4zM284 540h4v4h-4zM296 540h4v4h-4zM324 540h4v4h-4zM356 540h8v4h-8zM368 540h4v4h-4zM380 540h8v4h-8zM416 540h8v4h-8zM456 540h4v4h-4zM468 540h8v4h-8zM512 540h8v4h-8zM532 540h8v4h-8zM548 540h4v4h-4zM568 540h4v4h-4zM604 540h4v4h-4zM72 544h8v4h-8zM116 544h8v4h-8zM128 544h8v4h-8zM144 544h4v4h-4zM152 544h4v4h-4zM160 544h4v4h-4zM184 544h8v4h-8zM200 544h4v4h-4zM216 544h4v4h-4zM228 544h12v4h-12zM260 544h4v4h-4zM276 544h12v4h-12zM320 544h8v4h-8zM360 544h4v4h-4zM368 544h4v4h-4zM388 544h4v4h-4zM452 544h4v4h-4zM464 544h4v4h-4zM472 544h4v4h-4zM484 544h4v4h-4zM532 544h4v4h-4zM584 544h4v4h-4zM604 544h4v4h-4zM60 548h8v4h-8zM116 548h4v4h-4zM132 548h4v4h-4zM212 548h8v4h-8zM224 548h4v4h-4zM252 548h12v4h-12zM280 548h4v4h-4zM312 548h8v4h-8zM324 548h4v4h-4zM356 548h4v4h-4zM388 548h4v4h-4zM484 548h8v4h-8zM584 548h4v4h-4zM592 548h4v4h-4zM60 552h12v4h-12zM76 552h12v4h-12zM96 552h4v4h-4zM140 552h4v4h-4zM172 552h8v4h-8zM192 552h8v4h-8zM224 552h4v4h-4zM236 552h8v4h-8zM256 552h8v4h-8zM284 552h4v4h-4zM292 552h4v4h-4zM356 552h4v4h-4zM376 552h8v4h-8zM388 552h8v4h-8zM408 552h4v4h-4zM416 552h4v4h-4zM452 552h8v4h-8zM484 552h4v4h-4zM532 552h8v4h-8zM88 556h12v4h-12zM112 556h4v4h-4zM148 556h4v4h-4zM156 556h12v4h-12zM188 556h4v4h-4zM196 556h4v4h-4zM208 556h4v4h-4zM216 556h12v4h-12zM260 556h4v4h-4zM284 556h4v4h-4zM372 556h8v4h-8zM384 556h4v4h-4zM392 556h8v4h-8zM408 556h4v4h-4zM492 556h4v4h-4zM88 560h8v4h-8zM112 560h4v4h-4zM124 560h12v4h-12zM144 560h4v4h-4zM156 560h4v4h-4zM168 560h4v4h-4zM208 560h4v4h-4zM264 560h8v4h-8zM276 560h12v4h-12zM372 560h4v4h-4zM392 560h4v4h-4zM412 560h4v4h-4zM500 560h4v4h-4zM512 560h4v4h-4zM520 560h8v4h-8zM564 560h8v4h-8zM88 564h12v4h-12zM128 564h8v4h-8zM144 564h8v4h-8zM156 564h4v4h-4zM168 564h4v4h-4zM176 564h4v4h-4zM196 564h4v4h-4zM212 564h4v4h-4zM224 564h4v4h-4zM280 564h8v4h-8zM316 564h8v4h-8zM356 564h4v4h-4zM376 564h4v4h-4zM412 564h4v4h-4zM480 564h4v4h-4zM488 564h8v4h-8zM504 564h4v4h-4zM56 568h4v4h-4zM72 568h8v4h-8zM84 568h4v4h-4zM96 568h4v4h-4zM112 568h4v4h-4zM148 568h4v4h-4zM156 568h16v4h-16zM196 568h4v4h-4zM208 568h4v4h-4zM224 568h4v4h-4zM236 568h4v4h-4zM244 568h4v4h-4zM256 568h8v4h-8zM272 568h16v4h-16zM304 568h4v4h-4zM316 568h4v4h-4zM352 568h8v4h-8zM412 568h4v4h-4zM448 568h4v4h-4zM480 568h8v4h-8zM500 568h8v4h-8zM524 568h4v4h-4zM532 568h4v4h-4zM592 568h4v4h-4zM56 572h4v4h-4zM68 572h4v4h-4zM76 572h4v4h-4zM84 572h12v4h-12zM108 572h8v4h-8zM148 572h4v4h-4zM160 572h8v4h-8zM176 572h4v4h-4zM188 572h8v4h-8zM208 572h8v4h-8zM224 572h4v4h-4zM232 572h4v4h-4zM240 572h8v4h-8zM256 572h8v4h-8zM284 572h8v4h-8zM304 572h4v4h-4zM324 572h16v4h-16zM344 572h8v4h-8zM360 572h4v4h-4zM388 572h8v4h-8zM408 572h4v4h-4zM424 572h4v4h-4zM432 572h4v4h-4zM448 572h4v4h-4zM592 572h4v4h-4zM56 576h4v4h-4zM72 576h8v4h-8zM84 576h8v4h-8zM100 576h4v4h-4zM156 576h12v4h-12zM172 576h4v4h-4zM204 576h8v4h-8zM256 576h12v4h-12zM272 576h4v4h-4zM288 576h12v4h-12zM332 576h8v4h-8zM360 576h4v4h-4zM368 576h8v4h-8zM388 576h4v4h-4zM396 576h4v4h-4zM432 576h4v4h-4zM448 576h12v4h-12zM596 576h8v4h-8zM80 580h8v4h-8zM100 580h4v4h-4zM152 580h4v4h-4zM168 580h20v4h-20zM228 580h12v4h-12zM256 580h4v4h-4zM272 580h4v4h-4zM356 580h4v4h-4zM392 580h4v4h-4zM404 580h4v4h-4zM424 580h4v4h-4zM468 580h8v4h-8zM484 580h4v4h-4zM548 580h4v4h-4zM568 580h4v4h-4zM104 584h8v4h-8zM136 584h12v4h-12zM152 584h4v4h-4zM180 584h4v4h-4zM188 584h8v4h-8zM220 584h4v4h-4zM236 584h4v4h-4zM276 584h8v4h-8zM304 584h4v4h-4zM316 584h8v4h-8zM352 584h8v4h-8zM392 584h4v4h-4zM404 584h4v4h-4zM412 584h4v4h-4zM484 584h4v4h-4zM496 584h4v4h-4zM512 584h4v4h-4zM528 584h4v4h-4zM552 584h8v4h-8zM568 584h4v4h-4zM612 584h8v4h-8zM60 588h4v4h-4zM68 588h4v4h-4zM80 588h4v4h-4zM100 588h4v4h-4zM184 588h8v4h-8zM220 588h8v4h-8zM232 588h8v4h-8zM316 588h8v4h-8zM356 588h4v4h-4zM428 588h8v4h-8zM468 588h4v4h-4zM484 588h4v4h-4zM552 588h4v4h-4zM572 588h4v4h-4zM68 592h8v4h-8zM80 592h8v4h-8zM132 592h16v4h-16zM152 592h8v4h-8zM164 592h4v4h-4zM180 592h4v4h-4zM188 592h4v4h-4zM236 592h4v4h-4zM272 592h8v4h-8zM368 592h4v4h-4zM376 592h4v4h-4zM532 592h4v4h-4zM588 592h4v4h-4zM68 596h4v4h-4zM84 596h4v4h-4zM112 596h4v4h-4zM156 596h8v4h-8zM168 596h8v4h-8zM180 596h8v4h-8zM200 596h8v4h-8zM228 596h8v4h-8zM252 596h12v4h-12zM272 596h4v4h-4zM280 596h12v4h-12zM300 596h8v4h-8zM332 596h4v4h-4zM372 596h4v4h-4zM388 596h8v4h-8zM404 596h4v4h-4zM416 596h4v4h-4zM520 596h4v4h-4zM588 596h12v4h-12zM108 600h16v4h-16zM132 600h8v4h-8zM144 600h12v4h-12zM164 600h8v4h-8zM180 600h4v4h-4zM224 600h8v4h-8zM244 600h8v4h-8zM256 600h8v4h-8zM276 600h4v4h-4zM284 600h4v4h-4zM348 600h8v4h-8zM392 600h8v4h-8zM408 600h4v4h-4zM544 600h4v4h-4zM572 600h4v4h-4zM72 604h4v4h-4zM80 604h4v4h-4zM104 604h8v4h-8zM128 604h4v4h-4zM152 604h4v4h-4zM252 604h12v4h-12zM276 604h4v4h-4zM284 604h4v4h-4zM304 604h8v4h-8zM328 604h4v4h-4zM404 604h4v4h-4zM464 604h4v4h-4zM520 604h4v4h-4zM576 604h4v4h-4zM600 604h4v4h-4zM60 608h4v4h-4zM68 608h4v4h-4zM76 608h8v4h-8zM96 608h8v4h-8zM196 608h8v4h-8zM208 608h8v4h-8zM304 608h8v4h-8zM332 608h4v4h-4zM360 608h8v4h-8zM404 608h4v4h-4zM416 608h4v4h-4zM432 608h16v4h-16zM460 608h4v4h-4zM468 608h12v4h-12zM504 608h4v4h-4zM572 608h4v4h-4zM596 608h4v4h-4zM604 608h8v4h-8zM60 612h4v4h-4zM72 612h8v4h-8zM92 612h8v4h-8zM148 612h8v4h-8zM208 612h4v4h-4zM220 612h4v4h-4zM256 612h4v4h-4zM272 612h4v4h-4zM280 612h8v4h-8zM292 612h4v4h-4zM304 612h8v4h-8zM328 612h8v4h-8zM400 612h4v4h-4zM420 612h8v4h-8zM440 612h4v4h-4zM460 612h8v4h-8zM476 612h4v4h-4zM504 612h4v4h-4zM520 612h4v4h-4zM528 612h4v4h-4zM548 612h8v4h-8zM568 612h8v4h-8zM592 612h4v4h-4zM604 612h4v4h-4zM88 616h4v4h-4zM104 616h4v4h-4zM172 616h4v4h-4zM200 616h8v4h-8zM256 616h4v4h-4zM272 616h8v4h-8zM292 616h4v4h-4zM364 616h4v4h-4zM400 616h4v4h-4zM436 616h4v4h-4zM476 616h4v4h-4zM492 616h12v4h-12zM520 616h12v4h-12zM556 616h4v4h-4zM80 620h8v4h-8zM92 620h4v4h-4zM104 620h4v4h-4zM116 620h4v4h-4zM132 620h4v4h-4zM160 620h4v4h-4zM172 620h4v4h-4zM180 620h16v4h-16zM204 620h4v4h-4zM216 620h16v4h-16zM236 620h4v4h-4zM244 620h12v4h-12zM260 620h4v4h-4zM344 620h4v4h-4zM424 620h4v4h-4zM492 620h4v4h-4zM60 624h4v4h-4zM68 624h8v4h-8zM88 624h8v4h-8zM100 624h8v4h-8zM156 624h4v4h-4zM184 624h12v4h-12zM200 624h8v4h-8zM216 624h12v4h-12zM292 624h12v4h-12zM308 624h4v4h-4zM376 624h4v4h-4zM420 624h8v4h-8zM516 624h8v4h-8zM604 624h4v4h-4zM68 628h4v4h-4zM88 628h4v4h-4zM120 628h4v4h-4zM140 628h4v4h-4zM156 628h8v4h-8zM172 628h4v4h-4zM180 628h8v4h-8zM192 628h4v4h-4zM204 628h16v4h-16zM224 628h4v4h-4zM260 628h4v4h-4zM280 628h4v4h-4zM292 628h4v4h-4zM300 628h8v4h-8zM348 628h8v4h-8zM376 628h4v4h-4zM416 628h4v4h-4zM604 628h4v4h-4zM64 632h4v4h-4zM80 632h8v4h-8zM124 632h4v4h-4zM132 632h4v4h-4zM140 632h4v4h-4zM160 632h4v4h-4zM172 632h4v4h-4zM184 632h8v4h-8zM240 632h8v4h-8zM252 632h4v4h-4zM280 632h4v4h-4zM320 632h8v4h-8zM332 632h4v4h-4zM340 632h4v4h-4zM352 632h4v4h-4zM364 632h4v4h-4zM372 632h4v4h-4zM428 632h8v4h-8zM516 632h4v4h-4zM548 632h12v4h-12zM568 632h4v4h-4zM612 632h4v4h-4zM64 636h4v4h-4zM132 636h4v4h-4zM140 636h4v4h-4zM160 636h4v4h-4zM172 636h12v4h-12zM188 636h4v4h-4zM240 636h4v4h-4zM252 636h4v4h-4zM260 636h8v4h-8zM324 636h4v4h-4zM352 636h4v4h-4zM364 636h4v4h-4zM408 636h4v4h-4zM444 636h8v4h-8zM584 636h8v4h-8zM612 636h4v4h-4zM84 640h4v4h-4zM116 640h12v4h-12zM160 640h4v4h-4zM172 640h4v4h-4zM188 640h4v4h-4zM200 640h4v4h-4zM208 640h4v4h-4zM220 640h12v4h-12zM240 640h8v4h-8zM296 640h4v4h-4zM316 640h12v4h-12zM380 640h4v4h-4zM412 640h4v4h-4zM448 640h4v4h-4zM512 640h4v4h-4zM76 644h4v4h-4zM84 644h4v4h-4zM92 644h4v4h-4zM108 644h12v4h-12zM128 644h4v4h-4zM204 644h8v4h-8zM220 644h4v4h-4zM228 644h8v4h-8zM280 644h4v4h-4zM288 644h8v4h-8zM320 644h4v4h-4zM340 644h12v4h-12zM380 644h4v4h-4zM392 644h4v4h-4zM412 644h4v4h-4zM464 644h4v4h-4zM492 644h4v4h-4zM600 644h12v4h-12zM80 648h8v4h-8zM92 648h4v4h-4zM108 648h4v4h-4zM124 648h12v4h-12zM172 648h4v4h-4zM184 648h8v4h-8zM220 648h4v4h-4zM280 648h4v4h-4zM288 648h4v4h-4zM296 648h4v4h-4zM320 648h4v4h-4zM328 648h4v4h-4zM364 648h4v4h-4zM376 648h4v4h-4zM384 648h4v4h-4zM484 648h4v4h-4zM532 648h4v4h-4zM540 648h4v4h-4zM600 648h8v4h-8zM64 652h4v4h-4zM88 652h4v4h-4zM96 652h4v4h-4zM184 652h8v4h-8zM220 652h4v4h-4zM236 652h4v4h-4zM256 652h8v4h-8zM276 652h8v4h-8zM304 652h4v4h-4zM328 652h4v4h-4zM360 652h4v4h-4zM376 652h8v4h-8zM408 652h4v4h-4zM440 652h8v4h-8zM484 652h12v4h-12zM504 652h4v4h-4zM512 652h4v4h-4zM536 652h4v4h-4zM584 652h4v4h-4zM64 656h4v4h-4zM72 656h4v4h-4zM140 656h4v4h-4zM152 656h4v4h-4zM200 656h8v4h-8zM212 656h8v4h-8zM228 656h12v4h-12zM256 656h8v4h-8zM276 656h4v4h-4zM300 656h4v4h-4zM308 656h4v4h-4zM356 656h4v4h-4zM380 656h4v4h-4zM404 656h8v4h-8zM416 656h4v4h-4zM444 656h4v4h-4zM480 656h4v4h-4zM512 656h4v4h-4zM520 656h4v4h-4zM536 656h4v4h-4zM584 656h4v4h-4zM64 660h12v4h-12zM80 660h4v4h-4zM88 660h4v4h-4zM124 660h4v4h-4zM136 660h8v4h-8zM176 660h8v4h-8zM200 660h4v4h-4zM224 660h4v4h-4zM232 660h12v4h-12zM248 660h4v4h-4zM280 660h4v4h-4zM372 660h4v4h-4zM412 660h8v4h-8zM484 660h8v4h-8zM500 660h4v4h-4zM508 660h4v4h-4zM64 664h4v4h-4zM104 664h4v4h-4zM144 664h4v4h-4zM164 664h16v4h-16zM184 664h4v4h-4zM196 664h4v4h-4zM216 664h4v4h-4zM248 664h8v4h-8zM260 664h12v4h-12zM304 664h4v4h-4zM320 664h4v4h-4zM352 664h4v4h-4zM376 664h4v4h-4zM504 664h4v4h-4zM540 664h8v4h-8zM100 668h8v4h-8zM140 668h8v4h-8zM156 668h8v4h-8zM168 668h4v4h-4zM196 668h8v4h-8zM212 668h4v4h-4zM220 668h4v4h-4zM256 668h4v4h-4zM264 668h4v4h-4zM272 668h4v4h-4zM292 668h4v4h-4zM304 668h4v4h-4zM312 668h4v4h-4zM320 668h4v4h-4zM376 668h4v4h-4zM452 668h4v4h-4zM540 668h4v4h-4zM548 668h8v4h-8zM588 668h8v4h-8zM616 668h4v4h-4zM92 672h8v4h-8zM116 672h4v4h-4zM136 672h8v4h-8zM164 672h4v4h-4zM184 672h4v4h-4zM192 672h4v4h-4zM212 672h8v4h-8zM224 672h4v4h-4zM252 672h4v4h-4zM268 672h12v4h-12zM288 672h4v4h-4zM304 672h4v4h-4zM312 672h4v4h-4zM320 672h4v4h-4zM332 672h8v4h-8zM352 672h8v4h-8zM376 672h8v4h-8zM448 672h4v4h-4zM468 672h4v4h-4zM484 672h8v4h-8zM524 672h4v4h-4zM544 672h4v4h-4zM552 672h4v4h-4zM592 672h4v4h-4zM616 672h4v4h-4zM56 676h4v4h-4zM64 676h4v4h-4zM96 676h8v4h-8zM108 676h12v4h-12zM136 676h4v4h-4zM164 676h8v4h-8zM176 676h4v4h-4zM192 676h8v4h-8zM204 676h8v4h-8zM228 676h4v4h-4zM236 676h8v4h-8zM252 676h4v4h-4zM276 676h4v4h-4zM312 676h4v4h-4zM320 676h4v4h-4zM404 676h4v4h-4zM448 676h4v4h-4zM484 676h4v4h-4zM516 676h4v4h-4zM524 676h4v4h-4zM616 676h4v4h-4zM60 680h8v4h-8zM76 680h12v4h-12zM160 680h4v4h-4zM168 680h4v4h-4zM180 680h8v4h-8zM196 680h4v4h-4zM208 680h4v4h-4zM228 680h8v4h-8zM240 680h16v4h-16zM272 680h4v4h-4zM304 680h4v4h-4zM388 680h4v4h-4zM428 680h8v4h-8zM504 680h12v4h-12zM520 680h4v4h-4zM528 680h4v4h-4zM584 680h4v4h-4zM80 684h4v4h-4zM104 684h8v4h-8zM116 684h4v4h-4zM156 684h4v4h-4zM168 684h4v4h-4zM176 684h4v4h-4zM192 684h8v4h-8zM204 684h4v4h-4zM228 684h8v4h-8zM252 684h4v4h-4zM276 684h4v4h-4zM300 684h8v4h-8zM312 684h8v4h-8zM328 684h12v4h-12zM388 684h4v4h-4zM556 684h4v4h-4zM596 684h4v4h-4zM60 688h12v4h-12zM80 688h8v4h-8zM116 688h4v4h-4zM136 688h4v4h-4zM160 688h12v4h-12zM176 688h8v4h-8zM212 688h4v4h-4zM236 688h4v4h-4zM252 688h8v4h-8zM268 688h8v4h-8zM288 688h8v4h-8zM308 688h8v4h-8zM328 688h4v4h-4zM344 688h4v4h-4zM444 688h4v4h-4zM460 688h4v4h-4zM548 688h4v4h-4zM596 688h4v4h-4zM76 692h4v4h-4zM84 692h4v4h-4zM100 692h4v4h-4zM116 692h8v4h-8zM136 692h12v4h-12zM180 692h4v4h-4zM208 692h8v4h-8zM236 692h4v4h-4zM252 692h4v4h-4zM260 692h8v4h-8zM272 692h4v4h-4zM280 692h8v4h-8zM292 692h4v4h-4zM344 692h8v4h-8zM360 692h12v4h-12zM440 692h8v4h-8zM460 692h4v4h-4zM536 692h4v4h-4zM556 692h4v4h-4zM60 696h8v4h-8zM76 696h8v4h-8zM96 696h8v4h-8zM140 696h4v4h-4zM148 696h4v4h-4zM208 696h8v4h-8zM284 696h8v4h-8zM296 696h4v4h-4zM372 696h12v4h-12zM424 696h4v4h-4zM448 696h4v4h-4zM560 696h4v4h-4zM568 696h4v4h-4zM576 696h8v4h-8zM592 696h4v4h-4zM76 700h8v4h-8zM100 700h4v4h-4zM108 700h8v4h-8zM120 700h4v4h-4zM128 700h4v4h-4zM148 700h4v4h-4zM156 700h8v4h-8zM176 700h4v4h-4zM208 700h12v4h-12zM232 700h4v4h-4zM276 700h16v4h-16zM296 700h4v4h-4zM336 700h8v4h-8zM356 700h8v4h-8zM376 700h8v4h-8zM448 700h4v4h-4zM596 700h4v4h-4zM96 704h4v4h-4zM104 704h8v4h-8zM116 704h16v4h-16zM152 704h8v4h-8zM164 704h8v4h-8zM188 704h4v4h-4zM204 704h4v4h-4zM216 704h4v4h-4zM224 704h8v4h-8zM244 704h8v4h-8zM268 704h12v4h-12zM316 704h12v4h-12zM332 704h4v4h-4zM340 704h4v4h-4zM352 704h4v4h-4zM360 704h4v4h-4zM548 704h8v4h-8zM560 704h4v4h-4zM616 704h4v4h-4zM56 708h8v4h-8zM80 708h4v4h-4zM100 708h4v4h-4zM108 708h4v4h-4zM116 708h4v4h-4zM124 708h8v4h-8zM156 708h4v4h-4zM164 708h4v4h-4zM208 708h12v4h-12zM252 708h4v4h-4zM260 708h4v4h-4zM316 708h8v4h-8zM340 708h4v4h-4zM348 708h4v4h-4zM360 708h4v4h-4zM380 708h4v4h-4zM388 708h4v4h-4zM396 708h8v4h-8zM420 708h4v4h-4zM456 708h4v4h-4zM472 708h4v4h-4zM488 708h4v4h-4zM508 708h4v4h-4zM520 708h4v4h-4zM572 708h4v4h-4zM620 708h4v4h-4zM80 712h4v4h-4zM100 712h12v4h-12zM128 712h4v4h-4zM148 712h4v4h-4zM156 712h12v4h-12zM232 712h8v4h-8zM252 712h12v4h-12zM280 712h4v4h-4zM312 712h12v4h-12zM348 712h12v4h-12zM380 712h4v4h-4zM400 712h12v4h-12zM416 712h4v4h-4zM432 712h8v4h-8zM528 712h4v4h-4zM548 712h4v4h-4zM560 712h4v4h-4zM576 712h4v4h-4zM72 716h16v4h-16zM104 716h4v4h-4zM128 716h4v4h-4zM136 716h8v4h-8zM148 716h4v4h-4zM160 716h4v4h-4zM184 716h8v4h-8zM232 716h8v4h-8zM284 716h4v4h-4zM312 716h4v4h-4zM356 716h4v4h-4zM368 716h4v4h-4zM376 716h4v4h-4zM404 716h4v4h-4zM416 716h4v4h-4zM432 716h4v4h-4zM440 716h4v4h-4zM464 716h4v4h-4zM488 716h8v4h-8zM548 716h8v4h-8zM560 716h4v4h-4zM572 716h4v4h-4zM64 720h4v4h-4zM76 720h12v4h-12zM96 720h4v4h-4zM104 720h4v4h-4zM112 720h4v4h-4zM128 720h4v4h-4zM136 720h8v4h-8zM156 720h12v4h-12zM176 720h8v4h-8zM188 720h8v4h-8zM216 720h8v4h-8zM232 720h8v4h-8zM248 720h8v4h-8zM280 720h4v4h-4zM312 720h12v4h-12zM400 720h4v4h-4zM436 720h4v4h-4zM496 720h4v4h-4zM524 720h12v4h-12zM616 720h4v4h-4zM64 724h4v2h-4zM80 724h4v2h-4zM88 724h4v2h-4zM112 724h4v2h-4zM132 724h16v2h-16zM152 724h4v2h-4zM180 724h8v2h-8zM196 724h8v2h-8zM220 724h4v2h-4zM232 724h4v2h-4zM256 724h8v2h-8zM560 724h4v2h-4zM576 724h4v2h-4z"/>
<path fill="#fb5519" d="M172 168h4v4h-4zM316 168h8v4h-8zM172 172h4v4h-4zM164 176h8v4h-8zM376 176h4v4h-4zM416 180h4v4h-4zM392 184h4v4h-4zM352 188h4v4h-4zM520 188h4v4h-4zM320 192h4v4h-4zM484 192h4v4h-4zM340 200h4v4h-4zM352 200h4v4h-4zM564 200h4v4h-4zM340 204h4v4h-4zM368 204h4v4h-4zM384 204h4v4h-4zM392 204h4v4h-4zM376 208h16v4h-16zM352 212h4v4h-4zM368 212h8v4h-8zM428 212h4v4h-4zM480 212h4v4h-4zM584 212h4v4h-4zM340 216h4v4h-4zM440 216h4v4h-4zM572 216h4v4h-4zM564 220h8v4h-8zM308 224h4v4h-4zM380 224h4v4h-4zM560 224h8v4h-8zM212 232h4v4h-4zM380 232h4v4h-4zM176 236h4v4h-4zM584 240h4v4h-4zM424 244h4v4h-4zM364 248h4v4h-4zM468 252h8v4h-8zM616 252h8v4h-8zM468 260h8v4h-8zM500 260h4v4h-4zM512 260h4v4h-4zM592 260h4v4h-4zM440 272h4v4h-4zM584 272h4v4h-4zM104 276h4v4h-4zM440 276h4v4h-4zM504 276h4v4h-4zM376 280h4v4h-4zM560 280h4v4h-4zM168 284h4v4h-4zM228 288h4v4h-4zM348 288h4v4h-4zM392 288h4v4h-4zM548 288h4v4h-4zM572 288h4v4h-4zM224 292h8v4h-8zM260 292h4v4h-4zM224 296h4v4h-4zM472 296h4v4h-4zM608 296h4v4h-4zM252 300h4v4h-4zM560 304h4v4h-4zM228 308h4v4h-4zM260 308h4v4h-4zM436 308h4v4h-4zM508 308h4v4h-4zM212 312h4v4h-4zM256 312h4v4h-4zM520 312h4v4h-4zM608 312h4v4h-4zM116 316h4v4h-4zM476 316h4v4h-4zM412 320h4v4h-4zM432 320h4v4h-4zM564 320h4v4h-4zM248 324h4v4h-4zM520 324h4v4h-4zM572 324h4v4h-4zM152 328h8v4h-8zM520 328h4v4h-4zM156 332h8v4h-8zM496 332h4v4h-4zM512 332h8v4h-8zM204 336h4v4h-4zM520 336h4v4h-4zM104 340h4v4h-4zM520 340h4v4h-4zM116 344h4v4h-4zM244 344h4v4h-4zM364 344h4v4h-4zM448 344h4v4h-4zM512 344h8v4h-8zM400 348h4v4h-4zM164 352h4v4h-4zM244 352h4v4h-4zM372 352h4v4h-4zM428 352h4v4h-4zM160 356h4v4h-4zM224 356h4v4h-4zM364 356h4v4h-4zM380 356h4v4h-4zM580 356h4v4h-4zM616 356h4v4h-4zM88 360h4v4h-4zM112 360h4v4h-4zM160 360h4v4h-4zM500 360h4v4h-4zM580 360h4v4h-4zM232 364h4v4h-4zM136 368h4v4h-4zM180 368h4v4h-4zM196 368h4v4h-4zM280 368h4v4h-4zM412 368h4v4h-4zM448 368h4v4h-4zM156 372h4v4h-4zM164 372h4v4h-4zM560 372h4v4h-4zM80 380h4v4h-4zM612 380h4v4h-4zM80 384h8v4h-8zM116 384h4v4h-4zM204 384h4v4h-4zM212 384h4v4h-4zM456 384h8v4h-8zM88 388h4v4h-4zM452 388h8v4h-8zM88 392h4v4h-4zM164 392h4v4h-4zM424 392h4v4h-4zM432 392h4v4h-4zM500 392h4v4h-4zM544 392h4v4h-4zM136 396h4v4h-4zM200 396h4v4h-4zM428 396h4v4h-4zM444 396h4v4h-4zM604 396h4v4h-4zM104 400h4v4h-4zM116 400h8v4h-8zM116 404h8v4h-8zM512 404h4v4h-4zM544 404h4v4h-4zM132 408h8v4h-8zM144 408h4v4h-4zM544 408h4v4h-4zM128 412h4v4h-4zM136 412h4v4h-4zM144 412h8v4h-8zM88 416h4v4h-4zM96 416h4v4h-4zM148 416h4v4h-4zM244 416h4v4h-4zM360 416h4v4h-4zM428 416h4v4h-4zM64 420h4v4h-4zM368 420h4v4h-4zM388 420h4v4h-4zM396 420h4v4h-4zM584 424h4v4h-4zM524 428h4v4h-4zM560 428h4v4h-4zM124 432h4v4h-4zM56 436h4v4h-4zM428 440h4v4h-4zM316 444h4v4h-4zM64 448h8v4h-8zM380 448h4v4h-4zM124 452h4v4h-4zM340 452h4v4h-4zM512 452h4v4h-4zM584 452h4v4h-4zM280 456h4v4h-4zM356 456h4v4h-4zM372 456h4v4h-4zM496 456h4v4h-4zM344 460h4v4h-4zM104 464h4v4h-4zM316 464h4v4h-4zM536 464h4v4h-4zM104 468h4v4h-4zM272 468h4v4h-4zM392 468h4v4h-4zM432 468h4v4h-4zM440 468h4v4h-4zM272 472h4v4h-4zM416 472h4v4h-4zM432 472h8v4h-8zM552 472h4v4h-4zM276 476h8v4h-8zM368 476h4v4h-4zM436 476h4v4h-4zM572 476h4v4h-4zM280 480h4v4h-4zM316 480h4v4h-4zM368 480h4v4h-4zM436 480h4v4h-4zM112 488h4v4h-4zM256 488h4v4h-4zM332 488h4v4h-4zM400 488h4v4h-4zM108 492h4v4h-4zM204 492h4v4h-4zM328 492h4v4h-4zM368 492h4v4h-4zM104 496h8v4h-8zM204 496h8v4h-8zM104 500h4v4h-4zM204 500h4v4h-4zM564 500h4v4h-4zM204 504h8v4h-8zM232 504h4v4h-4zM316 504h8v4h-8zM400 504h4v4h-4zM568 504h4v4h-4zM200 508h8v4h-8zM148 512h4v4h-4zM284 512h4v4h-4zM376 512h4v4h-4zM584 512h4v4h-4zM124 516h4v4h-4zM116 520h4v4h-4zM124 520h4v4h-4zM268 520h4v4h-4zM356 520h4v4h-4zM400 520h4v4h-4zM124 524h4v4h-4zM208 524h4v4h-4zM220 524h4v4h-4zM256 524h4v4h-4zM372 524h4v4h-4zM136 528h4v4h-4zM208 528h4v4h-4zM220 528h4v4h-4zM236 528h4v4h-4zM372 528h4v4h-4zM400 528h4v4h-4zM88 532h4v4h-4zM188 536h4v4h-4zM356 536h4v4h-4zM512 536h4v4h-4zM568 536h4v4h-4zM76 540h4v4h-4zM116 540h4v4h-4zM128 540h8v4h-8zM160 540h4v4h-4zM200 540h4v4h-4zM232 540h4v4h-4zM280 540h4v4h-4zM388 540h4v4h-4zM464 540h4v4h-4zM584 540h4v4h-4zM136 544h4v4h-4zM356 544h4v4h-4zM136 548h4v4h-4zM220 548h4v4h-4zM320 548h4v4h-4zM88 552h8v4h-8zM148 552h4v4h-4zM188 552h4v4h-4zM288 552h4v4h-4zM396 552h4v4h-4zM412 552h4v4h-4zM140 556h8v4h-8zM380 556h4v4h-4zM388 556h4v4h-4zM140 560h4v4h-4zM160 560h8v4h-8zM260 560h4v4h-4zM376 560h4v4h-4zM384 560h8v4h-8zM112 564h4v4h-4zM140 564h4v4h-4zM160 564h8v4h-8zM276 564h4v4h-4zM352 564h4v4h-4zM484 564h4v4h-4zM500 564h4v4h-4zM88 568h8v4h-8zM320 568h4v4h-4zM72 572h4v4h-4zM196 572h4v4h-4zM228 572h4v4h-4zM236 572h4v4h-4zM292 572h4v4h-4zM364 572h4v4h-4zM412 572h4v4h-4zM80 576h4v4h-4zM152 576h4v4h-4zM168 576h4v4h-4zM364 576h4v4h-4zM392 576h4v4h-4zM184 584h4v4h-4zM272 584h4v4h-4zM408 584h4v4h-4zM548 584h4v4h-4zM184 592h4v4h-4zM232 592h4v4h-4zM592 592h4v4h-4zM72 596h4v4h-4zM80 596h4v4h-4zM152 596h4v4h-4zM164 596h4v4h-4zM276 596h4v4h-4zM292 596h4v4h-4zM376 596h4v4h-4zM128 600h4v4h-4zM252 600h4v4h-4zM404 600h4v4h-4zM572 604h4v4h-4zM72 608h4v4h-4zM464 608h4v4h-4zM600 608h4v4h-4zM84 612h4v4h-4zM100 612h4v4h-4zM216 612h4v4h-4zM276 612h4v4h-4zM524 612h4v4h-4zM556 612h4v4h-4zM80 616h8v4h-8zM96 616h8v4h-8zM208 616h12v4h-12zM424 616h4v4h-4zM88 620h4v4h-4zM96 620h4v4h-4zM212 620h4v4h-4zM256 620h4v4h-4zM292 620h4v4h-4zM496 620h4v4h-4zM160 624h4v4h-4zM208 624h8v4h-8zM304 624h4v4h-4zM188 628h4v4h-4zM420 628h8v4h-8zM68 632h4v4h-4zM88 632h4v4h-4zM180 632h4v4h-4zM348 632h4v4h-4zM376 632h4v4h-4zM416 632h8v4h-8zM512 632h4v4h-4zM244 636h4v4h-4zM320 636h4v4h-4zM348 636h4v4h-4zM412 636h4v4h-4zM440 636h4v4h-4zM124 644h4v4h-4zM200 644h4v4h-4zM224 644h4v4h-4zM88 648h4v4h-4zM380 648h4v4h-4zM512 648h4v4h-4zM536 648h4v4h-4zM92 652h4v4h-4zM364 652h4v4h-4zM220 656h4v4h-4zM280 656h4v4h-4zM304 656h4v4h-4zM328 656h4v4h-4zM412 656h4v4h-4zM440 656h4v4h-4zM484 656h4v4h-4zM184 660h4v4h-4zM376 660h4v4h-4zM504 660h4v4h-4zM140 664h4v4h-4zM256 664h4v4h-4zM164 668h4v4h-4zM216 668h4v4h-4zM268 668h4v4h-4zM544 668h4v4h-4zM100 672h4v4h-4zM196 672h4v4h-4zM256 672h4v4h-4zM620 672h4v4h-4zM224 676h4v4h-4zM272 676h4v4h-4zM512 676h4v4h-4zM56 680h4v4h-4zM164 680h4v4h-4zM176 680h4v4h-4zM204 680h4v4h-4zM236 680h4v4h-4zM524 680h4v4h-4zM160 684h8v4h-8zM236 684h4v4h-4zM272 684h4v4h-4zM308 684h4v4h-4zM348 684h8v4h-8zM352 688h4v4h-4zM440 688h4v4h-4zM556 688h4v4h-4zM80 692h4v4h-4zM124 692h4v4h-4zM176 692h4v4h-4zM256 692h4v4h-4zM268 692h4v4h-4zM288 692h4v4h-4zM352 692h4v4h-4zM144 696h4v4h-4zM368 696h4v4h-4zM564 696h4v4h-4zM124 700h4v4h-4zM100 704h4v4h-4zM112 704h4v4h-4zM160 704h4v4h-4zM208 704h8v4h-8zM232 704h4v4h-4zM280 704h8v4h-8zM336 704h4v4h-4zM356 704h4v4h-4zM104 708h4v4h-4zM148 708h4v4h-4zM160 708h4v4h-4zM248 708h4v4h-4zM352 708h8v4h-8zM408 708h4v4h-4zM416 708h4v4h-4zM488 712h4v4h-4zM552 712h4v4h-4zM572 712h4v4h-4zM88 716h4v4h-4zM132 716h4v4h-4zM316 716h8v4h-8zM380 716h4v4h-4zM400 716h4v4h-4zM436 716h4v4h-4zM88 720h8v4h-8zM108 720h4v4h-4zM132 720h4v4h-4zM184 720h4v4h-4zM196 720h4v4h-4zM256 720h8v4h-8zM148 724h4v2h-4zM156 724h4v2h-4z"/>
<path fill="#b24715" d="M172 176h4v4h-4zM388 204h4v4h-4zM376 212h4v4h-4zM560 216h4v4h-4zM568 216h4v4h-4zM560 220h4v4h-4zM464 252h4v4h-4zM224 288h4v4h-4zM152 332h4v4h-4zM520 332h4v4h-4zM520 344h4v4h-4zM88 384h4v4h-4zM452 384h4v4h-4zM124 404h4v4h-4zM128 408h4v4h-4zM148 408h4v4h-4zM436 468h4v4h-4zM272 476h4v4h-4zM112 492h4v4h-4zM208 492h4v4h-4zM200 504h4v4h-4zM120 520h4v4h-4zM136 540h4v4h-4zM144 552h4v4h-4zM380 560h4v4h-4zM80 612h4v4h-4zM212 612h4v4h-4zM100 620h4v4h-4zM424 632h4v4h-4zM344 684h4v4h-4z"/>
<path fill="#d20c0c" d="M564 216h4v4h-4z"/></g>
<defs><clipPath id="mc"><rect x="56" y="168" width="568" height="558"/></clipPath></defs><g clip-path="url(#mc)" fill="none" stroke="#717f8e" stroke-width="0.9" stroke-linejoin="round">
<polyline points="56,296.7 62.7,293.3 71,290 81,288.3 89.3,286.7 96,283 103.2,280.6 109.5,279 115,280.6 114.2,291.6 112.7,302.7 111.1,312.2 111.1,323.3 111.9,332.8 115.8,340.7 120.6,347 125.3,351.8 131.6,356.5 136.4,362.8 138,370.8 144.3,372.3 152.2,370.8 158.5,366 161.7,358.1 164.9,350.2 166.5,342.3 168,336 171.2,329.6 175.9,323.3 178.3,315.4 177.5,307.5 174.4,298 172,291.6 172.8,283.7 175.9,272.7 178.5,265 178.9,259.9 180.2,252 182.2,245.4 184.8,240.1 187.4,233.5 188.1,228.2 186.1,224.3 183.5,217.7 180.8,211.1 178.2,204.5 174.3,198 170.3,192.7 165,187.4 159.8,182.1 157.1,176.9 156.5,167"/>
<polyline points="199.2,440.6 201.2,438 207.1,438.6 215,440.6 215.7,435.3 213.7,430 209.8,427.4 205.8,426.1 207.8,419.5 209.8,414.3 208.4,410.3 207.8,406.4 211,399.8 215,397.1 220.3,396.5 223,399.8 229.5,405 236.1,410.3 241.4,423.5 246.7,431.4 250.6,438 254.6,444.6 259.8,451.1 266.4,459 271.7,465.6 274.3,474.9 278.8,479.8 281.6,489 286.2,500 289,507.4 289.9,518.5 294.5,525.9 305.6,528.7 318.5,527.7 327.7,522.2 335.1,516.7 344.3,514.8 353.6,516.7 360.9,520.4 366.5,529.6 370.2,538.8 375.7,544.3 383.1,548 390.5,553.6 397.8,557.3 404,564.7 410.7,571.3 419,574.7 427.3,578 430.7,579.7 437.3,578 444,574.7 454,571.3 464,568 476.9,563.6 488,560 500.9,556.2 508.3,552.5 506.4,547 499,542.4 502.7,539.6 508.3,537.8 510.1,530.4 513.8,525.8 519.3,524.9 523,519.3 526.7,513.8 536,510.1 545.2,506.4 552.5,502.7 560,499 568.5,491 575.3,485.9 582.2,479 589,473.9"/>
<polyline points="420.7,168 430.7,178 437.3,186.3 442.3,196.3 447.3,206.3 454,214.7 460.7,223 464,231.3 467,240 470.7,250 475.7,257 477.3,262 475.7,273.3 477.3,283.3 479,295 482.3,306.7 484,312 488,322 493,335.3 498,348.7 503,360.3 506.3,365.3 504.7,373.7 506.3,384 509.7,387.3 513.7,390 518.8,396.8 525.7,400.3 530.8,408.8 536,412.3 539.4,417.4 541.1,426 539.4,432.8 541.1,439.7 541.1,444 546.2,439.7 554.8,435.4 565.1,434.9 568.5,439.7 569.3,448.2 571.9,453.4 575.3,456.8 577.1,461.9 580.5,465.3 585.6,468.8 589,473.9 595.9,475.6 601,480.8 609.6,482.5 616.4,477.3 624.5,479"/>
<polyline points="88.5,466 87.3,480 86,495 84,510 82,522 83.5,532 86,540 87.3,551 84.8,566 83.5,581 81,593.6 78.5,606 83.5,616 88.5,621 98.5,626 108.6,631 118.6,638.6 128.6,646 133.6,656 138.6,663.7 146,667.4 156,666 166,668.7 171,673.7 173.6,681.2 186,683.7 201,681.2 216.2,678.7 231.2,681.2 240,678.6 251.6,678.6 263.1,683.2 274.7,692.4 286.2,698.2 297.8,698.2 309.4,692.4 316.3,690.1 327.9,693.6 337.1,697.1 346.4,699.4 355.6,701.7 362.5,706.3 367.2,710.9 376.4,713.2 385.7,710.9 390.3,717.9 394.9,722.5 401.8,724.8 408.8,723.6 415.7,726 430,727"/>
<polyline points="56,696.2 66,701.2 76,708.7 86,713.7 93.5,721.2 97,727"/>
<polyline points="536,727 538,725.3 543,722 551.3,718.7 558,715.3 566.3,713.7 573.4,712.3 582.4,710 591.4,707.8 598,709 604.8,705.6 613.8,704.5 620.5,703.3 625,702.2"/>
<polyline points="621.6,598 620.5,604.8 622.7,613.8 621.6,625 619.4,634 616,638.4 610.4,642.9 607,649.6 604.8,658.5 606,665.3 610.4,667.5 616,672 620.5,674.2 625,676.5"/>
<polyline points="625,640.6 618.2,645.1 613.8,649.6 610.4,656.3 609.3,663 611.5,669.7 616,678.7 617.1,685.4 620.5,692.1 625,694.4"/>
</g>
<g id="over"><rect x="203" y="610" width="17" height="17" fill="#e0401a"/>
<rect x="206" y="612" width="12" height="13" fill="#c81a10"/>
<rect x="110" y="391" width="17" height="16" fill="#ee4a1a"/>
<rect x="117" y="393" width="9" height="10" fill="#d21410"/>
<rect x="374" y="547" width="19" height="15" fill="#f0521e"/>
<rect x="379" y="549" width="11" height="12" fill="#d42016"/>
<rect x="459" y="379" width="10" height="20" fill="#e04a1c"/>
<rect x="462" y="380" width="7" height="13" fill="#b8321a"/>
<rect x="164.1" y="179.1" width="3.8" height="3.8" fill="#000"/>
<rect x="172.6" y="192.6" width="3.8" height="3.8" fill="#000"/>
<rect x="228.7" y="223.8" width="3.8" height="3.8" fill="#000"/>
<rect x="312.4" y="176.4" width="3.8" height="3.8" fill="#000"/>
<rect x="342.9" y="229.1" width="3.8" height="3.8" fill="#000"/>
<rect x="422.1" y="187.4" width="3.8" height="3.8" fill="#000"/>
<rect x="571.1" y="219.1" width="3.8" height="3.8" fill="#000"/>
<rect x="120.4" y="268.1" width="3.8" height="3.8" fill="#000"/>
<rect x="236.1" y="291.8" width="3.8" height="3.8" fill="#000"/>
<rect x="461.4" y="259.8" width="3.8" height="3.8" fill="#000"/>
<rect x="352.9" y="317.6" width="3.8" height="3.8" fill="#000"/>
<rect x="476.3" y="327.6" width="3.8" height="3.8" fill="#000"/>
<rect x="520.3" y="338.8" width="3.8" height="3.8" fill="#000"/>
<rect x="159.4" y="333.1" width="3.8" height="3.8" fill="#000"/>
<rect x="247.3" y="338.8" width="3.8" height="3.8" fill="#000"/>
<rect x="363.8" y="379.3" width="3.8" height="3.8" fill="#000"/>
<rect x="465.4" y="384.6" width="3.8" height="3.8" fill="#000"/>
<rect x="86.6" y="384.6" width="3.8" height="3.8" fill="#000"/>
<rect x="121.3" y="401.8" width="3.8" height="3.8" fill="#000"/>
<rect x="600.3" y="406.3" width="3.8" height="3.8" fill="#000"/>
<rect x="454.6" y="426.3" width="3.8" height="3.8" fill="#000"/>
<rect x="348.1" y="447.8" width="3.8" height="3.8" fill="#000"/>
<rect x="588.6" y="452.1" width="3.8" height="3.8" fill="#000"/>
<rect x="273.1" y="473.3" width="3.8" height="3.8" fill="#000"/>
<rect x="436.3" y="483.8" width="3.8" height="3.8" fill="#000"/>
<rect x="109.1" y="493.8" width="3.8" height="3.8" fill="#000"/>
<rect x="203.9" y="503.8" width="3.8" height="3.8" fill="#000"/>
<rect x="599.9" y="535.3" width="3.8" height="3.8" fill="#000"/>
<rect x="134.9" y="545.8" width="3.8" height="3.8" fill="#000"/>
<rect x="389.3" y="555.8" width="3.8" height="3.8" fill="#000"/>
<rect x="523.1" y="560.8" width="3.8" height="3.8" fill="#000"/>
<rect x="305.6" y="596.9" width="3.8" height="3.8" fill="#000"/>
<rect x="211.1" y="617.8" width="3.8" height="3.8" fill="#000"/>
<rect x="88.6" y="626.1" width="3.8" height="3.8" fill="#000"/>
<rect x="425.4" y="627.3" width="3.8" height="3.8" fill="#000"/>
<rect x="556.1" y="627.3" width="3.8" height="3.8" fill="#000"/>
<rect x="126.6" y="657.8" width="3.8" height="3.8" fill="#000"/>
<rect x="334.6" y="678.3" width="3.8" height="3.8" fill="#000"/>
<rect x="344.9" y="688.6" width="3.8" height="3.8" fill="#000"/>
<rect x="58.3" y="688.4" width="3.8" height="3.8" fill="#000"/>
<rect x="494.1" y="719.3" width="3.8" height="3.8" fill="#000"/>
<rect x="571.1" y="709.3" width="3.8" height="3.8" fill="#000"/>
<rect x="55.5" y="167.5" width="3.8" height="3.8" fill="#000"/>
<polygon points="334.40,411.73 339.61,428.13 356.79,428.13 343.37,438.07 348.01,453.70 334.40,443.76 320.89,453.70 326.20,438.07 312.11,428.13 329.67,428.13" fill="#ffff14" stroke="#000" stroke-width="1.6" stroke-linejoin="round"/></g>
<rect x="54.50" y="165.2" width="2.34" height="3.00" fill="#58585a"/>
<rect x="56.84" y="165.2" width="21.78" height="3.00" fill="#ffffff"/>
<rect x="78.62" y="165.2" width="21.78" height="3.00" fill="#58585a"/>
<rect x="100.40" y="165.2" width="21.78" height="3.00" fill="#ffffff"/>
<rect x="122.18" y="165.2" width="21.78" height="3.00" fill="#58585a"/>
<rect x="143.96" y="165.2" width="21.78" height="3.00" fill="#ffffff"/>
<rect x="165.74" y="165.2" width="21.78" height="3.00" fill="#58585a"/>
<rect x="187.52" y="165.2" width="21.78" height="3.00" fill="#ffffff"/>
<rect x="209.30" y="165.2" width="21.78" height="3.00" fill="#58585a"/>
<rect x="231.08" y="165.2" width="21.78" height="3.00" fill="#ffffff"/>
<rect x="252.86" y="165.2" width="21.78" height="3.00" fill="#58585a"/>
<rect x="274.64" y="165.2" width="21.78" height="3.00" fill="#ffffff"/>
<rect x="296.42" y="165.2" width="21.78" height="3.00" fill="#58585a"/>
<rect x="318.20" y="165.2" width="21.78" height="3.00" fill="#ffffff"/>
<rect x="339.98" y="165.2" width="21.78" height="3.00" fill="#58585a"/>
<rect x="361.76" y="165.2" width="21.78" height="3.00" fill="#ffffff"/>
<rect x="383.54" y="165.2" width="21.78" height="3.00" fill="#58585a"/>
<rect x="405.32" y="165.2" width="21.78" height="3.00" fill="#ffffff"/>
<rect x="427.10" y="165.2" width="21.78" height="3.00" fill="#58585a"/>
<rect x="448.88" y="165.2" width="21.78" height="3.00" fill="#ffffff"/>
<rect x="470.66" y="165.2" width="21.78" height="3.00" fill="#58585a"/>
<rect x="492.44" y="165.2" width="21.78" height="3.00" fill="#ffffff"/>
<rect x="514.22" y="165.2" width="21.78" height="3.00" fill="#58585a"/>
<rect x="536.00" y="165.2" width="21.78" height="3.00" fill="#ffffff"/>
<rect x="557.78" y="165.2" width="21.78" height="3.00" fill="#58585a"/>
<rect x="579.56" y="165.2" width="21.78" height="3.00" fill="#ffffff"/>
<rect x="601.34" y="165.2" width="21.78" height="3.00" fill="#58585a"/>
<rect x="623.12" y="165.2" width="2.38" height="3.00" fill="#ffffff"/>
<rect x="54.50" y="726.2" width="2.34" height="2.80" fill="#58585a"/>
<rect x="56.84" y="726.2" width="21.78" height="2.80" fill="#ffffff"/>
<rect x="78.62" y="726.2" width="21.78" height="2.80" fill="#58585a"/>
<rect x="100.40" y="726.2" width="21.78" height="2.80" fill="#ffffff"/>
<rect x="122.18" y="726.2" width="21.78" height="2.80" fill="#58585a"/>
<rect x="143.96" y="726.2" width="21.78" height="2.80" fill="#ffffff"/>
<rect x="165.74" y="726.2" width="21.78" height="2.80" fill="#58585a"/>
<rect x="187.52" y="726.2" width="21.78" height="2.80" fill="#ffffff"/>
<rect x="209.30" y="726.2" width="21.78" height="2.80" fill="#58585a"/>
<rect x="231.08" y="726.2" width="21.78" height="2.80" fill="#ffffff"/>
<rect x="252.86" y="726.2" width="21.78" height="2.80" fill="#58585a"/>
<rect x="274.64" y="726.2" width="21.78" height="2.80" fill="#ffffff"/>
<rect x="296.42" y="726.2" width="21.78" height="2.80" fill="#58585a"/>
<rect x="318.20" y="726.2" width="21.78" height="2.80" fill="#ffffff"/>
<rect x="339.98" y="726.2" width="21.78" height="2.80" fill="#58585a"/>
<rect x="361.76" y="726.2" width="21.78" height="2.80" fill="#ffffff"/>
<rect x="383.54" y="726.2" width="21.78" height="2.80" fill="#58585a"/>
<rect x="405.32" y="726.2" width="21.78" height="2.80" fill="#ffffff"/>
<rect x="427.10" y="726.2" width="21.78" height="2.80" fill="#58585a"/>
<rect x="448.88" y="726.2" width="21.78" height="2.80" fill="#ffffff"/>
<rect x="470.66" y="726.2" width="21.78" height="2.80" fill="#58585a"/>
<rect x="492.44" y="726.2" width="21.78" height="2.80" fill="#ffffff"/>
<rect x="514.22" y="726.2" width="21.78" height="2.80" fill="#58585a"/>
<rect x="536.00" y="726.2" width="21.78" height="2.80" fill="#ffffff"/>
<rect x="557.78" y="726.2" width="21.78" height="2.80" fill="#58585a"/>
<rect x="579.56" y="726.2" width="21.78" height="2.80" fill="#ffffff"/>
<rect x="601.34" y="726.2" width="21.78" height="2.80" fill="#58585a"/>
<rect x="623.12" y="726.2" width="2.38" height="2.80" fill="#ffffff"/>
<rect x="53.8" y="725.40" width="2.50" height="3.60" fill="#ffffff"/>
<rect x="53.8" y="694.80" width="2.50" height="30.60" fill="#58585a"/>
<rect x="53.8" y="664.20" width="2.50" height="30.60" fill="#ffffff"/>
<rect x="53.8" y="633.60" width="2.50" height="30.60" fill="#58585a"/>
<rect x="53.8" y="603.00" width="2.50" height="30.60" fill="#ffffff"/>
<rect x="53.8" y="572.26" width="2.50" height="30.74" fill="#58585a"/>
<rect x="53.8" y="541.52" width="2.50" height="30.74" fill="#ffffff"/>
<rect x="53.8" y="510.78" width="2.50" height="30.74" fill="#58585a"/>
<rect x="53.8" y="480.04" width="2.50" height="30.74" fill="#ffffff"/>
<rect x="53.8" y="449.30" width="2.50" height="30.74" fill="#58585a"/>
<rect x="53.8" y="418.16" width="2.50" height="31.14" fill="#ffffff"/>
<rect x="53.8" y="387.02" width="2.50" height="31.14" fill="#58585a"/>
<rect x="53.8" y="355.88" width="2.50" height="31.14" fill="#ffffff"/>
<rect x="53.8" y="324.74" width="2.50" height="31.14" fill="#58585a"/>
<rect x="53.8" y="293.60" width="2.50" height="31.14" fill="#ffffff"/>
<rect x="53.8" y="262.32" width="2.50" height="31.28" fill="#58585a"/>
<rect x="53.8" y="231.04" width="2.50" height="31.28" fill="#ffffff"/>
<rect x="53.8" y="199.76" width="2.50" height="31.28" fill="#58585a"/>
<rect x="53.8" y="168.48" width="2.50" height="31.28" fill="#ffffff"/>
<rect x="53.8" y="165.20" width="2.50" height="3.28" fill="#58585a"/>
<rect x="623.6" y="725.40" width="2.50" height="3.60" fill="#ffffff"/>
<rect x="623.6" y="694.80" width="2.50" height="30.60" fill="#58585a"/>
<rect x="623.6" y="664.20" width="2.50" height="30.60" fill="#ffffff"/>
<rect x="623.6" y="633.60" width="2.50" height="30.60" fill="#58585a"/>
<rect x="623.6" y="603.00" width="2.50" height="30.60" fill="#ffffff"/>
<rect x="623.6" y="572.26" width="2.50" height="30.74" fill="#58585a"/>
<rect x="623.6" y="541.52" width="2.50" height="30.74" fill="#ffffff"/>
<rect x="623.6" y="510.78" width="2.50" height="30.74" fill="#58585a"/>
<rect x="623.6" y="480.04" width="2.50" height="30.74" fill="#ffffff"/>
<rect x="623.6" y="449.30" width="2.50" height="30.74" fill="#58585a"/>
<rect x="623.6" y="418.16" width="2.50" height="31.14" fill="#ffffff"/>
<rect x="623.6" y="387.02" width="2.50" height="31.14" fill="#58585a"/>
<rect x="623.6" y="355.88" width="2.50" height="31.14" fill="#ffffff"/>
<rect x="623.6" y="324.74" width="2.50" height="31.14" fill="#58585a"/>
<rect x="623.6" y="293.60" width="2.50" height="31.14" fill="#ffffff"/>
<rect x="623.6" y="262.32" width="2.50" height="31.28" fill="#58585a"/>
<rect x="623.6" y="231.04" width="2.50" height="31.28" fill="#ffffff"/>
<rect x="623.6" y="199.76" width="2.50" height="31.28" fill="#58585a"/>
<rect x="623.6" y="168.48" width="2.50" height="31.28" fill="#ffffff"/>
<rect x="623.6" y="165.20" width="2.50" height="3.28" fill="#58585a"/>
<rect x="54.3" y="165.5" width="571.4" height="563" fill="none" stroke="#8a8a8a" stroke-width="0.7"/>
<rect x="56.3" y="168.2" width="567.3" height="558" fill="none" stroke="#8a8a8a" stroke-width="0.6"/>
<line x1="100.40" y1="160.5" x2="100.40" y2="165.5" stroke="#555" stroke-width="0.9"/>
<line x1="100.40" y1="729" x2="100.40" y2="734" stroke="#555" stroke-width="0.9"/>
<line x1="209.30" y1="160.5" x2="209.30" y2="165.5" stroke="#555" stroke-width="0.9"/>
<line x1="209.30" y1="729" x2="209.30" y2="734" stroke="#555" stroke-width="0.9"/>
<line x1="318.20" y1="160.5" x2="318.20" y2="165.5" stroke="#555" stroke-width="0.9"/>
<line x1="318.20" y1="729" x2="318.20" y2="734" stroke="#555" stroke-width="0.9"/>
<line x1="427.10" y1="160.5" x2="427.10" y2="165.5" stroke="#555" stroke-width="0.9"/>
<line x1="427.10" y1="729" x2="427.10" y2="734" stroke="#555" stroke-width="0.9"/>
<line x1="536.00" y1="160.5" x2="536.00" y2="165.5" stroke="#555" stroke-width="0.9"/>
<line x1="536.00" y1="729" x2="536.00" y2="734" stroke="#555" stroke-width="0.9"/>
<line x1="49" y1="293.60" x2="54.3" y2="293.60" stroke="#555" stroke-width="0.9"/>
<line x1="626" y1="293.60" x2="631.5" y2="293.60" stroke="#555" stroke-width="0.9"/>
<line x1="49" y1="449.30" x2="54.3" y2="449.30" stroke="#555" stroke-width="0.9"/>
<line x1="626" y1="449.30" x2="631.5" y2="449.30" stroke="#555" stroke-width="0.9"/>
<line x1="49" y1="603.00" x2="54.3" y2="603.00" stroke="#555" stroke-width="0.9"/>
<line x1="626" y1="603.00" x2="631.5" y2="603.00" stroke="#555" stroke-width="0.9"/>
<rect x="477.3" y="73.2" width="140.2" height="3.9" fill="#fff" stroke="#999" stroke-width="0.6"/>
<rect x="477.3" y="73.2" width="28" height="3.9" fill="#000"/>
<rect x="533.4" y="73.2" width="28" height="3.9" fill="#000"/>
<rect x="589.5" y="73.2" width="28" height="3.9" fill="#000"/>
<line x1="477.6" y1="73" x2="477.6" y2="80" stroke="#777" stroke-width="0.7"/>
<line x1="617.3" y1="73" x2="617.3" y2="80" stroke="#777" stroke-width="0.7"/>
</svg>
<div style="position:absolute;left:56px;top:168px;width:568px;height:558px;overflow:hidden"><div class="c m" style="left:113.3px;top:0.6px">Miercurea Ciuc</div>
<div class="c m" style="left:120.8px;top:14.1px">Sincraieni</div>
<div class="c m" style="left:178.0px;top:45.5px">Imper</div>
<div class="c m" style="left:261.5px;top:-2.5px">Darmanesti</div>
<div class="c m" style="left:291.3px;top:49.8px">Oituz</div>
<div class="c m" style="left:371.3px;top:8.3px">Racaciuni</div>
<div class="c m" style="left:520.3px;top:40.5px">Birlad</div>
<div class="c m" style="left:69.2px;top:89.5px">Baraolt</div>
<div class="c m" style="left:185.7px;top:113.6px">Tirgu Secuiesc</div>
<div class="c m" style="left:412.2px;top:81.1px">Adjud</div>
<div class="c m" style="left:302.2px;top:139.0px">Tulnici</div>
<div class="c m" style="left:425.5px;top:149.8px">Marasheshty</div>
<div class="c m" style="left:469.0px;top:160.6px">Tecuci</div>
<div class="c m" style="left:109.2px;top:154.5px">Sfantu-Gheorghe</div>
<div class="c m" style="left:197.0px;top:160.6px">Covasna</div>
<div class="c m" style="left:313.0px;top:201.5px">Nereju</div>
<div class="c m" style="left:414.7px;top:206.5px">Focsani</div>
<div class="c m" style="left:35.8px;top:206.1px">Codlea</div>
<div class="c m" style="left:70.3px;top:222.6px">Brasov</div>
<div class="c m" style="left:548.7px;top:227.6px">Pechea</div>
<div class="c m" style="left:403.8px;top:248.5px">Gugesti</div>
<div class="c m" style="left:298.0px;top:268.5px">Grunji</div>
<div class="c m" style="left:537.8px;top:274.3px">Independenta</div>
<div class="c m" style="left:222.3px;top:293.8px">Nehoiu</div>
<div class="c m" style="left:385.5px;top:305.5px">Rimnicu Sarat</div>
<div class="c m" style="left:58.0px;top:315.5px">Sinaia</div>
<div class="c m" style="left:153.2px;top:325.5px">Maneciu</div>
<div class="c m" style="left:548.7px;top:356.6px">Tudor Vladimirescu</div>
<div class="c m" style="left:83.3px;top:366.6px">Breaza</div>
<div class="c m" style="left:338.3px;top:377.5px">Buzau</div>
<div class="c m" style="left:472.0px;top:382.5px">Ianca</div>
<div class="c m" style="left:254.8px;top:418.3px">Mizil</div>
<div class="c m" style="left:160.7px;top:438.6px">Ploiesti</div>
<div class="c m" style="left:38.3px;top:447.5px">Targoviste</div>
<div class="c m" style="left:374.7px;top:448.6px">Pogoanele</div>
<div class="c m" style="left:505.3px;top:448.6px">Insuratei</div>
<div class="c m" style="left:75.8px;top:479.5px">Baleni Sirbi</div>
<div class="c m" style="left:283.4px;top:500.6px">Armasesti</div>
<div class="c m" style="left:295.0px;top:510.4px">Urziceni</div>
<div class="c m" style="left:6.7px;top:509.8px">Gaesti</div>
<div class="c m" style="left:443.3px;top:540.1px">Amara</div>
<div class="c m" style="left:520.3px;top:530.6px">Tandarei</div></div>
<div class="tl m" style="left:59.2px;top:141.9px">25.5°</div>
<div class="tl m" style="left:59.2px;top:736.7px">25.5°</div>
<div class="tl m" style="left:168.1px;top:141.9px">26°</div>
<div class="tl m" style="left:168.1px;top:736.7px">26°</div>
<div class="tl m" style="left:277.0px;top:141.9px">26.5°</div>
<div class="tl m" style="left:277.0px;top:736.7px">26.5°</div>
<div class="tl m" style="left:385.9px;top:141.9px">27°</div>
<div class="tl m" style="left:385.9px;top:736.7px">27°</div>
<div class="tl m" style="left:494.8px;top:141.9px">27.5°</div>
<div class="tl m" style="left:494.8px;top:736.7px">27.5°</div>
<div class="tr m" style="right:824.0px;top:286.0px">46°</div>
<div class="tll m" style="left:637.5px;top:286.0px">46°</div>
<div class="tr m" style="right:824.0px;top:441.7px">45.5°</div>
<div class="tll m" style="left:637.5px;top:441.7px">45.5°</div>
<div class="tr m" style="right:824.0px;top:595.4px">45°</div>
<div class="tll m" style="left:637.5px;top:595.4px">45°</div>
<div class="sk m" style="left:463.5px;top:84.6px;transform:scaleX(1.13)">0 km</div>
<div class="sk m" style="left:600.5px;top:84.6px;transform:scaleX(1.10)">50 km</div>
<div class="t m" style="left:689.5px;top:122px;font-size:14px;line-height:19px;letter-spacing:0.45px">Number of inhabitants<br>per square kilometer</div>
<div class="lb" style="top:187.0px;background:#e3e3e1"></div><div class="lt m" style="top:193.0px">pop &lt; 5</div><div class="lb" style="top:218.3px;background:#fafac8"></div><div class="lt m" style="top:224.3px">5 &lt; pop &lt; 25</div><div class="lb" style="top:249.6px;background:#fafa5a"></div><div class="lt m" style="top:255.6px">25 &lt; pop &lt; 125</div><div class="lb" style="top:280.9px;background:#fa9834"></div><div class="lt m" style="top:286.9px">125 &lt; pop &lt; 600</div><div class="lb" style="top:312.2px;background:#fc5418"></div><div class="lt m" style="top:318.2px">600 &lt; pop &lt; 3000</div><div class="lb" style="top:343.5px;background:#b14614"></div><div class="lt m" style="top:349.5px">3000 &lt; pop &lt; 15000</div><div class="lb" style="top:374.8px;background:#d20c0c"></div><div class="lt m" style="top:380.8px">pop &gt; 15000</div>
</body></html>
